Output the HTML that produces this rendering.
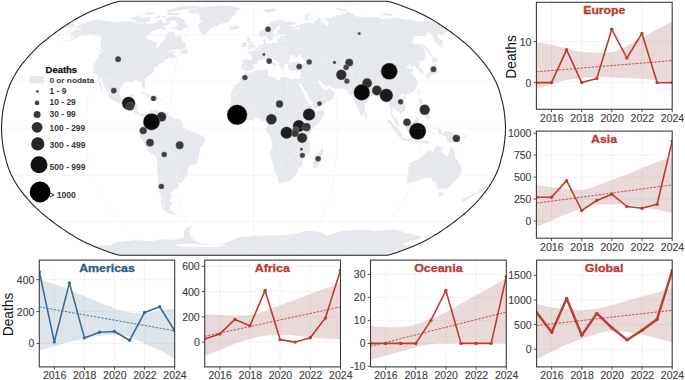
<!DOCTYPE html>
<html><head><meta charset="utf-8"><style>
html,body{margin:0;padding:0;background:#fff;}
svg{display:block;font-family:"Liberation Sans",sans-serif;}
.grid{stroke:#e9e9e9;stroke-width:0.8;stroke-dasharray:1.9,1.0;}
.spine{stroke:#3c3c3c;stroke-width:1.1;}
.tick{stroke:#3c3c3c;stroke-width:0.9;}
.tl{font-size:10px;fill:#404040;stroke:#404040;stroke-width:0.12;}
</style></head><body>
<svg width="685" height="380" viewBox="0 0 685 380">
<defs><clipPath id="mapclip"><path d="M387.6,1.2 L389.4,1.7 L391.3,2.2 L393.3,2.8 L395.5,3.5 L397.7,4.2 L400.0,5.1 L402.4,5.9 L404.9,6.9 L407.5,7.9 L410.1,8.9 L412.7,10.0 L415.4,11.1 L418.0,12.3 L420.6,13.5 L423.1,14.7 L425.6,16.0 L427.9,17.2 L430.2,18.5 L432.4,19.8 L434.6,21.1 L436.7,22.4 L438.8,23.7 L440.9,25.1 L442.9,26.5 L444.9,27.8 L446.9,29.2 L448.9,30.6 L450.9,32.0 L452.8,33.5 L454.7,34.9 L456.6,36.4 L458.5,37.8 L460.3,39.3 L462.1,40.8 L463.9,42.2 L465.7,43.7 L467.4,45.2 L469.0,46.7 L470.6,48.2 L472.2,49.8 L473.7,51.3 L475.2,52.8 L476.6,54.4 L478.0,55.9 L479.3,57.4 L480.7,59.0 L482.0,60.6 L483.3,62.1 L484.5,63.7 L485.7,65.2 L486.9,66.8 L488.0,68.4 L489.1,69.9 L490.1,71.5 L491.1,73.1 L492.0,74.7 L492.9,76.2 L493.8,77.8 L494.6,79.4 L495.4,81.0 L496.2,82.5 L496.9,84.1 L497.5,85.7 L498.1,87.3 L498.7,88.8 L499.2,90.4 L499.7,92.0 L500.2,93.6 L500.6,95.1 L501.0,96.7 L501.4,98.3 L501.8,99.9 L502.2,101.4 L502.6,103.0 L503.0,104.6 L503.3,106.2 L503.6,107.7 L503.9,109.3 L504.1,110.9 L504.3,112.5 L504.5,114.0 L504.7,115.6 L504.9,117.2 L505.0,118.8 L505.1,120.3 L505.3,121.9 L505.3,123.5 L505.4,125.1 L505.5,126.6 L505.5,128.2 L505.5,129.8 L505.4,131.3 L505.3,132.9 L505.3,134.5 L505.1,136.1 L505.0,137.6 L504.9,139.2 L504.7,140.8 L504.5,142.4 L504.3,143.9 L504.1,145.5 L503.9,147.1 L503.6,148.7 L503.3,150.2 L503.0,151.8 L502.6,153.4 L502.2,155.0 L501.8,156.5 L501.4,158.1 L501.0,159.7 L500.6,161.3 L500.2,162.8 L499.7,164.4 L499.2,166.0 L498.7,167.6 L498.1,169.1 L497.5,170.7 L496.9,172.3 L496.2,173.9 L495.4,175.4 L494.6,177.0 L493.8,178.6 L492.9,180.2 L492.0,181.7 L491.1,183.3 L490.1,184.9 L489.1,186.5 L488.0,188.0 L486.9,189.6 L485.7,191.2 L484.5,192.7 L483.3,194.3 L482.0,195.8 L480.7,197.4 L479.3,199.0 L478.0,200.5 L476.6,202.0 L475.2,203.6 L473.7,205.1 L472.2,206.6 L470.6,208.2 L469.0,209.7 L467.4,211.2 L465.7,212.7 L463.9,214.2 L462.1,215.6 L460.3,217.1 L458.5,218.6 L456.6,220.0 L454.7,221.5 L452.8,222.9 L450.9,224.4 L448.9,225.8 L446.9,227.2 L444.9,228.6 L442.9,229.9 L440.9,231.3 L438.8,232.7 L436.7,234.0 L434.6,235.3 L432.4,236.6 L430.2,237.9 L427.9,239.2 L425.6,240.4 L423.1,241.7 L420.6,242.9 L418.0,244.1 L415.4,245.3 L412.7,246.4 L410.1,247.5 L407.5,248.5 L404.9,249.5 L402.4,250.5 L400.0,251.3 L397.7,252.2 L395.5,252.9 L393.3,253.6 L391.3,254.2 L389.4,254.7 L387.6,255.2 L119.4,255.2 L117.6,254.7 L115.7,254.2 L113.7,253.6 L111.5,252.9 L109.3,252.2 L107.0,251.3 L104.6,250.5 L102.1,249.5 L99.5,248.5 L96.9,247.5 L94.3,246.4 L91.6,245.3 L89.0,244.1 L86.4,242.9 L83.9,241.7 L81.4,240.4 L79.1,239.2 L76.8,237.9 L74.6,236.6 L72.4,235.3 L70.3,234.0 L68.2,232.7 L66.1,231.3 L64.1,229.9 L62.1,228.6 L60.1,227.2 L58.1,225.8 L56.1,224.4 L54.2,222.9 L52.3,221.5 L50.4,220.0 L48.5,218.6 L46.7,217.1 L44.9,215.6 L43.1,214.2 L41.3,212.7 L39.6,211.2 L38.0,209.7 L36.4,208.2 L34.8,206.6 L33.3,205.1 L31.8,203.6 L30.4,202.0 L29.0,200.5 L27.7,199.0 L26.3,197.4 L25.0,195.8 L23.7,194.3 L22.5,192.7 L21.3,191.2 L20.1,189.6 L19.0,188.0 L17.9,186.5 L16.9,184.9 L15.9,183.3 L15.0,181.7 L14.1,180.2 L13.2,178.6 L12.4,177.0 L11.6,175.4 L10.8,173.9 L10.1,172.3 L9.5,170.7 L8.9,169.1 L8.3,167.6 L7.8,166.0 L7.3,164.4 L6.8,162.8 L6.4,161.3 L6.0,159.7 L5.6,158.1 L5.2,156.5 L4.8,155.0 L4.4,153.4 L4.0,151.8 L3.7,150.2 L3.4,148.7 L3.1,147.1 L2.9,145.5 L2.7,143.9 L2.5,142.4 L2.3,140.8 L2.1,139.2 L2.0,137.6 L1.9,136.1 L1.7,134.5 L1.7,132.9 L1.6,131.3 L1.5,129.8 L1.5,128.2 L1.5,126.6 L1.6,125.1 L1.7,123.5 L1.7,121.9 L1.9,120.3 L2.0,118.8 L2.1,117.2 L2.3,115.6 L2.5,114.0 L2.7,112.5 L2.9,110.9 L3.1,109.3 L3.4,107.7 L3.7,106.2 L4.0,104.6 L4.4,103.0 L4.8,101.4 L5.2,99.9 L5.6,98.3 L6.0,96.7 L6.4,95.1 L6.8,93.6 L7.3,92.0 L7.8,90.4 L8.3,88.8 L8.9,87.3 L9.5,85.7 L10.1,84.1 L10.8,82.5 L11.6,81.0 L12.4,79.4 L13.2,77.8 L14.1,76.2 L15.0,74.7 L15.9,73.1 L16.9,71.5 L17.9,69.9 L19.0,68.4 L20.1,66.8 L21.3,65.2 L22.5,63.7 L23.7,62.1 L25.0,60.6 L26.3,59.0 L27.7,57.4 L29.0,55.9 L30.4,54.4 L31.8,52.8 L33.3,51.3 L34.8,49.8 L36.4,48.2 L38.0,46.7 L39.6,45.2 L41.3,43.7 L43.1,42.2 L44.9,40.8 L46.7,39.3 L48.5,37.8 L50.4,36.4 L52.3,34.9 L54.2,33.5 L56.1,32.0 L58.1,30.6 L60.1,29.2 L62.1,27.8 L64.1,26.5 L66.1,25.1 L68.2,23.7 L70.3,22.4 L72.4,21.1 L74.6,19.8 L76.8,18.5 L79.1,17.2 L81.4,16.0 L83.9,14.7 L86.4,13.5 L89.0,12.3 L91.6,11.1 L94.3,10.0 L96.9,8.9 L99.5,7.9 L102.1,6.9 L104.6,5.9 L107.0,5.1 L109.3,4.2 L111.5,3.5 L113.7,2.8 L115.7,2.2 L117.6,1.7 L119.4,1.2Z"/></clipPath><clipPath id="clipEurope"><rect x="536.4" y="2.3" width="135.8" height="107.0"/></clipPath><clipPath id="clipAsia"><rect x="536.4" y="131.1" width="135.8" height="107.1"/></clipPath><clipPath id="clipAmericas"><rect x="39.3" y="260.1" width="135.4" height="106.8"/></clipPath><clipPath id="clipAfrica"><rect x="204.7" y="260.1" width="135.8" height="106.8"/></clipPath><clipPath id="clipOceania"><rect x="370.5" y="260.1" width="135.8" height="106.8"/></clipPath><clipPath id="clipGlobal"><rect x="536.6" y="260.1" width="135.6" height="106.8"/></clipPath></defs>
<rect width="685" height="380" fill="#fff"/>
<g clip-path="url(#mapclip)">
<path d="M52.3,221.5 L454.7,221.5 M11.6,175.4 L495.4,175.4 M1.5,128.2 L505.5,128.2 M11.6,81.0 L495.4,81.0 M52.3,34.9 L454.7,34.9 M164.1,255.2 L161.6,254.2 L158.9,252.9 L155.8,251.3 L152.6,249.5 L149.1,247.5 L145.6,245.3 L142.1,242.9 L138.8,240.4 L135.7,237.9 L132.8,235.3 L130.0,232.7 L127.2,229.9 L124.5,227.2 L121.9,224.4 L119.3,221.5 L116.8,218.6 L114.4,215.6 L112.1,212.7 L109.8,209.7 L107.7,206.6 L105.7,203.6 L103.8,200.5 L102.0,197.4 L100.3,194.3 L98.7,191.2 L97.2,188.0 L95.8,184.9 L94.5,181.7 L93.3,178.6 L92.2,175.4 L91.3,172.3 L90.4,169.1 L89.7,166.0 L89.1,162.8 L88.5,159.7 L87.9,156.5 L87.4,153.4 L87.0,150.2 L86.6,147.1 L86.3,143.9 L86.0,140.8 L85.8,137.6 L85.7,134.5 L85.6,131.3 L85.5,128.2 L85.6,125.1 L85.7,121.9 L85.8,118.8 L86.0,115.6 L86.3,112.5 L86.6,109.3 L87.0,106.2 L87.4,103.0 L87.9,99.9 L88.5,96.7 L89.1,93.6 L89.7,90.4 L90.4,87.3 L91.3,84.1 L92.2,81.0 L93.3,77.8 L94.5,74.7 L95.8,71.5 L97.2,68.4 L98.7,65.2 L100.3,62.1 L102.0,59.0 L103.8,55.9 L105.7,52.8 L107.7,49.8 L109.8,46.7 L112.1,43.7 L114.4,40.8 L116.8,37.8 L119.3,34.9 L121.9,32.0 L124.5,29.2 L127.2,26.5 L130.0,23.7 L132.8,21.1 L135.7,18.5 L138.8,16.0 L142.1,13.5 L145.6,11.1 L149.1,8.9 L152.6,6.9 L155.8,5.1 L158.9,3.5 L161.6,2.2 L164.1,1.2 M208.8,255.2 L207.6,254.2 L206.2,252.9 L204.7,251.3 L203.0,249.5 L201.3,247.5 L199.5,245.3 L197.8,242.9 L196.1,240.4 L194.6,237.9 L193.1,235.3 L191.7,232.7 L190.4,229.9 L189.0,227.2 L187.7,224.4 L186.4,221.5 L185.2,218.6 L184.0,215.6 L182.8,212.7 L181.7,209.7 L180.6,206.6 L179.6,203.6 L178.7,200.5 L177.8,197.4 L176.9,194.3 L176.1,191.2 L175.3,188.0 L174.6,184.9 L174.0,181.7 L173.4,178.6 L172.9,175.4 L172.4,172.3 L172.0,169.1 L171.6,166.0 L171.3,162.8 L171.0,159.7 L170.7,156.5 L170.5,153.4 L170.2,150.2 L170.0,147.1 L169.9,143.9 L169.8,140.8 L169.7,137.6 L169.6,134.5 L169.5,131.3 L169.5,128.2 L169.5,125.1 L169.6,121.9 L169.7,118.8 L169.8,115.6 L169.9,112.5 L170.0,109.3 L170.2,106.2 L170.5,103.0 L170.7,99.9 L171.0,96.7 L171.3,93.6 L171.6,90.4 L172.0,87.3 L172.4,84.1 L172.9,81.0 L173.4,77.8 L174.0,74.7 L174.6,71.5 L175.3,68.4 L176.1,65.2 L176.9,62.1 L177.8,59.0 L178.7,55.9 L179.6,52.8 L180.6,49.8 L181.7,46.7 L182.8,43.7 L184.0,40.8 L185.2,37.8 L186.4,34.9 L187.7,32.0 L189.0,29.2 L190.4,26.5 L191.7,23.7 L193.1,21.1 L194.6,18.5 L196.1,16.0 L197.8,13.5 L199.5,11.1 L201.3,8.9 L203.0,6.9 L204.7,5.1 L206.2,3.5 L207.6,2.2 L208.8,1.2 M253.5,255.2 L253.5,254.2 L253.5,252.9 L253.5,251.3 L253.5,249.5 L253.5,247.5 L253.5,245.3 L253.5,242.9 L253.5,240.4 L253.5,237.9 L253.5,235.3 L253.5,232.7 L253.5,229.9 L253.5,227.2 L253.5,224.4 L253.5,221.5 L253.5,218.6 L253.5,215.6 L253.5,212.7 L253.5,209.7 L253.5,206.6 L253.5,203.6 L253.5,200.5 L253.5,197.4 L253.5,194.3 L253.5,191.2 L253.5,188.0 L253.5,184.9 L253.5,181.7 L253.5,178.6 L253.5,175.4 L253.5,172.3 L253.5,169.1 L253.5,166.0 L253.5,162.8 L253.5,159.7 L253.5,156.5 L253.5,153.4 L253.5,150.2 L253.5,147.1 L253.5,143.9 L253.5,140.8 L253.5,137.6 L253.5,134.5 L253.5,131.3 L253.5,128.2 L253.5,125.1 L253.5,121.9 L253.5,118.8 L253.5,115.6 L253.5,112.5 L253.5,109.3 L253.5,106.2 L253.5,103.0 L253.5,99.9 L253.5,96.7 L253.5,93.6 L253.5,90.4 L253.5,87.3 L253.5,84.1 L253.5,81.0 L253.5,77.8 L253.5,74.7 L253.5,71.5 L253.5,68.4 L253.5,65.2 L253.5,62.1 L253.5,59.0 L253.5,55.9 L253.5,52.8 L253.5,49.8 L253.5,46.7 L253.5,43.7 L253.5,40.8 L253.5,37.8 L253.5,34.9 L253.5,32.0 L253.5,29.2 L253.5,26.5 L253.5,23.7 L253.5,21.1 L253.5,18.5 L253.5,16.0 L253.5,13.5 L253.5,11.1 L253.5,8.9 L253.5,6.9 L253.5,5.1 L253.5,3.5 L253.5,2.2 L253.5,1.2 M298.2,255.2 L299.4,254.2 L300.8,252.9 L302.3,251.3 L304.0,249.5 L305.7,247.5 L307.5,245.3 L309.2,242.9 L310.9,240.4 L312.4,237.9 L313.9,235.3 L315.3,232.7 L316.6,229.9 L318.0,227.2 L319.3,224.4 L320.6,221.5 L321.8,218.6 L323.0,215.6 L324.2,212.7 L325.3,209.7 L326.4,206.6 L327.4,203.6 L328.3,200.5 L329.2,197.4 L330.1,194.3 L330.9,191.2 L331.7,188.0 L332.4,184.9 L333.0,181.7 L333.6,178.6 L334.1,175.4 L334.6,172.3 L335.0,169.1 L335.4,166.0 L335.7,162.8 L336.0,159.7 L336.3,156.5 L336.5,153.4 L336.8,150.2 L337.0,147.1 L337.1,143.9 L337.2,140.8 L337.3,137.6 L337.4,134.5 L337.5,131.3 L337.5,128.2 L337.5,125.1 L337.4,121.9 L337.3,118.8 L337.2,115.6 L337.1,112.5 L337.0,109.3 L336.8,106.2 L336.5,103.0 L336.3,99.9 L336.0,96.7 L335.7,93.6 L335.4,90.4 L335.0,87.3 L334.6,84.1 L334.1,81.0 L333.6,77.8 L333.0,74.7 L332.4,71.5 L331.7,68.4 L330.9,65.2 L330.1,62.1 L329.2,59.0 L328.3,55.9 L327.4,52.8 L326.4,49.8 L325.3,46.7 L324.2,43.7 L323.0,40.8 L321.8,37.8 L320.6,34.9 L319.3,32.0 L318.0,29.2 L316.6,26.5 L315.3,23.7 L313.9,21.1 L312.4,18.5 L310.9,16.0 L309.2,13.5 L307.5,11.1 L305.7,8.9 L304.0,6.9 L302.3,5.1 L300.8,3.5 L299.4,2.2 L298.2,1.2 M342.9,255.2 L345.4,254.2 L348.1,252.9 L351.2,251.3 L354.4,249.5 L357.9,247.5 L361.4,245.3 L364.9,242.9 L368.2,240.4 L371.3,237.9 L374.2,235.3 L377.0,232.7 L379.8,229.9 L382.5,227.2 L385.1,224.4 L387.7,221.5 L390.2,218.6 L392.6,215.6 L394.9,212.7 L397.2,209.7 L399.3,206.6 L401.3,203.6 L403.2,200.5 L405.0,197.4 L406.7,194.3 L408.3,191.2 L409.8,188.0 L411.2,184.9 L412.5,181.7 L413.7,178.6 L414.8,175.4 L415.7,172.3 L416.6,169.1 L417.3,166.0 L417.9,162.8 L418.5,159.7 L419.1,156.5 L419.6,153.4 L420.0,150.2 L420.4,147.1 L420.7,143.9 L421.0,140.8 L421.2,137.6 L421.3,134.5 L421.4,131.3 L421.5,128.2 L421.4,125.1 L421.3,121.9 L421.2,118.8 L421.0,115.6 L420.7,112.5 L420.4,109.3 L420.0,106.2 L419.6,103.0 L419.1,99.9 L418.5,96.7 L417.9,93.6 L417.3,90.4 L416.6,87.3 L415.7,84.1 L414.8,81.0 L413.7,77.8 L412.5,74.7 L411.2,71.5 L409.8,68.4 L408.3,65.2 L406.7,62.1 L405.0,59.0 L403.2,55.9 L401.3,52.8 L399.3,49.8 L397.2,46.7 L394.9,43.7 L392.6,40.8 L390.2,37.8 L387.7,34.9 L385.1,32.0 L382.5,29.2 L379.8,26.5 L377.0,23.7 L374.2,21.1 L371.3,18.5 L368.2,16.0 L364.9,13.5 L361.4,11.1 L357.9,8.9 L354.4,6.9 L351.2,5.1 L348.1,3.5 L345.4,2.2 L342.9,1.2" fill="none" stroke="#ececec" stroke-width="0.5"/>
<path d="M75.9,27.0 L78.4,25.8 L80.8,24.5 L83.2,23.3 L85.0,22.8 L86.8,22.3 L88.5,21.7 L90.5,21.1 L92.5,20.4 L93.7,20.2 L94.9,20.0 L96.1,19.8 L97.3,19.6 L98.5,19.4 L99.2,19.5 L99.9,19.6 L100.6,19.8 L101.3,19.9 L102.0,20.0 L102.8,20.2 L103.6,20.4 L104.4,20.5 L105.1,20.7 L106.0,20.8 L106.8,20.9 L107.7,21.0 L108.6,21.1 L109.4,21.2 L110.3,21.4 L111.1,21.5 L111.9,21.7 L112.7,21.8 L113.5,22.0 L114.3,22.2 L115.1,22.4 L116.4,22.2 L117.6,22.0 L118.9,21.7 L120.2,21.5 L121.4,21.3 L122.7,21.1 L123.5,21.3 L124.3,21.5 L125.1,21.7 L125.8,21.9 L126.9,21.8 L128.0,21.8 L129.1,21.7 L130.1,21.7 L131.2,21.6 L132.0,21.8 L132.8,22.0 L133.6,22.2 L134.4,22.4 L135.2,22.6 L136.0,22.8 L136.9,23.0 L137.7,23.2 L138.6,23.4 L139.4,23.5 L140.3,23.7 L141.4,23.6 L142.6,23.4 L143.8,23.2 L145.0,23.1 L145.8,23.3 L146.7,23.4 L147.6,23.6 L148.4,23.8 L149.3,24.0 L150.4,23.9 L151.6,23.7 L152.7,23.6 L153.9,23.5 L155.0,23.1 L156.2,22.8 L157.3,22.4 L158.5,21.2 L159.7,19.9 L161.0,18.7 L161.3,19.5 L161.7,20.2 L162.1,20.9 L162.5,21.7 L162.9,22.4 L163.4,22.8 L163.9,23.3 L164.4,23.7 L166.0,22.7 L167.6,21.6 L168.7,21.5 L169.7,21.4 L170.8,21.3 L170.5,22.3 L170.3,23.2 L168.9,24.3 L167.4,25.4 L166.2,25.6 L165.0,25.9 L163.7,26.2 L162.4,27.3 L161.0,28.5 L159.8,28.8 L158.6,29.0 L157.3,29.2 L155.7,29.9 L154.2,30.6 L152.6,31.3 L151.0,32.5 L149.4,33.7 L147.8,34.9 L147.2,35.8 L146.5,36.6 L146.8,37.5 L147.0,38.4 L147.2,39.3 L148.2,39.5 L149.3,39.6 L150.3,39.8 L151.4,40.0 L152.1,40.5 L152.9,40.9 L153.6,41.3 L154.4,41.8 L155.4,41.9 L156.3,42.1 L157.3,42.2 L156.7,43.3 L156.1,44.4 L155.6,45.5 L156.1,46.6 L156.7,47.6 L157.6,47.6 L158.5,47.5 L159.4,46.0 L160.2,44.5 L161.1,43.0 L162.9,41.5 L164.6,40.0 L165.0,38.7 L165.5,37.4 L165.8,36.3 L166.1,35.2 L166.4,34.2 L167.5,32.9 L168.7,31.6 L169.7,31.5 L170.7,31.5 L171.7,31.4 L172.8,31.3 L173.5,31.9 L174.3,32.6 L175.0,33.2 L175.0,34.2 L175.0,35.3 L175.1,36.4 L175.9,36.9 L176.8,37.4 L178.2,36.5 L179.5,35.7 L180.8,34.9 L180.6,36.0 L180.4,37.1 L181.0,37.8 L181.6,38.5 L182.3,39.3 L182.4,40.4 L182.5,41.5 L183.5,41.9 L184.5,42.2 L185.1,43.4 L185.7,44.5 L186.3,45.4 L186.8,46.3 L185.6,47.0 L184.3,47.6 L183.1,48.2 L181.9,48.9 L180.7,49.5 L179.5,49.4 L178.3,49.4 L177.1,49.3 L176.0,49.4 L174.9,49.5 L173.8,49.5 L172.8,49.6 L171.3,50.4 L169.8,51.1 L168.3,52.3 L166.8,53.5 L165.4,54.7 L167.1,53.4 L168.6,52.7 L170.0,52.0 L171.5,51.3 L172.5,51.3 L173.6,51.3 L174.6,51.3 L173.4,52.8 L173.2,54.4 L173.8,54.9 L174.5,55.4 L175.4,55.8 L176.3,56.2 L177.2,56.5 L177.1,57.1 L175.9,57.5 L174.7,57.9 L173.5,58.2 L172.4,58.7 L171.4,59.2 L170.4,59.6 L170.1,58.1 L171.4,57.5 L172.7,57.0 L171.6,57.1 L170.6,57.2 L169.5,57.3 L168.5,57.9 L167.6,58.5 L166.3,58.9 L165.0,59.3 L164.3,60.2 L163.6,61.0 L164.0,62.4 L163.0,62.8 L161.9,63.2 L160.7,63.6 L159.5,63.9 L158.3,64.3 L157.7,65.9 L156.7,66.5 L155.8,67.1 L154.2,68.4 L153.6,69.9 L154.0,71.5 L152.5,73.1 L151.5,73.9 L150.4,74.7 L149.3,75.3 L148.2,75.9 L146.8,76.9 L145.4,77.8 L144.8,79.0 L144.3,80.2 L144.4,81.3 L144.6,82.5 L144.8,83.6 L144.8,85.1 L144.9,86.5 L144.5,87.4 L144.1,88.4 L142.9,88.5 L142.7,87.6 L142.4,86.8 L141.9,85.6 L141.5,84.4 L141.7,83.5 L142.0,82.5 L141.3,81.7 L140.6,81.0 L139.6,81.1 L138.5,81.3 L137.4,80.3 L136.1,80.3 L134.7,80.3 L133.9,80.6 L133.1,80.8 L133.3,82.4 L132.4,82.4 L131.5,82.4 L130.6,82.0 L129.7,81.6 L128.4,81.5 L127.0,81.4 L125.8,82.2 L124.6,83.0 L123.3,83.9 L121.9,84.7 L121.5,86.0 L121.1,87.3 L120.6,88.7 L120.2,90.1 L119.9,91.6 L119.6,93.1 L119.8,94.3 L120.0,95.6 L120.5,96.7 L120.9,97.8 L121.7,98.4 L122.5,99.1 L123.6,99.5 L124.8,99.2 L126.0,98.9 L126.9,98.8 L127.8,98.8 L128.4,97.9 L129.0,97.0 L129.3,96.1 L129.5,95.1 L131.0,94.7 L132.4,94.3 L133.4,94.5 L134.4,94.7 L133.7,96.1 L133.1,97.5 L132.4,98.7 L131.8,99.9 L131.6,101.3 L131.3,102.7 L132.4,103.3 L133.8,103.2 L135.1,103.2 L136.5,103.7 L137.8,104.3 L137.8,105.4 L137.7,106.5 L137.5,107.7 L137.3,108.9 L137.2,110.1 L137.4,111.0 L137.6,112.0 L138.7,113.1 L139.8,114.2 L141.3,113.6 L142.7,113.1 L143.7,113.4 L144.7,113.7 L145.5,114.7 L145.7,115.8 L145.0,115.5 L144.2,115.3 L144.0,116.2 L142.9,116.5 L141.8,116.7 L141.2,115.4 L140.1,115.4 L139.1,115.3 L138.0,115.1 L137.0,114.8 L136.0,114.1 L135.0,113.3 L134.1,112.6 L134.0,111.7 L134.0,110.9 L133.0,109.4 L132.0,107.9 L130.8,107.5 L129.5,107.1 L128.1,106.7 L126.8,106.3 L125.7,105.4 L124.6,104.4 L123.7,103.6 L122.7,102.8 L121.3,103.2 L119.9,103.6 L118.9,103.2 L117.9,102.7 L116.9,102.2 L115.7,101.7 L114.5,101.2 L113.3,100.6 L112.1,100.0 L110.8,99.4 L109.7,98.2 L108.7,97.0 L108.7,95.7 L108.8,94.3 L108.7,92.8 L107.7,91.3 L106.7,89.8 L105.8,88.8 L104.8,87.9 L104.5,86.5 L104.3,85.1 L103.2,83.8 L102.2,82.5 L102.2,81.4 L102.2,80.2 L102.2,79.1 L101.1,78.8 L100.0,78.4 L99.9,79.7 L99.7,81.0 L100.4,82.4 L101.1,83.8 L101.4,85.0 L101.8,86.2 L102.2,87.4 L102.4,88.8 L102.6,90.1 L103.2,90.9 L103.8,91.7 L102.8,91.2 L101.7,90.2 L100.6,89.1 L100.8,88.0 L101.0,86.8 L99.9,85.8 L98.9,84.7 L99.1,83.8 L99.3,82.8 L98.5,81.7 L97.7,80.5 L97.6,79.4 L97.5,78.3 L97.6,77.1 L97.6,75.9 L97.0,75.3 L96.5,74.7 L95.7,74.3 L94.9,74.0 L94.1,73.7 L93.8,72.3 L93.6,70.9 L93.6,69.9 L93.6,69.0 L93.5,67.4 L93.4,65.9 L93.5,64.5 L94.4,62.9 L95.4,61.3 L96.1,60.2 L96.8,59.2 L97.5,58.1 L98.3,56.8 L99.1,55.4 L99.7,53.9 L100.2,52.4 L101.2,52.4 L102.1,52.5 L103.3,51.3 L102.7,50.5 L102.2,49.8 L101.6,49.0 L100.9,48.2 L100.3,47.5 L100.5,46.4 L100.8,45.2 L100.7,44.0 L100.6,42.8 L100.8,41.8 L101.1,40.8 L101.0,39.7 L100.9,38.7 L100.7,38.0 L100.6,37.2 L100.4,36.5 L99.5,36.4 L98.7,36.4 L97.8,36.4 L97.2,36.0 L96.7,35.7 L96.2,35.3 L95.4,35.2 L94.6,35.1 L93.8,35.0 L93.1,34.9 L92.4,34.5 L91.6,34.1 L91.0,33.8 L89.6,34.1 L88.3,34.5 L86.9,34.9 L85.4,35.3 L84.0,35.7 L82.5,36.1 L84.0,35.0 L85.5,33.9 L84.0,34.5 L82.4,35.1 L80.9,35.8 L79.2,36.8 L77.5,37.8 L75.6,38.5 L73.7,39.3 L72.2,39.8 L70.8,40.4 L69.4,40.9 L68.1,41.2 L66.9,41.6 L65.6,41.9 L64.4,42.2 L62.9,42.5 L61.4,42.8 L59.9,43.1 L61.7,42.4 L63.6,41.7 L65.4,41.0 L66.9,40.6 L68.4,40.2 L69.9,39.7 L71.4,39.3 L73.5,38.1 L75.7,36.9 L74.9,36.8 L74.2,36.6 L73.2,36.7 L72.2,36.8 L71.2,36.9 L70.2,36.9 L71.1,35.9 L72.0,34.9 L71.2,34.7 L70.4,34.4 L69.6,34.2 L70.8,33.1 L72.1,32.0 L73.7,31.2 L75.3,30.3 L76.3,30.2 L77.4,30.1 L78.5,30.0 L79.6,29.9 L80.7,29.2 L81.8,28.4 L80.8,28.4 L79.8,28.4 L78.9,28.4 L77.9,28.3 L76.9,28.3 L76.0,28.2 L75.9,27.6 L75.9,27.0Z M145.7,115.8 L146.4,114.7 L147.2,114.0 L148.0,113.4 L148.3,112.3 L148.6,111.2 L150.1,110.7 L151.5,110.1 L152.9,109.5 L154.1,110.6 L153.6,112.1 L154.5,112.6 L154.0,111.3 L153.4,110.1 L154.6,110.0 L155.8,109.9 L156.5,110.1 L157.5,110.8 L158.5,111.5 L159.9,111.5 L161.3,111.5 L162.6,111.7 L163.9,111.8 L165.0,111.7 L166.2,111.5 L167.3,111.3 L166.1,112.3 L167.3,113.5 L168.4,114.7 L169.2,114.9 L170.1,115.1 L170.9,116.0 L171.8,116.9 L172.5,117.7 L173.2,118.6 L174.3,118.8 L175.4,119.1 L176.7,119.1 L178.0,119.1 L178.9,119.4 L179.7,119.7 L180.5,120.6 L181.3,121.6 L182.2,122.4 L182.8,123.9 L183.5,125.4 L183.1,126.6 L182.7,127.9 L184.1,128.2 L185.5,128.5 L185.6,129.5 L185.8,130.6 L186.7,130.0 L187.7,129.5 L188.7,129.9 L189.8,130.3 L190.8,130.7 L191.9,132.1 L193.1,132.3 L194.3,132.6 L195.4,132.8 L196.5,133.0 L197.6,133.3 L198.7,133.6 L199.9,134.7 L201.2,135.8 L202.5,136.1 L203.7,136.4 L204.1,137.6 L204.4,138.8 L204.8,140.0 L204.6,141.2 L204.4,142.4 L203.2,143.9 L202.0,145.5 L200.9,147.1 L199.9,148.7 L199.7,150.0 L199.5,151.3 L199.3,152.6 L199.3,153.8 L199.2,155.0 L199.1,156.2 L198.8,157.5 L198.4,158.8 L198.1,160.1 L197.8,161.4 L197.4,162.7 L196.2,164.3 L195.0,164.5 L193.7,164.7 L192.5,164.9 L191.6,165.4 L190.6,165.8 L189.6,166.3 L188.6,167.6 L187.6,169.0 L187.6,170.3 L187.7,171.6 L187.7,172.9 L187.0,174.3 L186.3,175.7 L185.6,177.0 L184.8,178.3 L184.0,179.5 L183.1,181.0 L182.3,182.4 L181.7,182.8 L181.0,183.2 L180.2,183.2 L179.3,183.2 L178.2,182.8 L177.0,182.4 L177.7,183.5 L178.4,184.6 L179.1,185.5 L178.8,186.9 L178.5,188.3 L177.6,188.7 L176.6,189.1 L175.6,189.2 L174.6,189.2 L173.6,189.2 L172.6,189.3 L173.1,190.7 L173.6,192.1 L172.5,192.2 L171.5,192.3 L170.4,192.4 L170.4,193.4 L170.4,194.3 L171.6,194.8 L172.7,195.2 L171.9,195.7 L171.1,196.2 L171.2,197.2 L171.3,198.2 L170.7,198.6 L170.1,199.0 L169.7,200.0 L169.3,201.0 L170.8,201.7 L172.3,202.3 L171.9,203.5 L171.6,204.6 L170.9,205.8 L170.3,206.9 L170.3,207.9 L170.4,208.8 L171.9,210.1 L171.0,210.4 L170.1,210.7 L169.9,211.6 L169.6,212.5 L168.6,212.2 L167.7,211.8 L166.7,211.5 L165.5,210.8 L164.3,210.1 L163.1,208.7 L162.0,207.2 L161.4,205.9 L160.9,204.5 L161.0,203.1 L161.0,201.7 L161.0,200.5 L161.0,199.4 L161.0,198.2 L160.9,197.0 L160.8,195.9 L160.7,194.8 L159.9,193.6 L159.2,192.4 L158.4,191.2 L158.1,189.9 L157.8,188.6 L157.5,187.2 L157.8,185.7 L158.0,184.1 L158.1,182.5 L158.1,181.0 L158.2,179.4 L158.0,178.0 L157.7,176.5 L157.5,175.1 L157.4,173.9 L157.4,172.7 L157.4,171.5 L157.4,169.9 L157.4,168.4 L157.5,166.8 L157.4,165.6 L157.4,164.3 L157.4,163.1 L157.3,161.9 L157.1,160.7 L156.9,159.5 L156.7,158.2 L156.6,157.0 L155.7,156.3 L154.9,155.6 L153.6,154.8 L152.3,154.0 L151.1,153.2 L149.6,152.1 L148.1,151.0 L147.4,149.8 L146.8,148.5 L146.1,147.3 L145.4,146.0 L144.8,144.8 L144.1,143.6 L143.5,142.3 L142.9,140.9 L142.3,139.5 L141.3,138.7 L140.2,137.8 L140.0,136.5 L139.8,135.1 L140.5,134.3 L141.2,133.6 L141.4,132.6 L141.5,131.7 L140.9,130.8 L140.3,129.9 L140.5,128.5 L140.8,127.1 L141.9,126.3 L143.2,125.2 L143.8,123.9 L144.7,122.9 L145.7,121.9 L145.5,120.5 L145.4,119.2 L145.2,117.8 L144.7,116.9 L145.7,115.8Z M171.7,210.6 L172.7,211.6 L173.8,212.5 L174.8,213.3 L175.9,214.2 L175.1,214.3 L174.4,214.5 L173.6,214.6 L172.6,214.5 L171.5,214.3 L170.5,214.2 L168.9,213.2 L167.2,212.2 L165.6,211.2 L166.7,211.4 L167.8,211.7 L168.9,211.9 L169.4,211.6 L170.0,211.2 L170.9,210.9 L171.7,210.6Z M245.7,71.8 L247.0,72.1 L248.2,72.4 L249.4,72.6 L250.6,72.9 L251.6,72.5 L252.5,72.1 L253.5,71.7 L254.6,71.3 L255.6,71.0 L256.6,70.6 L257.7,70.3 L258.7,70.1 L259.7,70.0 L260.7,69.9 L261.7,69.8 L262.9,69.7 L264.0,69.6 L265.2,69.5 L266.3,69.5 L267.2,69.7 L268.0,69.9 L267.5,70.9 L266.9,71.8 L268.0,72.8 L267.5,73.6 L267.0,74.5 L267.8,75.3 L268.5,76.1 L269.7,76.2 L270.9,76.4 L271.9,76.7 L272.8,77.0 L273.8,77.3 L274.8,78.0 L275.9,78.7 L276.9,79.4 L278.0,79.9 L279.1,80.5 L280.4,79.1 L280.3,78.3 L280.2,77.5 L281.2,77.0 L282.1,76.5 L283.2,76.7 L284.3,76.9 L285.6,77.3 L286.9,77.8 L288.2,78.3 L289.6,78.8 L291.0,79.1 L292.4,79.5 L293.7,79.1 L295.0,78.6 L295.8,78.8 L296.7,78.9 L298.0,79.0 L299.3,79.1 L299.9,80.4 L300.5,81.7 L299.9,83.2 L299.4,84.7 L298.7,83.5 L298.0,82.3 L297.3,81.1 L297.0,81.6 L297.8,83.2 L298.7,84.7 L299.6,86.1 L300.4,87.4 L301.3,89.0 L302.2,90.6 L303.0,91.9 L303.8,93.2 L304.2,94.2 L304.7,95.1 L304.9,96.4 L305.0,97.6 L305.2,98.9 L306.0,99.5 L306.8,100.0 L307.2,101.3 L307.7,102.5 L308.2,103.8 L309.4,104.6 L310.6,105.4 L311.7,106.6 L312.7,107.9 L313.7,108.7 L313.5,110.1 L314.5,111.0 L315.5,111.8 L316.5,111.6 L317.4,111.4 L318.4,111.2 L319.4,110.9 L320.5,110.6 L321.6,110.2 L322.6,110.0 L323.6,109.7 L324.6,109.5 L324.6,110.5 L324.5,111.5 L324.4,112.4 L324.3,113.2 L323.8,114.7 L323.2,116.1 L322.6,117.5 L322.0,118.7 L321.3,119.9 L320.6,121.1 L319.7,122.4 L318.7,123.6 L317.3,124.9 L316.2,125.8 L315.1,126.6 L313.8,128.1 L312.4,129.6 L311.6,130.6 L310.7,131.5 L310.0,132.8 L309.3,134.0 L308.3,135.6 L308.0,137.0 L307.7,138.4 L308.1,139.6 L308.5,140.8 L308.5,141.7 L308.6,142.5 L309.1,143.5 L309.6,144.4 L309.7,145.6 L309.8,146.7 L309.8,147.9 L309.8,149.2 L309.8,150.6 L309.5,151.6 L309.2,152.6 L308.4,153.5 L307.6,154.3 L306.4,155.1 L305.1,155.9 L304.3,156.8 L303.5,157.6 L302.7,159.2 L301.8,160.8 L302.1,161.9 L302.3,163.0 L302.1,164.5 L302.0,166.0 L300.8,166.7 L299.6,167.5 L298.4,168.2 L297.8,169.3 L298.1,170.6 L297.8,171.7 L297.4,172.8 L296.5,173.6 L295.6,174.5 L294.6,176.0 L293.6,177.5 L292.3,178.7 L291.0,179.9 L289.8,180.5 L288.5,181.1 L287.6,181.3 L286.7,181.4 L285.6,181.5 L284.5,181.6 L283.4,181.7 L282.2,182.1 L280.9,182.4 L280.1,182.7 L279.4,183.0 L278.6,182.4 L277.9,181.7 L277.9,180.6 L277.9,179.5 L277.7,178.5 L277.5,177.5 L276.8,176.1 L276.2,174.7 L275.5,173.2 L274.8,172.1 L274.1,170.9 L273.8,169.5 L273.5,168.2 L273.4,166.8 L273.3,165.4 L273.2,163.9 L272.6,162.5 L271.9,161.1 L271.4,159.7 L270.9,158.3 L270.3,156.9 L269.8,155.4 L269.7,154.3 L269.7,153.1 L270.1,152.0 L270.4,150.9 L271.1,149.6 L271.8,148.4 L272.4,147.1 L272.5,146.1 L272.6,145.1 L272.3,143.9 L272.0,142.8 L271.6,141.7 L271.3,140.4 L271.0,139.1 L270.7,137.8 L270.5,137.3 L270.1,136.1 L269.6,135.2 L269.0,134.3 L267.8,132.9 L266.7,131.5 L265.8,129.9 L266.1,128.8 L266.5,127.7 L266.8,126.6 L266.9,125.5 L267.1,124.4 L267.2,123.3 L266.6,122.4 L265.4,121.1 L264.4,121.1 L263.4,121.1 L262.6,121.3 L261.8,121.4 L260.6,119.9 L259.5,118.3 L258.4,118.3 L257.3,118.3 L256.1,118.6 L254.9,118.9 L253.9,119.4 L252.9,119.9 L252.0,120.3 L250.6,120.3 L249.3,120.3 L248.2,120.2 L247.1,120.0 L245.7,120.5 L244.4,121.0 L243.0,121.4 L242.0,121.0 L240.9,120.6 L239.8,119.6 L238.7,118.5 L237.6,117.5 L236.5,116.7 L235.5,115.9 L235.3,115.1 L235.1,114.2 L234.1,113.2 L233.2,112.1 L232.5,111.1 L231.8,110.1 L231.0,109.4 L230.1,108.7 L230.0,107.1 L229.8,105.5 L229.1,105.1 L229.9,103.8 L230.7,102.5 L231.0,101.1 L231.2,100.0 L231.4,98.9 L231.1,97.3 L230.8,95.8 L230.2,94.5 L230.7,93.5 L231.2,92.5 L231.8,91.1 L232.5,89.8 L233.2,88.3 L233.9,86.8 L234.9,85.8 L235.8,84.7 L236.6,84.1 L237.6,83.6 L238.7,83.0 L239.6,82.1 L240.6,81.1 L240.5,80.1 L240.4,79.1 L241.1,77.9 L241.9,76.7 L243.1,75.6 L244.4,74.5 L245.3,72.9 L245.7,71.8Z M322.1,147.1 L322.6,148.4 L323.1,149.6 L323.3,150.9 L323.5,152.1 L323.0,153.4 L322.4,154.3 L321.9,155.1 L321.5,156.5 L321.0,157.8 L320.6,159.1 L320.1,160.5 L319.7,161.8 L319.3,163.1 L318.8,164.4 L318.4,165.7 L318.0,166.6 L317.7,167.6 L316.5,168.0 L315.3,168.5 L314.4,168.0 L313.4,167.4 L313.2,165.9 L313.0,164.5 L312.8,163.0 L313.2,162.0 L313.6,161.0 L314.1,159.9 L314.6,158.8 L314.4,157.2 L314.3,155.6 L314.6,154.7 L314.9,153.7 L316.3,153.4 L317.6,153.1 L318.6,152.1 L319.6,151.2 L320.5,150.0 L321.3,148.8 L321.7,148.0 L322.1,147.1Z M241.6,60.6 L242.1,62.1 L242.2,63.0 L242.2,64.0 L241.7,65.5 L241.2,67.1 L242.1,67.9 L241.9,69.0 L241.8,70.1 L242.8,69.9 L243.7,69.8 L244.4,70.0 L245.1,70.3 L246.4,71.4 L247.7,70.4 L248.7,70.4 L249.7,70.4 L250.7,70.4 L251.8,69.7 L252.8,69.0 L253.2,68.1 L253.6,67.3 L253.1,66.3 L253.8,65.3 L254.4,64.3 L255.0,63.5 L256.3,62.9 L257.6,62.3 L257.5,61.3 L257.4,60.4 L258.4,60.2 L259.3,59.9 L260.5,60.2 L261.7,60.4 L262.9,59.5 L263.8,58.9 L264.7,58.4 L265.5,58.8 L266.4,59.2 L266.8,60.7 L267.8,61.6 L269.0,62.6 L270.3,63.4 L271.6,64.0 L272.5,64.6 L273.4,65.2 L273.8,66.2 L274.1,67.1 L274.0,68.5 L274.5,68.4 L275.0,67.1 L275.8,66.2 L275.6,65.3 L275.4,64.5 L276.4,64.7 L277.3,64.9 L277.0,63.8 L276.0,63.3 L275.0,62.8 L273.9,62.3 L272.8,62.3 L272.0,61.6 L271.3,60.9 L270.6,59.6 L269.8,58.8 L269.0,58.1 L269.3,56.8 L269.9,56.7 L270.6,56.5 L270.7,57.3 L271.4,57.5 L272.2,57.8 L272.9,59.2 L274.0,59.7 L275.1,60.2 L276.2,60.8 L277.3,61.3 L278.3,62.3 L278.5,63.8 L278.4,64.8 L279.6,65.9 L280.8,67.3 L281.4,68.5 L281.6,69.4 L281.8,70.3 L283.0,70.9 L283.9,70.9 L283.3,69.5 L283.7,68.4 L284.8,68.8 L283.9,67.9 L283.1,67.0 L283.8,66.5 L283.2,65.6 L282.6,64.8 L283.7,65.4 L284.5,65.2 L284.0,64.1 L284.8,63.8 L285.9,63.9 L286.9,64.0 L287.4,63.5 L288.4,63.5 L289.4,63.5 L290.7,63.2 L289.7,62.6 L289.1,61.0 L288.6,61.2 L288.8,59.6 L289.7,59.5 L289.7,58.5 L289.7,57.6 L290.5,56.8 L291.1,55.9 L291.6,55.0 L292.9,54.8 L293.9,55.3 L295.0,55.7 L294.3,56.7 L295.8,58.1 L296.7,57.8 L297.7,57.6 L298.5,57.4 L299.2,57.1 L298.2,56.7 L297.2,56.2 L298.2,55.8 L299.1,55.4 L300.1,55.0 L301.0,54.6 L301.9,54.2 L301.1,55.6 L300.5,56.4 L301.5,57.3 L302.6,58.2 L303.7,59.4 L304.9,60.6 L305.8,61.6 L306.7,62.7 L305.9,63.0 L305.0,63.3 L304.2,63.5 L303.4,63.7 L302.7,63.8 L301.5,63.5 L300.3,63.2 L299.2,62.7 L298.2,62.1 L297.2,62.1 L296.3,62.1 L295.3,62.2 L294.4,62.3 L293.2,62.6 L292.1,63.0 L290.9,63.4 L290.6,64.5 L289.6,64.5 L288.7,64.6 L287.5,64.9 L287.3,66.0 L288.4,66.8 L287.8,67.9 L288.5,68.8 L289.2,69.6 L290.5,70.4 L291.5,70.9 L292.5,71.4 L293.6,70.4 L294.3,70.5 L295.1,70.6 L296.3,70.9 L297.5,71.2 L298.2,70.7 L299.0,70.3 L299.9,70.3 L300.9,70.4 L300.6,71.8 L300.8,72.5 L301.1,73.7 L300.6,74.8 L300.2,76.4 L300.0,77.4 L299.8,78.4 L299.4,79.1 L300.0,80.4 L300.5,81.7 L300.4,82.9 L300.3,84.1 L301.6,84.9 L302.4,86.2 L303.3,87.6 L304.0,88.8 L304.7,89.9 L306.1,90.9 L306.6,91.7 L307.0,92.6 L307.1,93.5 L307.3,94.3 L308.0,95.4 L308.8,96.5 L309.5,97.7 L310.3,98.9 L311.1,100.2 L312.0,101.4 L312.4,102.3 L312.7,103.2 L312.8,104.0 L312.8,104.9 L313.2,105.8 L313.6,106.6 L313.7,108.2 L314.5,108.2 L315.4,108.2 L316.1,107.7 L316.8,107.3 L318.1,107.0 L319.3,106.8 L320.4,106.4 L321.5,106.0 L322.2,105.4 L322.9,104.7 L323.9,104.2 L324.8,103.7 L325.8,103.2 L326.0,102.4 L327.3,101.7 L328.6,101.1 L329.8,100.5 L330.6,100.2 L331.3,100.0 L332.2,99.1 L333.1,98.1 L333.0,97.3 L333.0,96.4 L333.9,96.1 L334.6,94.6 L335.4,93.1 L334.0,91.5 L332.9,91.0 L331.9,90.6 L330.3,89.0 L330.1,87.8 L329.9,86.6 L329.2,88.0 L328.0,89.1 L327.2,89.6 L326.4,90.1 L325.1,90.1 L323.9,90.1 L323.8,88.5 L323.2,87.1 L322.9,88.0 L322.6,89.0 L321.6,87.4 L321.1,86.5 L320.6,85.5 L319.2,84.1 L318.6,82.6 L318.0,81.1 L319.2,80.5 L320.2,81.0 L321.2,81.9 L322.2,82.8 L323.1,84.3 L324.6,85.1 L326.1,86.0 L326.9,86.2 L327.7,86.5 L329.0,85.8 L329.8,85.7 L330.6,85.5 L331.1,86.6 L331.6,87.7 L332.6,87.9 L333.6,88.0 L334.6,88.2 L335.9,88.4 L337.3,88.7 L338.6,88.6 L340.0,88.6 L341.3,88.5 L342.6,88.4 L343.9,88.2 L345.0,89.3 L345.7,90.6 L346.5,90.6 L347.4,90.6 L346.7,90.9 L347.5,91.6 L348.3,92.3 L349.1,92.1 L349.9,91.8 L349.1,92.6 L348.3,93.4 L349.3,94.3 L350.3,95.3 L351.2,95.0 L352.2,94.8 L353.1,94.5 L353.5,96.1 L353.8,97.4 L354.0,98.8 L354.3,100.2 L354.7,101.6 L355.1,103.0 L355.9,104.1 L356.7,105.2 L356.9,106.5 L357.2,107.7 L357.8,108.7 L358.4,109.6 L359.0,111.0 L359.7,112.3 L360.0,113.2 L360.3,114.2 L361.7,115.6 L362.7,114.2 L363.9,113.7 L364.4,112.8 L364.8,112.0 L364.7,110.6 L364.6,109.1 L365.1,107.7 L364.9,106.6 L364.7,105.5 L364.5,104.4 L365.3,103.2 L366.3,102.6 L367.2,102.1 L367.1,101.4 L368.1,100.4 L369.2,99.4 L369.8,98.4 L370.5,97.5 L371.4,96.9 L372.4,96.4 L372.6,95.4 L372.8,94.3 L373.6,94.2 L374.4,94.0 L375.4,94.0 L376.4,93.6 L377.7,93.2 L378.5,93.2 L379.2,93.2 L379.8,94.4 L380.3,95.6 L381.2,96.5 L382.4,97.2 L383.0,98.4 L383.6,99.5 L383.9,100.7 L384.3,101.9 L385.6,103.5 L386.7,102.5 L387.8,101.6 L388.6,102.8 L388.8,103.9 L389.1,104.9 L389.4,105.8 L389.7,106.8 L390.0,108.0 L390.4,109.3 L390.7,110.3 L391.1,111.3 L390.8,112.6 L390.7,114.1 L390.7,115.6 L391.1,115.9 L392.5,117.5 L393.3,118.0 L393.5,118.9 L393.7,119.9 L394.0,121.0 L394.3,122.1 L395.2,123.6 L396.2,124.3 L397.1,125.1 L398.4,126.3 L399.3,126.0 L399.0,125.1 L398.7,124.1 L398.5,122.9 L398.3,121.7 L398.1,120.5 L397.1,119.5 L396.2,118.4 L394.8,117.3 L393.5,116.4 L393.0,115.1 L391.8,113.7 L391.8,112.8 L391.7,111.8 L392.0,110.9 L392.3,109.9 L392.6,108.8 L392.5,108.0 L392.5,107.1 L393.7,107.1 L393.8,108.4 L394.9,108.4 L396.2,109.0 L396.9,110.6 L397.8,111.1 L398.8,111.7 L399.2,112.7 L399.6,113.7 L400.0,114.7 L400.9,113.9 L401.8,113.2 L402.8,111.8 L403.6,111.3 L404.4,110.9 L405.6,109.8 L405.4,108.4 L405.2,107.1 L404.8,105.6 L404.4,104.1 L403.4,102.8 L402.0,101.9 L401.1,100.9 L400.3,99.9 L399.1,98.3 L399.2,97.0 L400.0,95.6 L400.8,94.9 L401.6,94.2 L402.3,94.0 L403.3,94.3 L404.3,94.5 L404.2,95.4 L404.1,96.2 L405.2,96.2 L405.6,95.3 L405.9,94.3 L407.1,94.0 L408.2,93.7 L409.3,92.8 L409.9,93.2 L411.0,92.8 L412.1,92.3 L412.9,91.7 L413.8,91.0 L414.6,90.3 L415.4,89.6 L415.8,88.7 L416.2,87.7 L415.8,86.3 L416.7,85.5 L417.2,83.9 L417.6,82.5 L417.7,81.3 L416.0,79.9 L416.4,78.3 L415.4,77.6 L414.4,76.9 L413.6,75.8 L412.8,74.7 L410.9,73.2 L411.1,72.1 L411.9,71.4 L412.7,70.7 L413.4,70.1 L413.5,69.3 L412.5,69.2 L411.6,69.0 L410.9,69.3 L409.9,69.3 L408.8,69.3 L408.5,68.5 L407.3,67.9 L406.1,67.3 L406.2,66.5 L407.0,66.4 L407.7,66.3 L407.9,65.4 L408.3,64.8 L408.8,64.3 L409.8,63.8 L410.8,64.6 L410.7,65.8 L410.6,67.0 L411.6,66.8 L412.0,66.3 L412.5,65.9 L413.2,65.6 L414.0,65.4 L415.2,65.9 L415.6,67.0 L415.9,68.2 L417.1,68.8 L418.1,68.8 L419.1,69.8 L418.7,70.4 L419.5,71.6 L420.3,72.8 L421.1,74.0 L422.0,73.9 L422.9,73.2 L423.8,72.9 L423.5,71.6 L423.1,70.3 L422.3,69.3 L421.2,68.4 L420.2,67.4 L418.6,66.3 L418.2,65.5 L418.7,65.2 L419.3,64.9 L419.7,64.4 L420.1,63.8 L419.4,62.7 L419.9,61.5 L420.2,60.6 L420.9,60.6 L421.7,60.7 L422.4,60.8 L423.2,60.9 L423.9,60.0 L424.6,59.2 L425.0,58.1 L425.4,57.1 L425.5,56.3 L425.5,55.4 L425.2,54.2 L425.6,53.3 L425.9,52.4 L425.4,51.4 L424.8,50.5 L423.9,49.2 L422.9,47.9 L422.6,46.4 L421.3,45.1 L419.7,44.2 L418.1,43.4 L417.4,43.7 L416.7,44.0 L415.0,43.4 L413.9,43.2 L412.9,42.9 L411.8,42.7 L412.2,42.0 L412.5,41.3 L412.6,40.7 L412.7,40.0 L412.9,39.2 L413.2,38.4 L413.4,37.6 L413.6,36.8 L414.3,36.4 L414.9,35.9 L415.8,35.9 L416.7,35.9 L417.6,35.9 L418.5,35.9 L419.4,35.8 L420.4,35.8 L421.1,35.7 L421.9,35.7 L422.7,35.6 L424.0,36.0 L425.4,36.4 L425.8,35.8 L426.2,35.2 L426.3,34.4 L426.4,33.7 L426.5,32.9 L427.2,32.7 L428.0,32.5 L428.8,32.3 L430.7,33.2 L431.5,34.6 L432.3,36.1 L433.1,37.5 L432.9,38.0 L432.8,38.5 L433.9,40.0 L435.0,41.5 L436.7,43.0 L438.4,44.5 L440.1,46.0 L441.3,47.1 L442.5,48.2 L442.3,46.8 L442.0,45.4 L441.9,44.4 L441.9,43.4 L442.4,42.8 L442.9,42.2 L442.7,41.3 L442.5,40.5 L440.5,39.3 L438.4,38.1 L438.0,36.8 L438.0,35.8 L438.0,34.9 L438.8,34.7 L439.7,34.5 L441.0,34.6 L442.3,34.8 L443.6,34.9 L443.9,34.4 L444.2,33.9 L444.5,33.5 L444.8,33.1 L445.1,32.7 L445.3,32.3 L445.9,32.0 L446.5,31.7 L447.1,31.3 L448.3,31.5 L449.4,31.6 L448.0,30.3 L446.5,29.1 L444.9,27.8 L443.0,26.5 L441.0,25.2 L439.0,23.8 L436.9,22.5 L435.6,22.3 L434.3,22.0 L433.0,21.7 L431.7,21.5 L430.5,21.2 L429.5,21.2 L428.6,21.1 L427.6,21.1 L426.7,21.0 L425.8,21.0 L424.8,20.9 L424.2,21.1 L423.6,21.2 L422.9,21.3 L422.0,21.4 L421.1,21.5 L420.1,21.5 L419.2,21.6 L418.3,21.6 L417.4,21.7 L416.4,21.7 L414.5,20.9 L412.6,20.0 L411.4,19.9 L410.3,19.8 L409.1,19.6 L408.3,19.7 L407.5,19.8 L406.7,19.9 L405.9,20.0 L404.4,19.6 L402.9,19.1 L401.4,18.7 L399.9,18.2 L399.0,18.2 L398.1,18.2 L397.2,18.1 L396.3,18.1 L395.1,18.0 L394.0,17.8 L392.8,17.7 L391.7,17.6 L391.7,18.1 L391.7,18.6 L391.7,19.1 L389.3,18.0 L388.5,18.1 L387.7,18.2 L386.9,18.3 L386.1,18.4 L385.3,18.5 L384.5,18.6 L383.7,18.7 L383.2,19.0 L382.6,19.3 L382.1,19.5 L380.2,18.4 L378.2,17.3 L376.8,16.9 L375.5,16.5 L374.8,16.6 L374.2,16.8 L373.5,17.0 L372.9,17.2 L372.0,17.2 L371.0,17.1 L370.1,17.1 L369.2,17.1 L368.1,17.0 L367.0,16.9 L365.9,16.8 L364.9,16.7 L363.8,16.7 L362.8,16.6 L363.5,17.3 L364.3,18.0 L363.0,17.6 L361.8,17.1 L360.6,16.7 L359.4,16.3 L358.8,16.5 L358.3,16.6 L357.7,16.8 L357.1,17.0 L355.3,15.8 L353.5,14.7 L351.7,13.6 L349.8,12.5 L347.9,11.5 L347.4,11.8 L346.9,12.1 L346.4,12.4 L346.1,12.8 L345.8,13.1 L345.4,13.5 L344.6,13.5 L343.8,13.4 L342.9,13.4 L342.1,13.4 L341.8,13.7 L341.4,14.0 L341.1,14.4 L340.7,14.7 L339.9,14.7 L339.0,14.7 L338.2,14.6 L337.4,14.6 L336.6,14.6 L336.6,15.3 L336.5,16.0 L337.9,17.1 L337.1,16.9 L336.3,16.7 L335.3,16.7 L334.4,16.6 L333.4,16.6 L332.4,16.5 L331.5,16.5 L331.9,17.7 L332.8,18.5 L331.9,18.4 L331.0,18.2 L330.1,18.1 L329.0,17.9 L327.9,17.7 L326.8,17.5 L327.3,18.4 L327.9,19.3 L327.2,19.2 L326.4,19.2 L325.7,19.1 L326.3,18.7 L326.9,18.4 L326.0,18.1 L325.0,17.8 L324.0,17.5 L324.3,18.4 L324.5,19.3 L326.4,20.6 L326.8,21.5 L327.3,22.4 L328.2,22.8 L329.0,23.2 L328.8,24.1 L328.6,25.1 L328.3,26.0 L327.6,25.8 L326.8,25.5 L325.7,25.4 L324.7,24.2 L323.7,23.1 L322.9,22.8 L322.1,22.5 L320.9,21.6 L320.7,20.7 L320.4,19.9 L320.6,19.3 L320.8,18.6 L320.7,17.5 L320.1,17.7 L319.5,17.9 L318.9,18.1 L318.3,18.4 L317.9,19.1 L317.5,19.8 L316.9,20.1 L316.2,20.5 L315.5,20.8 L314.8,21.2 L314.9,22.2 L315.0,23.2 L314.0,23.2 L313.1,23.2 L312.2,23.2 L311.2,23.2 L310.3,23.2 L309.3,22.9 L308.3,22.5 L307.4,22.8 L306.5,23.1 L305.6,23.3 L304.7,23.5 L303.7,23.7 L302.8,23.9 L301.8,24.1 L300.8,23.8 L299.8,23.4 L298.7,23.1 L299.2,24.3 L299.6,25.6 L298.7,25.8 L297.8,26.0 L296.9,26.1 L296.0,26.3 L295.0,26.3 L294.1,26.3 L293.1,26.2 L292.1,26.1 L291.1,26.0 L290.2,25.9 L289.2,25.7 L288.2,25.6 L289.2,26.1 L290.2,26.6 L290.5,27.6 L290.9,28.7 L291.6,28.4 L292.4,28.1 L293.3,28.2 L294.1,28.3 L295.0,28.4 L295.8,28.5 L296.6,28.1 L297.4,27.6 L298.3,27.1 L299.1,26.7 L299.9,26.2 L299.8,27.3 L299.3,28.0 L298.9,28.7 L297.9,28.9 L297.0,29.1 L296.0,29.2 L295.0,29.3 L294.1,29.4 L293.1,28.6 L292.1,27.9 L291.1,27.1 L290.1,26.6 L289.1,26.1 L288.1,25.6 L289.0,25.4 L289.9,25.2 L290.8,25.1 L291.6,25.0 L292.5,24.9 L293.4,24.8 L294.3,24.6 L295.2,24.5 L296.0,24.4 L295.7,23.6 L295.4,22.8 L294.2,22.5 L293.1,22.2 L292.0,21.9 L291.2,21.9 L290.3,21.9 L289.5,21.9 L288.6,22.0 L287.8,22.0 L286.8,21.8 L285.8,21.6 L284.8,21.3 L283.9,21.0 L283.1,20.6 L282.3,20.3 L281.3,20.1 L280.3,19.9 L279.3,19.8 L278.5,19.9 L277.6,19.9 L276.7,20.0 L275.8,20.4 L275.0,20.7 L274.2,20.9 L273.4,21.1 L272.7,21.3 L271.9,21.8 L271.2,22.2 L270.4,22.7 L269.6,23.3 L268.8,24.0 L268.0,25.0 L267.1,25.9 L266.8,26.7 L266.4,27.6 L265.7,28.1 L264.8,28.7 L263.8,29.4 L262.8,30.1 L261.8,30.4 L260.9,30.8 L259.9,31.2 L259.5,32.0 L259.0,32.8 L259.2,33.8 L259.3,34.9 L259.8,36.4 L260.5,37.2 L261.4,37.4 L262.3,37.7 L263.2,37.1 L264.1,36.5 L265.2,35.6 L265.8,36.5 L267.1,37.8 L267.6,38.8 L268.1,39.9 L268.3,40.7 L268.5,41.5 L269.3,41.6 L270.0,41.6 L270.5,40.5 L271.5,40.2 L272.4,39.9 L272.5,38.4 L272.5,37.6 L272.5,36.8 L273.1,36.6 L273.7,36.4 L274.5,35.3 L273.4,34.0 L272.6,32.9 L272.7,32.0 L272.9,31.1 L273.9,30.4 L274.9,29.8 L275.6,29.2 L276.4,28.7 L276.5,27.4 L277.0,27.0 L277.5,26.6 L278.5,26.6 L279.4,26.6 L280.5,27.7 L280.4,28.0 L279.9,28.9 L279.2,29.3 L278.5,29.6 L277.8,29.9 L276.9,31.2 L277.0,32.2 L277.0,33.2 L278.3,34.3 L279.3,34.5 L280.3,34.8 L281.1,34.6 L281.9,34.5 L282.7,34.3 L283.5,34.2 L284.4,34.1 L285.2,34.0 L286.2,34.5 L287.3,34.9 L286.5,35.1 L285.7,35.4 L285.0,35.6 L283.8,35.6 L282.7,35.5 L281.8,35.7 L280.9,35.9 L280.0,36.1 L280.0,36.9 L281.2,37.4 L280.2,38.0 L279.2,38.3 L278.2,38.7 L277.9,39.6 L277.8,40.6 L278.2,41.9 L277.6,42.2 L276.9,42.4 L276.5,43.3 L275.4,43.1 L274.1,42.5 L273.4,42.8 L272.8,43.0 L271.7,43.4 L270.6,43.9 L269.8,43.6 L269.0,43.3 L268.0,43.5 L267.1,43.7 L266.3,43.1 L266.2,42.1 L266.2,41.0 L265.9,39.8 L265.6,38.5 L264.6,38.7 L263.9,38.9 L263.3,39.1 L263.0,40.5 L262.9,41.3 L263.6,42.4 L264.0,43.7 L263.0,44.3 L261.8,44.6 L261.1,44.6 L260.4,44.6 L259.2,45.4 L258.6,46.4 L257.7,47.6 L256.5,48.1 L255.4,48.4 L255.4,49.5 L254.6,49.9 L253.7,50.4 L252.9,50.6 L252.0,50.8 L251.8,51.8 L250.8,51.7 L249.8,51.6 L248.8,51.9 L247.7,52.2 L248.0,53.1 L248.9,53.5 L249.9,53.9 L250.9,54.4 L252.0,55.9 L251.9,57.0 L251.7,58.1 L251.5,59.0 L251.2,59.9 L250.1,59.9 L248.9,59.9 L247.7,59.8 L246.4,59.6 L245.4,59.5 L244.5,59.4 L243.5,59.3 L242.5,59.9 L241.6,60.6Z M246.6,49.8 L247.5,49.5 L248.5,49.2 L249.4,48.9 L250.4,48.8 L251.3,48.6 L252.3,48.5 L253.3,48.3 L254.2,48.0 L255.2,47.8 L255.3,46.9 L255.4,46.0 L254.6,45.6 L253.7,45.2 L253.6,44.3 L252.9,43.6 L252.1,42.8 L251.6,41.5 L250.9,41.1 L250.1,40.8 L251.1,39.6 L251.4,38.4 L250.5,38.3 L249.5,38.2 L250.0,36.9 L248.9,36.9 L247.8,36.9 L246.9,38.1 L247.0,39.2 L247.0,40.3 L246.4,40.9 L247.2,41.4 L248.0,41.9 L247.6,42.8 L248.6,42.9 L249.6,43.0 L249.9,44.5 L249.0,44.7 L248.0,44.9 L248.5,46.0 L247.4,47.0 L248.4,47.3 L249.4,47.6 L248.5,48.3 L247.5,49.1 L246.6,49.8Z M246.3,46.6 L246.3,45.2 L246.2,43.9 L246.9,42.8 L246.0,42.3 L245.0,41.8 L244.3,42.4 L243.5,43.0 L242.6,43.3 L241.7,43.6 L241.9,45.1 L241.5,46.0 L241.0,46.9 L242.2,47.5 L243.1,47.3 L243.9,47.0 L245.1,46.8 L246.3,46.6Z M229.3,29.5 L230.1,29.4 L230.9,29.4 L231.7,29.6 L232.5,29.8 L233.3,30.1 L234.3,29.7 L235.3,29.4 L236.3,29.1 L237.2,28.7 L238.0,28.4 L239.1,27.7 L238.2,26.3 L237.3,26.0 L236.5,25.8 L235.7,26.0 L234.8,26.1 L233.9,26.3 L233.0,26.5 L232.0,26.7 L231.2,26.3 L230.4,25.9 L229.6,26.0 L228.7,26.0 L229.3,26.7 L229.9,27.3 L228.8,27.4 L227.7,27.6 L228.5,27.7 L229.3,27.8 L230.1,28.0 L229.7,28.7 L229.3,29.5Z M188.2,10.8 L189.6,10.2 L191.0,9.7 L192.4,9.1 L193.5,8.9 L194.6,8.6 L195.7,8.4 L196.8,8.1 L197.9,7.9 L198.9,7.7 L199.9,7.5 L200.9,7.4 L201.8,7.3 L202.8,7.1 L203.8,7.0 L204.7,6.9 L205.6,6.8 L206.4,6.8 L207.3,6.8 L208.2,6.7 L209.0,6.7 L209.9,6.7 L210.8,6.6 L211.7,6.5 L212.6,6.5 L213.4,6.4 L214.3,6.3 L215.2,6.3 L216.1,6.2 L217.0,6.1 L217.8,6.1 L218.7,6.0 L219.6,5.9 L220.4,5.9 L221.3,5.8 L222.2,5.8 L223.0,5.7 L223.9,5.6 L224.7,5.6 L225.5,5.6 L226.4,5.6 L227.2,5.6 L228.0,5.6 L228.8,5.6 L229.6,5.6 L230.5,5.6 L231.3,5.7 L232.1,5.8 L232.8,5.9 L233.6,6.0 L234.4,6.1 L235.2,6.2 L236.0,6.3 L235.1,6.4 L234.2,6.6 L233.4,6.7 L232.5,6.9 L233.3,7.0 L234.1,7.1 L234.9,7.2 L235.7,7.3 L236.5,7.4 L237.3,7.5 L238.2,7.6 L239.0,7.7 L239.8,7.9 L240.6,7.7 L241.4,7.6 L242.1,7.4 L242.9,7.3 L241.9,7.9 L241.0,8.6 L240.0,8.9 L239.1,9.1 L238.2,9.4 L237.1,10.0 L236.1,10.5 L236.3,11.4 L236.6,12.3 L235.7,12.7 L234.9,13.1 L234.0,13.5 L234.8,14.1 L235.6,14.7 L234.7,15.1 L233.9,15.5 L233.0,15.8 L231.8,16.9 L230.5,18.0 L231.2,18.5 L231.8,19.1 L230.8,19.5 L229.8,19.8 L228.9,20.2 L229.5,20.4 L230.2,20.6 L230.9,20.8 L229.8,21.3 L228.7,21.9 L227.5,22.4 L226.4,22.9 L225.3,23.1 L224.3,23.2 L223.2,23.3 L222.2,23.5 L221.1,23.6 L220.0,24.3 L218.8,25.0 L217.7,25.8 L216.6,26.1 L215.6,26.4 L214.5,26.7 L213.5,27.1 L212.4,27.4 L211.4,27.8 L210.3,28.1 L209.8,29.0 L209.2,29.9 L208.2,31.1 L207.1,32.3 L206.1,33.5 L205.2,34.2 L204.3,34.9 L203.4,34.4 L202.4,33.9 L201.7,33.5 L201.1,33.0 L200.4,32.6 L199.8,31.6 L199.2,30.6 L199.2,29.6 L199.2,28.5 L198.7,27.6 L198.1,26.7 L198.0,25.9 L197.8,25.1 L198.5,24.2 L199.1,23.3 L200.5,22.5 L201.9,21.7 L201.5,20.9 L201.2,20.0 L200.2,20.0 L199.2,20.0 L199.4,19.1 L199.7,18.1 L199.6,17.2 L199.5,16.2 L199.4,15.3 L199.1,14.7 L198.9,14.0 L198.2,13.8 L197.5,13.6 L196.8,13.4 L196.1,13.2 L195.1,13.3 L194.2,13.4 L193.2,13.4 L192.2,13.5 L191.5,13.2 L190.8,13.0 L190.0,12.8 L189.3,12.5 L188.6,12.3 L188.4,11.5 L188.2,10.8Z M176.7,16.3 L177.3,16.6 L177.9,16.9 L178.5,17.2 L179.2,17.5 L179.9,17.8 L180.6,18.1 L181.2,18.5 L181.8,18.9 L182.3,19.3 L182.9,19.8 L183.6,20.0 L184.3,20.2 L185.0,20.4 L185.2,21.3 L185.5,22.1 L184.4,22.6 L183.4,23.1 L184.1,23.4 L184.8,23.7 L185.5,24.1 L186.2,24.4 L186.9,24.7 L187.6,25.0 L188.3,25.4 L188.8,26.3 L187.7,27.1 L186.5,27.8 L185.4,28.0 L184.2,28.1 L183.3,29.4 L182.4,30.6 L181.3,30.6 L180.2,30.6 L178.8,31.2 L178.0,30.8 L177.1,30.3 L176.7,29.6 L176.4,28.8 L175.7,28.6 L175.0,28.4 L174.2,28.5 L173.3,28.5 L172.4,28.4 L171.4,28.3 L170.5,28.2 L170.6,27.3 L171.5,27.3 L172.4,27.2 L173.4,27.2 L174.3,27.2 L175.2,27.1 L176.0,26.2 L176.8,25.4 L177.6,24.5 L178.4,23.6 L177.6,23.5 L176.7,23.4 L175.8,23.3 L175.9,22.3 L175.9,21.2 L175.0,21.1 L174.0,21.1 L173.0,21.1 L172.0,21.1 L171.1,21.0 L170.1,20.9 L169.1,20.9 L168.2,20.8 L167.4,20.7 L166.6,20.5 L165.9,20.3 L165.1,20.2 L164.3,20.0 L166.2,18.7 L168.0,17.5 L169.1,17.2 L170.1,16.9 L171.2,16.6 L172.1,16.5 L173.0,16.4 L174.0,16.3 L174.9,16.2 L175.8,16.3 L176.7,16.3Z M136.4,19.1 L138.9,17.8 L140.0,17.7 L141.1,17.7 L142.1,17.6 L143.2,17.5 L144.1,17.5 L144.9,17.5 L145.8,17.5 L146.6,17.6 L147.5,17.6 L148.4,17.4 L149.4,17.3 L150.4,17.1 L150.4,17.8 L150.4,18.5 L150.3,19.6 L150.3,20.6 L150.3,21.7 L149.1,21.9 L148.0,22.0 L146.9,22.1 L145.9,22.3 L144.8,22.4 L143.8,22.5 L142.8,22.7 L141.8,22.7 L140.9,22.8 L139.9,22.8 L138.9,22.9 L138.0,22.9 L137.2,22.6 L136.5,22.3 L135.8,22.0 L135.1,21.7 L135.1,21.0 L135.0,20.3 L136.4,19.1Z M130.6,18.6 L133.1,17.4 L135.6,16.2 L136.9,16.0 L138.1,15.7 L139.4,15.5 L140.0,15.7 L140.6,16.0 L141.2,16.3 L141.8,16.6 L140.2,17.1 L138.5,17.7 L136.8,18.4 L135.0,19.1 L133.8,19.3 L132.6,19.5 L131.4,19.6 L131.0,19.1 L130.6,18.6Z M168.7,12.9 L170.2,12.4 L171.7,11.9 L173.2,11.4 L174.3,11.2 L175.5,10.9 L176.6,10.7 L177.7,10.5 L178.8,10.4 L179.8,10.2 L180.9,10.1 L181.9,9.9 L183.0,9.7 L184.0,9.6 L185.1,9.4 L186.0,9.4 L187.0,9.3 L188.0,9.2 L188.9,9.1 L189.9,8.9 L191.0,8.8 L192.0,8.6 L193.0,8.5 L194.0,8.3 L195.0,8.2 L196.1,7.9 L197.2,7.7 L198.2,7.5 L199.3,7.3 L200.3,7.1 L201.3,6.9 L200.6,6.7 L199.9,6.6 L199.2,6.4 L198.5,6.3 L197.8,6.2 L197.1,6.0 L196.3,6.0 L195.5,6.0 L194.7,5.9 L193.9,5.9 L193.1,5.9 L192.3,5.9 L191.5,5.8 L190.7,5.9 L189.8,5.9 L188.9,6.0 L188.0,6.1 L187.1,6.1 L186.2,6.2 L185.3,6.2 L184.4,6.3 L183.5,6.3 L182.6,6.4 L181.5,6.6 L180.5,6.7 L179.4,6.9 L178.3,7.1 L177.2,7.3 L176.2,7.5 L175.1,7.7 L174.3,8.3 L173.5,8.9 L172.4,9.0 L171.4,9.2 L170.3,9.3 L169.3,9.4 L167.0,10.5 L167.5,10.7 L168.1,10.9 L168.6,11.2 L169.1,11.4 L167.9,11.7 L166.7,12.1 L165.5,12.5 L166.3,12.6 L167.1,12.7 L167.9,12.8 L168.7,12.9Z M177.6,15.3 L176.6,15.3 L175.7,15.3 L174.7,15.3 L173.8,15.3 L172.8,15.3 L171.9,15.3 L170.9,15.3 L170.0,15.3 L169.0,15.3 L168.1,15.3 L167.1,15.3 L166.2,15.3 L167.3,14.2 L168.5,13.1 L169.5,13.1 L170.5,13.0 L171.4,12.9 L172.4,12.9 L173.3,12.9 L174.2,12.9 L175.1,13.0 L176.0,13.0 L176.9,13.0 L177.8,13.1 L178.7,13.1 L179.6,13.1 L179.6,14.1 L177.6,15.3Z M156.3,18.5 L157.3,18.3 L158.4,18.1 L159.4,17.8 L160.3,16.9 L161.2,16.0 L160.2,16.0 L159.2,16.0 L158.2,16.1 L157.1,16.5 L155.9,16.8 L154.7,17.2 L155.2,17.6 L155.7,18.1 L156.3,18.5Z M161.8,17.8 L162.8,17.7 L163.8,17.5 L164.8,17.4 L165.8,17.2 L166.5,16.0 L165.5,16.0 L164.5,16.1 L163.4,16.1 L162.4,16.2 L162.1,17.0 L161.8,17.8Z M155.3,14.1 L154.2,14.2 L153.2,14.3 L152.1,14.4 L151.1,14.5 L150.1,14.5 L149.1,14.6 L148.1,14.6 L147.1,14.7 L146.1,14.7 L145.5,14.4 L145.0,14.1 L144.5,13.7 L145.9,13.4 L147.3,13.1 L148.6,12.8 L149.6,12.7 L150.6,12.7 L151.6,12.6 L152.6,12.6 L153.6,12.5 L154.0,12.9 L154.4,13.3 L154.8,13.7 L155.3,14.1Z M160.9,29.5 L161.9,29.6 L162.9,29.7 L163.9,29.8 L164.9,30.0 L165.9,30.1 L166.0,29.1 L166.1,28.1 L165.5,27.7 L164.9,27.3 L164.3,26.9 L163.0,27.4 L161.8,28.0 L160.5,28.5 L160.9,29.5Z M180.3,53.4 L181.3,53.4 L182.3,53.4 L183.3,53.4 L184.4,53.4 L185.2,53.9 L186.1,54.4 L186.9,54.8 L188.6,53.4 L187.7,52.5 L187.9,51.7 L188.1,50.8 L187.2,50.6 L186.4,50.3 L185.6,50.1 L186.2,48.7 L186.7,47.3 L185.5,48.0 L184.2,48.7 L183.1,49.9 L182.0,51.1 L181.1,52.3 L180.3,53.4Z M102.0,52.2 L101.3,51.9 L100.6,51.6 L99.8,51.3 L99.4,50.5 L99.0,49.7 L98.6,48.9 L99.8,48.9 L100.4,49.3 L101.0,49.8 L101.5,50.2 L101.8,51.2 L102.0,52.2Z M137.1,93.7 L138.4,93.7 L139.6,93.1 L140.9,92.5 L141.9,92.3 L143.0,92.1 L143.9,92.4 L144.8,92.7 L145.7,92.9 L146.7,93.9 L147.7,94.8 L148.7,95.2 L149.7,95.6 L150.6,95.9 L151.5,96.2 L150.5,96.7 L149.4,96.8 L148.3,96.8 L147.2,96.9 L146.8,95.6 L145.9,94.2 L144.6,94.0 L143.3,93.9 L142.3,93.6 L141.3,93.2 L140.2,93.2 L139.1,93.2 L138.1,93.5 L137.1,93.7Z M150.9,99.4 L152.1,98.1 L153.4,96.9 L154.1,96.9 L154.9,97.0 L156.0,97.2 L157.2,97.3 L158.2,98.1 L159.2,98.9 L158.7,99.5 L157.4,99.5 L156.0,99.5 L154.9,100.5 L153.8,99.5 L152.8,99.5 L151.9,99.4 L150.9,99.4Z M145.5,99.2 L146.9,99.5 L148.2,99.7 L147.4,100.0 L146.5,99.6 L145.5,99.2Z M160.9,99.1 L162.0,99.1 L163.1,99.2 L162.7,99.9 L161.7,99.9 L160.8,99.9Z M263.3,10.5 L264.3,11.0 L265.2,11.4 L266.2,11.9 L267.2,12.3 L268.2,12.8 L269.1,12.6 L270.0,12.3 L270.8,12.1 L271.7,11.9 L272.5,11.7 L273.3,11.3 L274.1,10.9 L274.9,10.5 L275.7,10.2 L276.4,9.8 L277.2,9.4 L276.2,9.2 L275.3,9.0 L274.3,8.8 L273.4,8.6 L272.5,8.4 L271.6,8.5 L270.8,8.6 L270.0,8.7 L269.1,8.8 L268.3,8.9 L267.4,9.0 L266.6,9.0 L265.7,9.1 L264.8,9.1 L264.0,9.2 L263.1,9.2 L263.2,9.9 L263.3,10.5Z M304.4,19.1 L305.3,19.6 L306.3,20.0 L307.3,20.1 L308.4,20.2 L309.4,20.2 L310.4,20.3 L308.8,19.0 L307.1,17.7 L307.6,17.1 L308.0,16.5 L308.5,16.0 L309.0,15.4 L309.4,14.8 L309.9,14.3 L310.3,13.7 L311.1,13.6 L311.9,13.4 L312.7,13.2 L313.5,13.1 L314.3,12.9 L315.1,12.7 L315.8,12.5 L316.6,12.3 L315.7,12.3 L314.8,12.4 L313.9,12.4 L313.1,12.6 L312.3,12.7 L311.5,12.9 L310.7,13.0 L309.9,13.2 L309.1,13.3 L308.3,13.5 L307.6,13.9 L306.9,14.2 L306.2,14.6 L305.5,15.0 L305.3,15.8 L305.0,16.6 L304.7,17.8 L304.4,19.1Z M337.2,9.8 L338.4,10.0 L339.5,10.2 L340.7,10.4 L341.8,10.6 L343.0,10.8 L344.0,10.8 L345.0,10.9 L345.9,11.0 L346.9,11.1 L347.9,11.1 L346.3,10.3 L344.7,9.4 L343.5,9.2 L342.2,8.9 L340.9,8.6 L339.7,8.3 L338.5,8.1 L337.7,8.1 L337.0,8.2 L336.2,8.3 L335.4,8.4 L336.3,9.1 L337.2,9.8Z M380.9,14.2 L382.5,14.6 L384.0,15.0 L385.5,15.4 L387.1,15.8 L388.6,16.2 L390.2,16.6 L390.8,16.3 L391.3,16.0 L391.8,15.8 L392.4,15.5 L392.9,15.2 L393.4,15.0 L393.9,14.7 L392.5,14.4 L391.0,14.1 L389.6,13.8 L388.1,13.5 L387.2,13.5 L386.3,13.5 L385.3,13.5 L384.4,13.5 L383.5,13.5 L382.8,13.7 L382.2,13.9 L381.6,14.0 L380.9,14.2Z M70.1,22.5 L71.4,22.4 L72.7,22.2 L74.0,22.0 L73.7,22.8 L73.5,23.6 L73.4,24.4 L73.7,24.9 L74.1,25.3 L74.5,25.8 L74.7,26.1 L74.9,26.5 L73.1,27.1 L71.4,27.8 L69.6,28.5 L69.0,28.2 L68.4,27.9 L67.8,27.6 L66.9,27.4 L66.0,27.3 L65.2,27.1 L63.6,27.5 L62.1,27.8 L64.0,26.5 L66.0,25.2 L68.0,23.8 L70.1,22.5Z M430.6,55.9 L431.3,55.5 L431.9,55.1 L430.8,53.8 L429.6,52.6 L428.5,51.3 L429.4,51.3 L430.3,51.3 L428.5,49.8 L426.8,48.2 L425.0,46.7 L423.7,45.2 L422.4,43.7 L421.2,43.3 L421.9,44.2 L422.6,45.2 L423.3,46.4 L423.9,47.5 L425.1,48.8 L426.2,50.0 L427.2,51.3 L428.4,52.8 L429.5,54.4 L430.6,55.9Z M432.7,62.9 L433.3,62.7 L434.0,62.4 L435.1,62.3 L436.3,62.1 L436.9,61.5 L437.4,60.9 L438.0,60.2 L436.3,58.7 L434.6,58.1 L432.9,57.4 L431.2,56.8 L431.6,58.2 L432.1,59.2 L432.7,60.1 L432.4,60.8 L432.1,61.5 L432.7,62.9Z M426.7,74.2 L427.4,73.3 L428.1,72.5 L429.1,72.3 L430.1,72.1 L431.2,72.0 L432.0,71.0 L432.8,70.6 L433.5,70.1 L434.1,69.2 L434.6,68.4 L434.4,66.8 L434.1,65.2 L433.6,64.3 L433.0,63.4 L433.9,63.3 L434.7,63.2 L436.0,64.8 L437.2,66.3 L437.1,67.2 L437.0,68.1 L437.5,69.0 L437.9,69.9 L438.4,71.5 L439.1,72.6 L438.1,73.1 L436.9,72.8 L436.8,73.6 L436.0,73.6 L435.3,73.7 L434.4,73.9 L434.1,74.7 L433.1,75.1 L432.3,73.9 L431.1,73.9 L429.9,74.0 L429.2,74.4 L428.5,74.8 L427.6,74.5 L426.7,74.2Z M425.6,75.8 L426.2,76.6 L426.9,77.5 L427.8,78.4 L428.6,79.4 L429.3,78.8 L429.2,77.6 L429.0,76.4 L427.1,74.8 L426.4,75.3 L425.6,75.8Z M429.7,76.2 L430.8,75.6 L431.5,75.3 L432.1,75.0 L431.7,74.3 L430.7,74.3 L429.8,74.2 L429.3,75.4 L429.7,76.2Z M417.8,92.0 L418.9,93.6 L419.2,92.4 L419.5,91.2 L419.6,90.0 L419.7,88.8 L418.3,88.7 L418.1,89.8 L418.0,90.9 L417.8,92.0Z M403.0,98.0 L403.6,96.5 L404.5,96.6 L405.4,96.7 L406.2,97.3 L405.9,98.2 L405.6,99.1 L404.3,99.5 L403.0,98.0Z M364.9,115.3 L364.9,114.0 L364.9,112.8 L366.2,113.6 L366.9,115.0 L367.7,116.4 L367.4,117.4 L367.1,118.4 L365.7,118.8 L365.4,117.6 L365.1,116.4 L364.9,115.3Z M386.7,119.4 L387.7,119.6 L388.8,119.8 L389.8,120.0 L391.1,121.6 L392.2,122.7 L393.2,123.9 L394.3,125.1 L395.7,125.2 L396.8,126.3 L397.8,127.4 L398.3,128.6 L398.8,129.8 L399.5,130.8 L400.3,131.8 L401.1,132.4 L401.8,132.9 L401.7,134.4 L401.5,135.9 L401.4,137.3 L400.6,137.4 L399.8,137.5 L398.9,136.6 L397.9,135.7 L397.0,134.8 L396.2,133.7 L395.4,132.6 L394.8,131.5 L394.2,130.3 L393.6,129.1 L392.5,127.9 L392.0,126.6 L391.5,125.4 L390.2,124.3 L389.3,123.2 L388.3,122.1 L387.5,120.7 L386.7,119.4Z M400.4,138.9 L401.6,137.5 L402.7,137.6 L403.8,137.8 L404.8,138.0 L405.8,138.3 L406.8,138.7 L407.8,139.1 L408.8,139.1 L409.8,139.1 L410.8,139.1 L412.0,139.8 L413.3,140.5 L413.1,141.9 L411.8,141.7 L410.6,141.4 L409.6,141.3 L408.7,141.1 L407.7,141.0 L406.7,140.8 L405.7,140.6 L404.7,140.5 L403.4,140.2 L402.2,139.9 L401.3,139.4 L400.4,138.9Z M413.9,141.6 L415.0,141.3 L416.1,141.1 L417.2,141.2 L418.4,141.2 L419.6,141.3 L421.0,141.2 L422.4,141.2 L423.7,141.1 L425.1,141.1 L426.5,141.0 L427.9,141.0 L429.3,141.1 L430.7,141.3 L429.2,142.2 L427.8,143.2 L426.7,143.8 L425.6,144.4 L424.6,143.4 L423.7,142.4 L422.3,142.4 L420.9,142.4 L419.5,142.4 L418.1,142.4 L416.7,142.4 L415.3,142.4 L413.9,141.6Z M406.1,125.8 L406.9,125.1 L407.9,125.1 L408.8,125.2 L410.2,124.3 L411.6,123.3 L412.7,122.2 L413.8,121.1 L414.7,120.0 L415.6,118.9 L416.3,118.1 L417.0,117.3 L418.1,118.1 L419.1,118.9 L420.1,119.7 L419.0,120.5 L419.4,121.4 L418.0,122.8 L418.3,123.7 L418.6,124.6 L419.3,125.5 L419.9,126.5 L419.2,126.7 L418.4,126.9 L418.2,128.2 L418.0,129.5 L417.3,130.7 L416.5,132.0 L416.3,133.2 L416.0,134.3 L415.1,134.5 L414.2,134.7 L413.4,134.1 L412.6,133.6 L411.2,133.2 L409.8,132.9 L408.8,132.9 L407.7,132.8 L407.6,131.7 L407.5,130.7 L406.8,129.9 L406.2,129.0 L406.2,127.4 L406.1,125.8Z M420.0,136.7 L420.9,136.8 L421.8,136.9 L421.8,135.3 L421.8,133.7 L423.0,132.3 L423.1,133.4 L423.2,134.5 L423.4,135.6 L424.1,136.3 L424.9,137.0 L424.7,135.9 L424.6,134.8 L424.4,133.7 L425.9,132.5 L424.9,131.8 L423.8,131.2 L423.0,130.2 L424.3,129.9 L425.7,129.6 L426.1,129.0 L424.9,128.2 L423.6,127.4 L422.6,127.5 L421.6,127.6 L422.2,126.2 L423.3,126.4 L424.4,126.6 L425.5,126.8 L426.6,126.3 L427.8,125.8 L428.7,126.0 L427.6,126.9 L426.5,127.9 L425.3,127.6 L423.9,128.0 L422.6,128.5 L421.2,128.0 L421.1,129.5 L421.0,130.9 L420.8,132.3 L420.7,133.7 L420.3,135.2 L420.0,136.7Z M431.9,125.4 L432.3,126.4 L432.7,127.4 L433.0,128.3 L433.4,129.1 L432.0,127.7 L432.0,126.5 L431.9,125.4Z M432.4,133.4 L433.8,133.4 L435.1,133.5 L436.5,133.6 L435.7,134.3 L434.7,134.2 L433.6,134.0 L432.5,133.9Z M436.9,130.2 L437.8,129.5 L438.7,128.8 L440.0,129.2 L441.2,129.6 L441.5,131.0 L441.7,132.3 L443.1,133.4 L444.5,132.0 L446.0,130.6 L447.0,131.0 L448.0,131.5 L449.4,131.9 L450.8,132.3 L452.0,132.8 L453.3,133.3 L454.5,133.8 L455.7,134.3 L456.5,135.1 L457.3,135.9 L458.5,136.9 L459.7,137.8 L459.4,138.8 L459.0,139.9 L459.7,140.8 L460.4,141.7 L461.3,142.5 L462.2,143.3 L462.9,143.9 L463.6,144.4 L462.4,144.4 L461.3,144.3 L460.1,144.3 L459.4,143.7 L458.6,143.2 L457.9,142.1 L457.3,141.0 L456.4,140.6 L455.5,140.2 L454.5,140.6 L453.5,141.1 L453.5,142.4 L452.3,142.8 L451.2,142.7 L450.1,142.5 L448.9,141.7 L447.6,141.0 L446.3,141.4 L445.5,141.4 L446.3,140.2 L446.8,139.3 L447.3,138.4 L446.8,137.6 L446.3,136.7 L445.0,136.2 L443.8,135.8 L442.6,135.3 L441.5,134.6 L440.5,133.9 L439.4,134.7 L438.8,133.6 L438.2,132.6 L439.4,132.1 L440.6,131.7 L439.6,131.7 L438.5,131.7 L437.7,131.0 L436.9,130.2Z M460.8,137.0 L462.0,136.9 L463.2,136.9 L464.3,135.8 L465.4,134.8 L466.5,135.0 L465.9,135.9 L465.3,136.9 L464.3,137.5 L463.3,138.1 L462.1,137.6 L460.8,137.0Z M419.5,102.2 L419.6,100.6 L419.8,99.1 L420.7,99.1 L421.5,99.1 L422.0,100.2 L422.5,101.4 L422.2,102.3 L421.8,103.2 L422.3,104.7 L422.8,106.2 L424.2,106.8 L425.6,107.4 L426.0,108.5 L425.2,108.1 L424.4,107.7 L423.3,107.2 L422.2,106.6 L420.9,105.7 L420.7,104.9 L420.1,103.6 L419.5,102.2Z M423.9,117.2 L425.0,116.5 L426.0,115.9 L427.0,115.3 L427.6,114.0 L428.3,112.8 L429.1,113.9 L429.9,115.0 L430.0,115.9 L430.1,116.9 L429.8,118.3 L428.8,119.4 L427.9,118.9 L427.0,118.4 L426.0,118.0 L424.9,117.6 L423.9,117.2Z M423.4,111.7 L424.5,111.4 L425.5,111.2 L426.5,110.6 L427.5,110.1 L428.0,111.3 L428.5,112.5 L427.4,112.8 L426.4,113.1 L425.3,113.2 L424.3,113.2 L423.4,111.7Z M417.0,115.0 L418.0,113.8 L419.0,112.7 L419.9,111.5 L420.0,110.4 L419.4,111.9 L418.7,113.4 L417.9,114.2 L417.0,115.0Z M408.9,162.8 L408.9,164.2 L408.9,165.5 L408.4,166.9 L407.9,168.4 L408.6,169.6 L408.5,170.9 L408.4,172.1 L408.3,173.4 L408.2,174.7 L407.9,175.8 L407.6,176.9 L407.2,178.0 L407.8,179.4 L407.1,181.0 L405.8,182.1 L406.6,182.7 L407.4,183.3 L408.3,183.4 L409.2,183.5 L410.8,182.5 L412.4,181.6 L413.4,181.5 L414.4,181.4 L415.4,181.5 L416.4,181.5 L417.5,181.6 L418.7,180.2 L420.1,179.7 L421.7,178.9 L423.1,178.6 L424.5,178.3 L426.0,178.0 L427.0,177.9 L428.0,177.9 L429.1,177.8 L429.8,178.2 L430.5,178.6 L431.5,179.1 L432.4,179.5 L432.4,181.0 L432.3,182.5 L432.9,183.2 L434.6,181.7 L436.3,180.3 L436.5,181.1 L435.9,182.3 L435.3,183.5 L435.9,183.9 L436.4,184.4 L436.9,185.0 L436.7,186.1 L436.4,187.1 L437.1,187.8 L437.7,188.5 L438.8,188.9 L439.9,189.3 L441.1,188.6 L442.4,187.9 L442.8,188.7 L443.2,189.6 L444.3,189.0 L445.4,188.3 L446.8,188.0 L448.3,187.7 L449.5,187.1 L450.4,185.5 L451.4,184.4 L452.4,183.3 L453.3,182.2 L454.3,181.2 L455.1,180.2 L456.5,179.1 L457.9,178.0 L458.8,176.5 L459.8,175.1 L460.6,173.7 L461.1,172.1 L461.4,170.6 L461.8,169.0 L461.5,168.0 L461.0,167.0 L460.4,166.0 L460.2,164.9 L459.9,163.8 L459.2,163.6 L458.5,163.3 L458.3,161.8 L458.0,160.3 L457.1,159.6 L456.2,158.9 L455.3,158.1 L455.3,157.0 L455.2,155.9 L455.2,154.8 L455.0,153.6 L454.8,152.5 L455.1,151.5 L454.1,150.6 L452.8,149.9 L452.9,148.4 L452.6,147.3 L452.3,146.2 L452.0,145.1 L451.3,146.0 L450.9,147.3 L450.4,148.5 L449.9,149.8 L449.5,151.2 L449.1,152.6 L448.7,154.0 L447.9,155.1 L447.0,156.1 L445.9,155.6 L444.8,154.7 L444.1,153.9 L443.3,153.2 L442.5,152.6 L441.7,152.0 L441.2,151.3 L441.8,150.2 L442.4,149.1 L442.9,148.1 L443.4,147.1 L442.1,147.1 L440.9,146.9 L439.7,146.5 L438.6,146.2 L437.8,146.3 L437.0,146.0 L435.7,147.2 L434.4,148.4 L434.0,149.5 L433.6,150.6 L433.2,151.7 L432.3,151.7 L431.5,151.7 L430.3,150.4 L429.4,150.6 L428.4,150.7 L427.7,150.9 L426.9,151.0 L426.3,151.9 L425.8,152.8 L424.9,154.1 L423.9,155.4 L423.2,155.4 L422.4,155.4 L421.8,156.5 L421.2,157.6 L419.8,158.5 L418.4,159.4 L417.5,159.8 L416.5,160.2 L415.6,160.5 L414.7,160.8 L413.8,160.8 L412.8,161.4 L411.9,162.1 L410.5,163.3 L409.7,163.1 L408.9,162.8Z M439.5,192.3 L440.4,192.7 L441.2,193.0 L442.6,192.8 L444.0,192.6 L443.3,193.5 L442.7,194.4 L441.6,195.4 L440.4,196.3 L439.3,196.5 L438.2,196.8 L438.4,195.8 L438.6,194.8 L439.1,193.5 L439.5,192.3Z M481.8,182.4 L482.6,183.1 L483.3,183.8 L483.2,184.8 L483.2,185.8 L483.2,187.4 L484.4,187.4 L485.7,187.4 L486.4,187.6 L485.2,188.7 L483.9,189.9 L482.0,191.0 L480.7,192.1 L479.3,193.2 L477.5,193.8 L477.2,193.2 L479.0,191.9 L478.9,191.0 L478.3,190.4 L480.1,189.3 L480.9,188.2 L481.7,187.1 L482.1,185.7 L481.9,184.7 L481.6,183.6 L481.8,182.4Z M475.9,191.9 L476.2,192.5 L476.6,193.0 L476.3,193.8 L474.9,194.8 L473.5,195.7 L472.2,196.5 L470.7,197.2 L469.1,198.0 L467.9,199.2 L466.6,200.3 L465.2,200.9 L463.9,201.4 L463.1,201.2 L462.4,201.0 L461.8,200.9 L461.1,200.8 L462.0,200.0 L462.8,199.1 L464.3,198.3 L465.8,197.6 L467.2,197.0 L468.6,196.4 L469.9,195.8 L471.3,194.9 L472.7,194.0 L474.5,192.6 L475.9,191.9Z M91.6,245.3 L92.6,245.3 L93.6,245.3 L94.6,245.4 L95.5,245.4 L96.5,245.5 L97.5,245.5 L98.5,245.5 L99.4,245.6 L100.4,245.6 L101.4,245.6 L102.3,245.6 L103.2,245.6 L104.1,245.6 L105.0,245.6 L105.9,245.6 L106.7,245.6 L107.6,245.6 L108.5,245.6 L109.4,245.6 L110.3,245.6 L110.7,245.4 L111.1,245.1 L111.5,244.9 L111.9,244.6 L112.3,244.3 L112.7,244.1 L113.2,243.9 L113.7,243.6 L114.2,243.4 L114.7,243.2 L115.3,243.0 L115.9,242.8 L116.6,242.6 L117.2,242.5 L117.9,242.3 L118.6,242.2 L119.3,242.1 L120.1,241.9 L120.8,241.8 L121.6,241.7 L122.3,241.6 L123.1,241.4 L123.8,241.3 L124.6,241.2 L125.3,241.1 L126.2,241.0 L127.1,241.0 L128.0,240.9 L128.9,240.9 L129.7,240.8 L130.5,240.7 L131.3,240.6 L132.1,240.4 L132.9,240.3 L133.7,240.2 L134.7,240.2 L135.7,240.3 L136.7,240.3 L137.8,240.4 L138.8,240.4 L139.8,240.5 L140.8,240.5 L141.8,240.6 L142.8,240.6 L143.9,240.7 L144.9,240.8 L146.0,240.9 L147.1,241.0 L148.2,241.1 L149.2,241.2 L150.1,241.1 L150.9,241.0 L151.8,241.0 L152.7,240.9 L153.5,240.8 L154.2,240.6 L154.9,240.4 L155.7,240.1 L156.4,239.9 L157.1,239.7 L158.0,239.7 L159.0,239.6 L159.9,239.6 L160.9,239.6 L161.8,239.6 L162.6,239.4 L163.5,239.3 L164.3,239.2 L165.2,239.1 L166.1,238.9 L167.1,239.1 L168.2,239.2 L169.3,239.3 L170.4,239.4 L171.5,239.6 L172.4,239.5 L173.3,239.4 L174.2,239.3 L175.1,239.3 L176.0,239.2 L176.8,239.1 L177.7,238.9 L178.6,238.8 L179.5,238.7 L180.3,238.5 L181.1,238.3 L182.0,238.1 L182.8,237.9 L183.4,237.3 L183.9,236.6 L184.0,235.7 L184.2,234.7 L184.0,233.5 L183.9,232.4 L184.1,231.4 L184.3,230.4 L184.8,229.7 L185.3,229.0 L185.8,228.3 L186.6,227.9 L187.3,227.6 L188.1,227.2 L188.9,226.9 L189.9,226.7 L190.8,226.4 L191.8,226.2 L191.3,227.0 L190.9,227.7 L190.4,228.6 L189.9,229.4 L189.4,230.2 L189.5,231.2 L189.5,232.1 L189.6,233.1 L189.9,234.0 L190.2,235.0 L190.5,236.0 L191.5,237.3 L192.5,238.6 L193.7,239.7 L195.0,240.8 L196.1,241.3 L197.2,241.7 L198.4,242.2 L199.5,242.7 L200.6,242.9 L201.7,243.2 L202.8,243.4 L203.8,243.6 L204.9,243.9 L206.0,244.1 L207.0,244.3 L208.1,244.6 L209.0,244.6 L210.0,244.7 L210.9,244.8 L211.9,244.8 L212.8,244.9 L213.7,244.9 L214.7,245.0 L215.6,245.0 L216.5,244.9 L217.3,244.8 L218.2,244.7 L219.0,244.6 L219.9,244.5 L220.7,244.4 L221.6,244.3 L222.4,244.1 L223.2,243.8 L224.0,243.5 L224.8,243.2 L225.6,242.9 L226.5,242.5 L227.3,242.2 L228.1,241.8 L228.9,241.4 L229.8,241.1 L230.6,240.7 L231.5,240.3 L232.4,239.9 L233.2,239.6 L234.1,239.2 L235.0,238.8 L235.9,238.4 L236.8,238.0 L237.8,237.7 L238.7,237.3 L239.7,237.1 L240.6,237.0 L241.6,236.9 L242.6,236.8 L243.6,236.6 L244.5,236.6 L245.5,236.5 L246.5,236.5 L247.5,236.4 L248.5,236.4 L249.5,236.2 L250.5,236.1 L251.5,235.9 L252.5,235.7 L253.5,235.6 L254.5,235.6 L255.5,235.6 L256.5,235.7 L257.5,235.7 L258.5,235.7 L259.5,235.6 L260.5,235.6 L261.5,235.5 L262.5,235.4 L263.6,235.3 L264.6,235.3 L265.6,235.3 L266.6,235.3 L267.6,235.3 L268.6,235.3 L269.6,235.3 L270.6,235.3 L271.6,235.3 L272.6,235.3 L273.6,235.3 L274.6,235.4 L275.6,235.4 L276.6,235.5 L277.6,235.5 L278.6,235.6 L279.6,235.5 L280.7,235.4 L281.7,235.3 L282.7,235.2 L283.8,235.1 L284.8,235.0 L285.8,234.9 L286.8,234.8 L287.9,234.7 L288.9,234.7 L290.0,234.5 L291.0,234.4 L292.1,234.3 L293.2,234.1 L294.2,234.0 L295.3,233.7 L296.4,233.5 L297.6,233.2 L298.7,232.9 L299.8,232.7 L301.0,232.3 L302.1,232.0 L303.3,231.7 L304.5,231.4 L305.7,231.0 L306.7,231.0 L307.8,230.9 L308.9,230.9 L309.9,230.8 L311.0,230.8 L312.0,231.0 L312.9,231.2 L313.9,231.3 L314.8,231.5 L315.8,231.7 L316.7,231.8 L317.7,231.9 L318.7,232.0 L319.7,232.0 L320.7,232.1 L321.5,232.5 L322.4,232.9 L323.2,233.3 L324.0,233.6 L324.8,234.0 L325.3,234.8 L325.8,235.6 L327.0,235.3 L328.2,235.0 L329.4,234.7 L330.7,234.3 L332.0,233.9 L333.3,233.5 L334.6,233.1 L335.9,232.7 L337.1,232.3 L338.4,232.0 L339.6,231.7 L340.9,231.4 L342.2,231.0 L343.3,231.0 L344.4,230.9 L345.5,230.8 L346.6,230.7 L347.7,230.6 L348.8,230.6 L349.9,230.5 L351.0,230.4 L352.1,230.3 L353.3,230.2 L354.4,230.1 L355.5,230.0 L356.7,229.9 L357.8,229.8 L359.0,229.7 L360.0,229.7 L361.0,229.8 L362.0,229.8 L363.0,229.9 L364.0,229.9 L365.0,229.9 L366.1,229.9 L367.2,229.9 L368.2,229.9 L369.3,229.9 L370.1,230.2 L371.0,230.4 L371.8,230.6 L372.6,230.8 L373.5,231.0 L374.6,231.0 L375.7,230.9 L376.8,230.8 L378.0,230.7 L379.1,230.6 L380.2,230.6 L381.3,230.5 L382.4,230.5 L383.5,230.4 L384.6,230.4 L385.7,230.3 L386.8,230.3 L387.9,230.3 L388.9,230.2 L390.0,230.2 L391.1,230.2 L392.2,230.1 L393.3,230.1 L394.5,230.0 L395.6,229.9 L396.4,230.1 L397.2,230.3 L398.1,230.5 L398.9,230.7 L399.7,230.9 L400.5,231.1 L401.3,231.3 L402.1,231.6 L402.8,231.8 L403.6,232.0 L404.3,232.3 L404.9,232.6 L405.6,232.9 L406.2,233.2 L406.9,233.5 L407.8,233.6 L408.6,233.7 L409.5,233.8 L410.4,233.9 L411.3,234.0 L412.0,234.2 L412.7,234.4 L413.4,234.6 L414.1,234.9 L414.8,235.1 L415.5,235.3 L416.2,235.5 L416.9,235.7 L417.6,235.9 L418.3,236.1 L418.9,236.3 L419.6,236.6 L420.2,236.8 L420.8,237.0 L421.4,237.3 L419.8,238.6 L418.0,239.2 L416.2,239.8 L414.5,240.2 L412.8,240.7 L411.1,241.1 L407.9,242.3 L404.6,243.5 L403.9,244.3 L403.3,245.0 L404.0,245.1 L404.8,245.2 L405.6,245.2 L406.4,245.3 L407.2,245.3 L408.0,245.4 L408.8,245.4 L409.6,245.5 L410.4,245.5 L411.4,245.5 L412.4,245.4 L413.4,245.4 L414.4,245.3 L415.4,245.3 L412.7,246.4 L410.1,247.5 L407.5,248.5 L404.9,249.5 L402.4,250.5 L400.0,251.3 L397.7,252.2 L395.5,252.9 L393.3,253.6 L391.3,254.2 L389.4,254.7 L387.6,255.2 L386.9,255.2 L386.1,255.2 L385.4,255.2 L384.6,255.2 L383.9,255.2 L383.1,255.2 L382.4,255.2 L381.7,255.2 L380.9,255.2 L380.2,255.2 L379.4,255.2 L378.7,255.2 L377.9,255.2 L377.2,255.2 L376.4,255.2 L375.7,255.2 L374.9,255.2 L374.2,255.2 L373.5,255.2 L372.7,255.2 L372.0,255.2 L371.2,255.2 L370.5,255.2 L369.7,255.2 L369.0,255.2 L368.2,255.2 L367.5,255.2 L366.8,255.2 L366.0,255.2 L365.3,255.2 L364.5,255.2 L363.8,255.2 L363.0,255.2 L362.3,255.2 L361.5,255.2 L360.8,255.2 L360.0,255.2 L359.3,255.2 L358.6,255.2 L357.8,255.2 L357.1,255.2 L356.3,255.2 L355.6,255.2 L354.8,255.2 L354.1,255.2 L353.3,255.2 L352.6,255.2 L351.9,255.2 L351.1,255.2 L350.4,255.2 L349.6,255.2 L348.9,255.2 L348.1,255.2 L347.4,255.2 L346.6,255.2 L345.9,255.2 L345.1,255.2 L344.4,255.2 L343.7,255.2 L342.9,255.2 L342.2,255.2 L341.4,255.2 L340.7,255.2 L339.9,255.2 L339.2,255.2 L338.4,255.2 L337.7,255.2 L336.9,255.2 L336.2,255.2 L335.5,255.2 L334.7,255.2 L334.0,255.2 L333.2,255.2 L332.5,255.2 L331.7,255.2 L331.0,255.2 L330.2,255.2 L329.5,255.2 L328.8,255.2 L328.0,255.2 L327.3,255.2 L326.5,255.2 L325.8,255.2 L325.0,255.2 L324.3,255.2 L323.5,255.2 L322.8,255.2 L322.0,255.2 L321.3,255.2 L320.6,255.2 L319.8,255.2 L319.1,255.2 L318.3,255.2 L317.6,255.2 L316.8,255.2 L316.1,255.2 L315.3,255.2 L314.6,255.2 L313.9,255.2 L313.1,255.2 L312.4,255.2 L311.6,255.2 L310.9,255.2 L310.1,255.2 L309.4,255.2 L308.6,255.2 L307.9,255.2 L307.1,255.2 L306.4,255.2 L305.7,255.2 L304.9,255.2 L304.2,255.2 L303.4,255.2 L302.7,255.2 L301.9,255.2 L301.2,255.2 L300.4,255.2 L299.7,255.2 L298.9,255.2 L298.2,255.2 L297.5,255.2 L296.7,255.2 L296.0,255.2 L295.2,255.2 L294.5,255.2 L293.7,255.2 L293.0,255.2 L292.2,255.2 L291.5,255.2 L290.8,255.2 L290.0,255.2 L289.3,255.2 L288.5,255.2 L287.8,255.2 L287.0,255.2 L286.3,255.2 L285.5,255.2 L284.8,255.2 L284.0,255.2 L283.3,255.2 L282.6,255.2 L281.8,255.2 L281.1,255.2 L280.3,255.2 L279.6,255.2 L278.8,255.2 L278.1,255.2 L277.3,255.2 L276.6,255.2 L275.9,255.2 L275.1,255.2 L274.4,255.2 L273.6,255.2 L272.9,255.2 L272.1,255.2 L271.4,255.2 L270.6,255.2 L269.9,255.2 L269.1,255.2 L268.4,255.2 L267.7,255.2 L266.9,255.2 L266.2,255.2 L265.4,255.2 L264.7,255.2 L263.9,255.2 L263.2,255.2 L262.4,255.2 L261.7,255.2 L261.0,255.2 L260.2,255.2 L259.5,255.2 L258.7,255.2 L258.0,255.2 L257.2,255.2 L256.5,255.2 L255.7,255.2 L255.0,255.2 L254.2,255.2 L253.5,255.2 L252.8,255.2 L252.0,255.2 L251.3,255.2 L250.5,255.2 L249.8,255.2 L249.0,255.2 L248.3,255.2 L247.5,255.2 L246.8,255.2 L246.0,255.2 L245.3,255.2 L244.6,255.2 L243.8,255.2 L243.1,255.2 L242.3,255.2 L241.6,255.2 L240.8,255.2 L240.1,255.2 L239.3,255.2 L238.6,255.2 L237.9,255.2 L237.1,255.2 L236.4,255.2 L235.6,255.2 L234.9,255.2 L234.1,255.2 L233.4,255.2 L232.6,255.2 L231.9,255.2 L231.1,255.2 L230.4,255.2 L229.7,255.2 L228.9,255.2 L228.2,255.2 L227.4,255.2 L226.7,255.2 L225.9,255.2 L225.2,255.2 L224.4,255.2 L223.7,255.2 L223.0,255.2 L222.2,255.2 L221.5,255.2 L220.7,255.2 L220.0,255.2 L219.2,255.2 L218.5,255.2 L217.7,255.2 L217.0,255.2 L216.2,255.2 L215.5,255.2 L214.8,255.2 L214.0,255.2 L213.3,255.2 L212.5,255.2 L211.8,255.2 L211.0,255.2 L210.3,255.2 L209.5,255.2 L208.8,255.2 L208.1,255.2 L207.3,255.2 L206.6,255.2 L205.8,255.2 L205.1,255.2 L204.3,255.2 L203.6,255.2 L202.8,255.2 L202.1,255.2 L201.3,255.2 L200.6,255.2 L199.9,255.2 L199.1,255.2 L198.4,255.2 L197.6,255.2 L196.9,255.2 L196.1,255.2 L195.4,255.2 L194.6,255.2 L193.9,255.2 L193.1,255.2 L192.4,255.2 L191.7,255.2 L190.9,255.2 L190.2,255.2 L189.4,255.2 L188.7,255.2 L187.9,255.2 L187.2,255.2 L186.4,255.2 L185.7,255.2 L185.0,255.2 L184.2,255.2 L183.5,255.2 L182.7,255.2 L182.0,255.2 L181.2,255.2 L180.5,255.2 L179.7,255.2 L179.0,255.2 L178.2,255.2 L177.5,255.2 L176.8,255.2 L176.0,255.2 L175.3,255.2 L174.5,255.2 L173.8,255.2 L173.0,255.2 L172.3,255.2 L171.5,255.2 L170.8,255.2 L170.1,255.2 L169.3,255.2 L168.6,255.2 L167.8,255.2 L167.1,255.2 L166.3,255.2 L165.6,255.2 L164.8,255.2 L164.1,255.2 L163.3,255.2 L162.6,255.2 L161.9,255.2 L161.1,255.2 L160.4,255.2 L159.6,255.2 L158.9,255.2 L158.1,255.2 L157.4,255.2 L156.6,255.2 L155.9,255.2 L155.1,255.2 L154.4,255.2 L153.7,255.2 L152.9,255.2 L152.2,255.2 L151.4,255.2 L150.7,255.2 L149.9,255.2 L149.2,255.2 L148.4,255.2 L147.7,255.2 L147.0,255.2 L146.2,255.2 L145.5,255.2 L144.7,255.2 L144.0,255.2 L143.2,255.2 L142.5,255.2 L141.7,255.2 L141.0,255.2 L140.2,255.2 L139.5,255.2 L138.8,255.2 L138.0,255.2 L137.3,255.2 L136.5,255.2 L135.8,255.2 L135.0,255.2 L134.3,255.2 L133.5,255.2 L132.8,255.2 L132.1,255.2 L131.3,255.2 L130.6,255.2 L129.8,255.2 L129.1,255.2 L128.3,255.2 L127.6,255.2 L126.8,255.2 L126.1,255.2 L125.3,255.2 L124.6,255.2 L123.9,255.2 L123.1,255.2 L122.4,255.2 L121.6,255.2 L120.9,255.2 L120.1,255.2 L119.4,255.2 L117.6,254.7 L115.7,254.2 L113.7,253.6 L111.5,252.9 L109.3,252.2 L107.0,251.3 L104.6,250.5 L102.1,249.5 L99.5,248.5 L96.9,247.5 L94.3,246.4Z" fill="#e5e8ed"/>
<path d="M175.7,244.8 L176.5,244.7 L177.3,244.6 L178.1,244.6 L178.9,244.5 L179.7,244.4 L180.6,244.3 L181.4,244.2 L182.2,244.1 L183.1,244.0 L183.9,244.0 L184.7,243.9 L185.6,243.8 L186.5,243.8 L187.3,243.7 L188.2,243.7 L189.1,243.6 L190.0,243.5 L190.8,243.5 L191.7,243.4 L192.6,243.4 L193.5,243.3 L194.4,243.3 L195.4,243.5 L196.5,243.6 L197.5,243.8 L198.6,244.0 L199.6,244.2 L200.7,244.4 L201.7,244.6 L202.8,244.7 L203.8,244.9 L204.7,245.0 L205.7,245.0 L206.6,245.0 L207.5,245.1 L208.4,245.1 L209.3,245.1 L210.3,245.2 L211.2,245.2 L212.1,245.2 L213.0,245.3 L213.9,245.2 L214.8,245.2 L215.6,245.1 L216.5,245.1 L217.4,245.0 L218.3,245.0 L219.1,244.9 L220.0,244.9 L220.9,244.8 L221.8,244.8 L222.7,244.7 L223.7,244.9 L224.7,245.2 L225.7,245.4 L226.7,245.6 L225.8,245.7 L225.0,245.9 L224.1,246.0 L223.3,246.1 L222.4,246.2 L221.6,246.3 L220.8,246.4 L219.9,246.5 L219.1,246.6 L218.3,246.7 L217.4,246.8 L216.6,246.8 L215.7,246.8 L214.8,246.8 L214.0,246.9 L213.1,246.9 L212.2,246.9 L211.4,246.9 L210.5,246.9 L209.6,247.0 L208.8,247.0 L207.9,247.0 L207.1,247.0 L206.2,247.1 L205.3,247.1 L204.4,247.1 L203.6,247.0 L202.7,247.0 L201.8,247.0 L200.9,247.0 L200.0,246.9 L199.1,246.9 L198.2,246.9 L197.3,246.9 L196.4,246.9 L195.5,246.8 L194.6,246.8 L193.7,246.8 L192.8,246.8 L191.9,246.7 L191.0,246.7 L190.1,246.7 L189.2,246.6 L188.2,246.6 L187.3,246.6 L186.4,246.5 L185.5,246.5 L184.6,246.5 L183.6,246.4 L182.7,246.4 L181.8,246.4 L180.9,246.3 L180.0,246.3 L179.0,246.3 L178.1,246.2 L177.2,246.2 L176.4,245.5Z" fill="#fff"/>
<path d="M102.6,51.3 L103.8,51.3 L105.0,51.3 L106.2,51.3 L107.4,51.3 L108.6,51.3 L109.8,51.3 L110.9,51.3 L112.1,51.3 L113.3,51.3 L114.5,51.3 L115.7,51.3 L116.9,51.3 L118.1,51.3 L119.2,51.3 L120.4,51.3 L121.6,51.3 L122.8,51.3 L124.0,51.3 L125.2,51.3 L126.4,51.3 L127.5,51.3 L128.7,51.3 L129.9,51.3 L131.1,51.3 L132.3,51.3 L133.5,51.3 L134.7,51.3 L135.8,51.3 L137.0,51.3 L137.3,50.7 L137.5,51.8 L138.4,52.0 L139.2,52.2 L140.0,52.4 L140.9,52.7 L142.0,52.7 L143.2,52.8 L144.0,52.6 L144.8,52.4 L145.7,52.9 L146.5,53.4 L147.4,54.0 L148.2,54.5 L148.8,55.4 L149.5,56.2 L150.2,57.0 L149.9,58.4 L149.6,59.8 L148.5,61.2 L147.4,62.1 L148.6,62.0 L149.8,61.8 L150.8,61.6 L151.7,61.5 L152.7,61.3 L153.4,60.1 L154.4,59.9 L155.4,59.8 L156.3,59.6 L157.5,58.8 L158.7,57.9 L159.8,57.4 L160.8,57.4 L161.8,57.4 L162.8,57.4 L163.8,57.4 L165.0,56.8 L165.8,55.8 L166.6,54.8 L167.9,53.7 L169.1,53.9 L169.5,54.2 L169.2,55.3 L168.8,56.4 L169.4,57.3 M111.0,21.6 L109.4,22.8 L107.9,24.1 L106.4,25.3 L104.9,26.6 L103.5,27.9 L102.0,29.2 L100.6,30.5 L99.1,31.8 L97.7,33.1 L96.3,34.5 L97.2,34.7 L98.1,34.9 L98.2,35.6 L98.3,36.4 L100.0,35.8 L101.7,35.2 L101.9,36.1 L102.1,37.1 L101.9,38.5 L101.7,40.0 L101.8,40.9 L101.9,41.8 M97.5,77.0 L98.6,76.9 L99.7,76.8 L100.8,76.7 L101.8,77.3 L102.8,77.8 L103.9,78.4 L105.0,78.9 L106.2,78.9 L107.5,78.9 L108.7,78.9 L109.0,78.1 L110.1,78.1 L111.2,78.1 L111.8,79.3 L112.3,80.4 L112.9,81.6 L113.8,82.1 L114.6,82.5 L115.8,81.9 L117.0,81.3 L117.6,82.5 L118.2,83.7 L118.8,84.9 L119.6,85.7 L120.5,86.6 L121.4,87.4 M125.6,105.4 L125.8,104.1 L127.0,102.8 L128.5,102.4 L128.6,101.3 L128.7,100.2 L129.6,100.1 L130.5,100.0 L131.8,99.1 M130.4,100.0 L130.2,101.6 L130.0,103.2 L131.4,103.5 M128.6,106.5 L129.6,105.5 L130.7,106.2 L131.6,107.1 M132.2,107.7 L133.1,107.3 L134.6,106.2 L135.8,104.9 L137.0,104.7 L138.2,104.6 M134.2,110.7 L135.6,110.9 L137.0,111.0 M138.0,112.6 L138.1,113.5 L138.3,114.3 L137.8,115.4 M145.5,114.7 L145.7,115.8 L144.7,116.9 M154.1,110.6 L153.0,110.9 L151.9,111.8 L152.2,113.4 L152.5,115.0 L152.4,116.5 L153.5,116.8 L154.5,117.0 L155.6,117.2 L156.7,117.6 L157.7,118.0 L158.8,118.4 L158.9,119.9 L159.1,121.3 L159.2,122.7 L158.6,123.9 L159.0,124.7 L159.4,125.5 L159.9,126.3 M143.2,126.0 L144.5,126.8 L145.7,127.6 L146.8,128.0 L147.9,128.5 L147.8,129.6 L147.7,130.7 L146.4,131.7 L145.2,132.7 L144.0,133.7 L143.5,134.9 L143.1,136.1 L142.1,134.8 L141.2,133.6 M155.7,134.8 L154.6,134.2 L153.6,133.4 L152.5,132.7 L151.5,132.0 L150.4,130.7 L149.4,129.5 L147.9,128.5 M169.8,114.8 L169.2,116.1 L168.7,117.4 L168.1,118.7 L167.5,120.0 L168.6,121.0 L167.5,121.6 M173.7,118.8 L173.3,119.9 L172.9,121.1 L172.5,122.2 L172.4,123.4 L172.4,124.6 L172.3,125.8 M178.0,119.1 L177.9,120.4 L177.7,121.7 L177.5,123.1 L177.4,124.4 M181.3,121.6 L180.4,123.2 L179.5,124.7 L178.6,124.8 L177.8,124.9 L176.5,125.1 L175.3,125.4 L174.4,125.2 L173.0,125.7 L171.6,126.2 L170.9,125.8 L170.1,125.5 L169.8,124.7 L169.5,123.9 L169.7,122.6 L169.9,121.3 L169.0,121.1 L168.1,121.0 L166.9,121.4 L165.7,121.9 L164.4,121.8 L163.2,121.7 L163.5,123.0 L163.9,124.3 L163.7,125.1 L163.4,126.0 L162.2,126.1 L161.0,126.2 L159.9,126.3 L158.7,126.4 L157.5,126.4 L156.4,126.5 L155.8,125.5 L156.0,127.0 L156.2,128.5 L156.4,129.9 L156.2,131.2 L156.0,132.4 L155.9,133.6 L155.7,134.8 L154.4,135.4 L153.0,136.0 L151.6,136.5 L151.2,137.6 L150.7,138.8 L150.3,139.9 L151.0,141.4 L151.7,143.0 L152.9,143.8 L154.1,144.7 L155.3,145.5 L156.7,145.4 L157.4,146.6 L158.0,147.9 L159.1,147.4 L160.2,146.9 L161.3,146.5 L162.5,146.0 L163.3,146.9 L164.1,147.9 L165.3,148.4 L166.6,148.9 L167.8,149.5 L168.7,149.7 L169.5,149.9 L169.7,151.2 L170.0,152.6 L170.2,153.9 L171.5,153.9 L172.8,153.9 L173.4,155.4 L174.1,156.9 L173.8,158.3 L173.5,159.7 L173.7,160.8 L173.9,161.9 L174.2,163.0 L175.2,163.3 L176.3,163.5 L177.4,163.8 L178.0,165.4 L178.6,166.9 L179.2,168.5 L180.7,169.5 L180.6,170.9 L179.5,171.7 L178.4,172.6 L177.2,174.2 L176.1,175.8 L177.3,176.3 L178.5,176.9 L179.9,178.3 L181.3,179.8 L182.7,181.3 M156.7,145.4 L157.0,146.8 L157.3,148.3 L157.6,149.8 L157.5,151.1 L157.4,152.5 L158.1,154.0 L157.7,155.0 L157.4,155.9 L156.4,157.0 M157.4,155.9 L158.2,157.3 L158.9,158.8 L159.3,160.2 L159.7,161.7 L160.7,162.8 L161.7,163.9 L161.1,165.3 L160.5,166.6 L160.6,168.0 L160.7,169.4 L160.8,170.7 L160.4,172.3 L160.1,173.9 L159.8,175.4 L160.0,177.0 L160.2,178.6 L160.4,180.2 L160.5,181.7 L160.7,183.3 L160.8,184.9 L161.0,186.5 L161.2,188.0 L161.4,189.6 L161.5,191.2 L161.7,192.7 L161.8,194.3 L162.4,195.7 L163.0,197.2 L163.6,198.6 L163.7,199.9 L163.9,201.1 L164.0,202.3 L164.2,203.6 L164.3,205.1 L164.3,206.6 L165.5,207.9 L166.7,209.1 L167.8,209.3 L168.8,209.5 L169.9,209.7 L171.0,210.0 M161.7,163.9 L162.6,163.6 L163.5,163.3 L164.4,163.0 L165.4,163.0 L166.4,162.9 L167.4,162.8 L168.3,164.3 L169.3,165.8 L170.5,167.1 L171.7,168.4 L172.9,169.6 L174.1,170.9 L175.5,171.0 L176.8,171.2 L178.2,171.3 L178.7,169.9 L179.2,168.5 M167.4,162.8 L167.8,161.6 L168.2,160.3 L168.6,159.1 L169.8,158.9 L171.0,158.8 L172.1,158.6 L173.5,159.7 M176.1,180.3 L176.1,178.8 L176.1,177.3 L176.1,175.8 M251.1,73.1 L251.4,74.6 L251.6,76.1 L251.9,77.6 L250.8,78.3 L249.7,78.9 L248.5,79.5 L247.2,80.2 L245.8,80.9 L244.5,81.6 L243.1,82.3 L241.8,83.0 L241.7,84.1 L241.7,85.2 L241.7,86.3 L241.7,87.4 L240.6,87.4 L239.4,87.3 L238.3,87.3 L237.2,87.3 L237.2,88.6 L237.1,89.9 L237.1,91.2 L236.6,92.3 L236.1,93.5 L235.7,94.7 L234.3,94.6 L232.9,94.6 L231.6,94.5 L230.2,94.5 M241.7,85.2 L243.0,86.1 L244.3,87.0 L245.6,87.9 L247.0,88.8 L245.8,88.9 L244.6,89.0 L244.8,90.5 L244.9,92.0 L245.1,93.5 L245.2,95.0 L245.3,96.5 L245.5,98.0 L245.6,99.5 L245.7,101.0 L245.9,102.5 L244.5,102.8 L243.2,103.0 L241.8,103.2 L240.4,103.5 L239.1,103.7 L237.7,103.9 L236.6,105.2 L235.3,104.7 L234.1,104.1 L232.9,103.6 L231.6,103.1 L230.4,102.5 M247.0,88.8 L248.3,90.0 L249.7,91.1 L251.0,92.2 L252.4,93.3 L253.8,94.5 L255.1,95.6 L256.5,96.4 L257.8,97.2 L258.6,97.6 L259.4,98.0 L259.4,99.2 L259.4,100.4 L259.4,101.6 L259.0,102.6 L258.5,103.6 L257.3,103.9 L256.1,104.3 L254.9,104.6 L254.0,104.7 L253.1,104.7 L251.9,105.0 L250.7,105.2 M259.4,98.0 L260.5,97.8 L261.5,97.6 L262.7,96.7 L263.9,95.8 L265.0,94.9 L266.2,94.0 L267.4,93.0 L268.6,92.1 L269.8,91.2 L268.6,89.8 L267.5,88.4 L266.4,86.9 L266.6,85.5 L266.9,84.1 L266.7,83.0 L266.6,81.8 L266.4,80.6 L267.3,79.1 L268.0,77.6 L268.8,76.1 M264.5,70.1 L264.4,71.2 L264.4,72.4 L264.3,73.6 L263.9,74.7 L263.5,75.8 L264.6,76.7 L265.6,77.6 L265.9,79.1 L266.3,80.5 M269.8,91.2 L270.7,91.5 L271.7,91.8 L272.7,92.1 L274.0,92.0 L275.4,92.6 L276.8,93.2 L278.2,93.8 L279.6,94.4 L281.0,95.0 L282.3,95.7 L283.7,96.3 L285.1,96.9 L286.5,97.5 L286.5,96.7 L287.9,96.7 L287.8,95.1 L287.8,93.6 L287.7,92.1 L287.6,90.7 L287.6,89.3 L287.5,87.9 L287.4,86.5 L287.4,85.1 L287.3,83.6 L287.2,82.2 L287.0,80.9 L286.7,79.5 L286.5,78.1 M287.8,93.6 L289.1,93.6 L290.5,93.6 L291.9,93.6 L293.2,93.6 L294.6,93.6 L296.0,93.6 L297.3,93.6 L298.7,93.6 L300.0,93.6 L301.4,93.6 L302.7,93.6 L304.1,93.6 M274.0,92.0 L274.3,93.2 L274.6,94.4 L274.8,95.6 L275.1,96.8 L274.9,97.9 L274.8,98.9 L274.6,100.0 L274.0,101.2 L273.4,102.4 L272.7,103.6 L272.6,104.9 L272.4,106.2 L273.6,107.6 L273.2,109.1 L273.6,110.2 L274.0,111.3 L274.4,112.5 L273.6,112.8 L272.9,113.2 L274.0,114.7 L275.1,116.1 L276.2,115.9 L277.3,115.8 L278.4,115.6 L279.5,115.4 L280.5,114.5 L281.6,113.5 L282.7,112.5 L283.7,111.5 L284.5,110.9 L285.4,110.2 L284.9,108.8 L283.9,108.4 L284.2,107.0 L284.4,105.7 L285.0,104.7 L285.5,103.6 L286.6,103.6 L286.6,102.1 L286.6,100.6 L286.5,99.0 L286.5,97.5 M272.4,106.2 L271.5,106.6 L270.6,107.1 L269.5,107.2 L268.5,107.2 L267.4,107.3 L266.4,107.3 L265.4,107.3 L264.3,107.3 L263.2,107.0 L262.0,106.7 L260.9,106.5 L259.8,107.4 L258.6,108.4 L258.5,109.8 L257.4,109.0 L256.6,108.4 L255.7,107.8 L254.9,107.3 L254.1,106.2 L253.1,104.7 M258.5,109.8 L258.1,111.3 L257.7,112.9 L257.6,114.3 L257.5,115.6 L257.4,116.9 L257.3,118.3 M273.6,107.6 L273.2,108.9 L272.8,110.2 L272.4,111.6 L272.0,112.9 L271.4,114.1 L270.9,115.2 L270.3,116.4 L269.0,117.0 L267.7,117.5 L266.4,118.1 L265.9,119.6 L265.4,121.1 M250.7,105.2 L249.5,106.8 L248.6,108.1 L247.7,109.5 L246.8,110.9 L245.8,111.8 L244.7,111.9 L243.5,112.0 L242.4,112.1 L242.2,111.2 L241.9,110.2 L240.7,109.7 L239.5,109.2 L238.2,108.7 L237.7,107.5 L237.1,106.4 L236.6,105.2 M253.1,104.7 L254.1,106.2 L254.5,107.0 L255.0,107.9 L255.7,108.8 L256.3,109.8 L255.5,110.3 L254.8,110.9 L253.4,110.7 L252.1,110.8 L250.8,110.8 L249.5,110.9 L248.1,110.9 L246.8,110.9 M249.5,110.9 L249.6,112.3 L249.7,113.8 L249.9,115.3 L249.5,116.8 L249.0,118.3 L249.2,119.3 L249.3,120.3 M254.8,110.9 L254.1,112.1 L254.2,113.7 L254.3,115.3 L254.6,116.4 L254.9,117.5 L255.2,118.6 M275.1,116.1 L276.0,116.4 L275.2,117.8 L274.5,119.2 L273.8,120.6 L274.8,122.1 L275.7,123.5 L275.9,124.6 L274.6,124.6 L273.4,124.7 L272.1,124.7 L270.7,124.7 L269.3,124.6 L268.3,124.6 L267.2,124.6 M275.9,124.6 L277.3,123.6 L278.7,122.7 L279.4,121.4 L280.6,120.2 L282.0,120.7 L283.4,121.3 L284.8,121.9 L286.2,121.0 L287.6,120.2 L288.6,120.3 L289.7,120.2 L290.7,120.1 L291.8,120.0 L293.0,120.7 L294.2,121.3 L295.4,122.0 L296.6,122.7 L296.9,123.7 L297.2,124.7 L296.6,126.1 L296.1,127.5 L295.5,128.9 L294.9,130.2 L294.6,131.5 L294.2,132.8 L294.3,134.0 L294.5,135.3 L294.6,136.5 L294.7,137.6 L295.3,138.9 L295.8,140.1 L296.3,141.3 L295.1,141.4 L293.8,141.6 L293.6,142.9 L293.4,144.2 L293.2,145.5 L293.4,146.7 L293.6,147.8 L293.8,149.0 L292.7,148.1 L291.6,147.3 L290.2,146.6 L288.9,146.0 L287.9,145.9 L286.9,145.8 L285.7,145.8 L284.4,145.7 L284.3,144.2 L284.1,142.7 L284.0,141.2 L283.8,139.7 L282.7,139.6 L281.7,139.6 L280.6,139.5 L279.5,139.7 L278.4,139.9 L277.4,140.0 L276.8,138.8 L276.1,137.5 L274.8,137.6 L273.4,137.6 L272.0,137.7 L270.7,137.8 M284.4,145.7 L285.6,147.1 L286.9,148.5 L286.1,149.8 L285.3,151.0 L284.6,152.3 L283.8,153.6 L284.7,155.0 L285.5,156.4 L284.4,156.6 L283.4,156.8 L282.3,157.0 L282.3,158.4 L282.2,159.8 L282.2,161.2 L282.1,162.5 L280.8,162.8 L280.7,164.3 L280.7,165.8 L280.6,167.3 L280.6,168.7 L280.6,170.2 L280.5,171.6 L280.5,173.1 L279.3,173.1 L278.0,173.2 L276.8,173.2 L275.5,173.2 M269.8,155.4 L271.0,155.4 L272.1,155.4 L273.5,155.4 L274.8,155.4 L276.1,155.4 L277.5,155.4 L278.8,155.4 L280.0,156.0 L281.2,156.5 L282.5,157.0 M280.8,167.3 L281.9,167.7 L283.0,168.1 L284.1,168.5 L285.2,168.5 L286.2,168.4 L287.3,168.4 L288.3,168.4 L289.4,166.9 L290.4,165.5 L291.5,164.7 L292.6,163.8 L293.8,163.0 L295.0,163.1 L296.2,163.2 L296.5,164.3 L296.8,165.5 L297.1,166.6 L297.5,167.9 L297.8,169.2 L298.1,170.6 M290.4,165.5 L289.9,164.4 L289.4,163.3 L288.9,162.2 L289.0,161.0 L289.1,159.7 L289.2,158.4 L289.3,157.2 L288.4,156.2 L287.4,156.3 L286.5,156.3 L285.5,156.4 M288.4,156.2 L289.6,156.3 L290.8,156.4 L292.1,154.9 L293.5,153.4 L294.5,153.1 L295.6,152.8 L296.7,153.3 L297.9,153.9 L299.0,154.5 L298.8,156.0 L298.6,157.6 L298.5,159.1 L298.3,160.6 L297.3,161.9 L296.2,163.2 M295.6,152.8 L295.4,151.5 L296.4,151.2 L297.5,150.9 L298.5,150.6 L299.6,150.2 L299.5,149.1 L299.4,148.0 L299.7,146.5 L300.1,144.9 L300.5,143.3 L299.4,143.0 L298.4,142.4 L297.4,141.8 L296.3,141.3 M299.6,150.2 L300.5,150.7 L301.3,151.2 L301.7,152.5 L302.0,153.8 L302.3,155.1 L302.5,153.8 L302.8,152.4 L303.0,151.0 L302.6,149.5 L302.2,147.9 L301.8,146.3 L301.6,144.9 L301.3,143.5 M303.0,151.0 L304.0,149.8 L305.1,148.5 L306.1,147.3 L307.1,146.0 L308.5,145.3 L309.9,144.6 M300.5,143.3 L301.3,143.5 L301.5,144.9 L301.7,146.3 M294.9,130.2 L296.1,129.9 L297.3,129.9 L298.5,129.9 L299.7,129.8 L301.0,129.8 L302.3,130.8 L303.6,131.9 L304.9,133.0 L306.2,134.0 L307.3,134.8 L308.3,135.6 M301.0,129.8 L301.0,128.9 L301.0,128.0 L301.7,126.6 L302.5,125.2 L302.0,124.0 L301.5,122.8 L301.0,121.6 M296.6,122.7 L297.7,122.5 L298.8,122.4 L299.8,122.2 L300.9,122.1 L301.8,121.0 L302.7,119.9 L301.9,120.7 L301.0,121.6 L302.3,121.1 L303.6,120.6 L304.3,121.0 L305.1,121.3 L305.9,121.9 L306.8,122.5 L307.8,122.7 L308.9,122.8 L309.9,122.4 L310.8,121.9 L312.1,122.1 M312.1,122.1 L311.9,123.6 L311.6,125.1 L311.4,126.6 L311.2,128.1 L310.9,129.6 L311.7,130.9 M312.1,122.1 L313.4,121.3 L314.6,120.5 L315.5,120.4 L316.4,120.3 L317.7,118.8 L319.0,117.2 L320.2,115.6 L320.5,115.6 L319.1,115.2 L317.7,114.8 L316.3,114.4 L314.9,114.0 L314.1,112.8 L313.4,111.7 M291.8,120.0 L291.5,119.4 L290.5,118.2 L289.4,117.0 L288.6,116.2 L287.8,115.3 L286.8,114.7 L286.3,113.6 L286.0,112.5 L285.7,111.3 L285.4,110.2 M286.8,114.7 L288.0,114.1 L289.2,113.6 L290.4,113.1 L291.7,113.1 L293.0,113.1 L294.2,113.1 L295.3,112.0 L296.3,112.4 L297.3,112.8 L297.9,111.5 L298.5,110.2 L299.1,109.0 L299.4,110.2 L299.7,111.3 L301.1,111.5 L301.6,112.7 L302.0,113.9 L300.9,114.5 L300.4,116.1 L301.4,117.0 L302.4,118.0 L302.8,119.5 M301.1,111.5 L301.9,110.2 L302.6,108.8 L303.0,107.5 L303.4,106.2 L303.8,104.9 L305.2,105.7 L306.1,105.5 L306.9,105.4 L307.9,105.4 L309.0,105.4 L309.8,105.9 L310.7,106.5 L311.5,107.5 L312.3,108.5 L312.0,109.6 L311.7,110.7 L313.1,111.0 M304.1,93.6 L304.4,94.9 L304.8,96.2 L305.1,97.5 L305.5,98.8 L305.8,100.2 L305.1,101.3 L304.4,102.5 L304.2,104.0 L304.0,105.5 M257.3,60.6 L256.3,60.9 L255.3,61.2 L254.2,61.0 L253.1,60.9 L252.2,60.4 L251.2,59.9 M242.1,62.1 L243.1,62.2 L244.1,62.2 L245.1,62.3 L244.6,63.7 L244.5,64.8 L244.5,65.9 L244.2,67.1 L243.9,68.4 L243.8,69.6 M256.6,48.1 L257.7,49.0 L258.7,49.9 L259.6,50.2 L260.6,50.5 L261.1,50.5 L262.3,50.9 L263.5,51.3 L263.2,52.4 L262.9,53.4 L262.0,53.6 L261.5,54.5 L261.0,55.4 L262.0,56.1 L261.9,57.3 L262.4,58.3 L263.0,59.3 M262.9,53.4 L264.1,53.5 L265.4,53.6 L266.5,54.5 L267.5,54.0 L268.6,53.4 L269.6,53.6 L269.4,52.6 L269.3,51.6 L270.4,51.8 L271.5,51.9 L272.4,51.9 L273.3,51.9 L274.2,51.9 L274.7,52.8 L274.2,53.7 L273.7,54.5 M262.0,56.1 L263.0,55.7 L264.0,55.4 L264.7,56.2 L265.6,55.7 L266.6,55.1 L267.7,54.7 L268.9,54.4 L269.7,54.7 L270.5,55.1 L270.6,56.5 M260.6,44.6 L261.3,44.8 L262.0,44.9 L261.5,46.2 L261.0,47.5 L260.6,48.5 L260.9,49.6 L261.1,50.5 M258.7,47.6 L259.5,47.5 L260.2,47.5 L261.0,47.5 M263.7,42.4 L264.4,42.4 L265.2,42.4 M270.3,43.9 L270.6,44.8 L270.9,45.8 L271.1,47.0 L271.2,48.2 L270.2,48.8 L269.1,49.3 L268.2,49.3 L269.4,50.8 L270.7,51.6 M271.2,48.2 L272.4,48.9 L273.6,49.5 L274.6,49.8 L275.5,50.2 L276.4,50.5 L277.6,50.7 L278.8,50.8 L280.0,51.0 L281.1,51.1 L281.8,50.0 L282.5,48.9 L282.1,47.8 L281.6,46.7 L281.7,45.3 L281.7,43.9 L281.2,43.4 L280.3,43.1 L279.3,43.1 L278.4,43.1 L277.5,43.1 L276.5,43.1 M274.2,51.9 L275.3,51.2 L276.4,50.5 M281.1,51.1 L280.6,52.2 L279.7,52.1 L278.7,52.1 L277.7,52.5 L276.7,53.0 L275.7,52.9 L274.7,52.8 M273.7,54.5 L275.1,56.1 L276.1,56.1 L277.1,56.1 L277.9,55.9 L278.8,55.6 L279.6,55.4 L280.0,54.4 L280.3,53.3 L280.6,52.2 M280.6,52.2 L281.8,52.5 L283.0,52.8 L284.2,53.1 L285.2,52.8 L286.2,52.5 L287.4,54.0 L288.6,55.4 L288.8,56.7 L289.7,56.8 L290.5,56.8 M279.6,55.4 L280.8,56.8 L281.9,58.1 L282.1,58.7 L283.0,58.8 L283.8,59.0 L284.8,59.0 L285.9,59.0 L286.9,59.0 L288.0,59.0 L288.8,59.2 L289.7,59.5 M282.1,58.7 L282.7,60.2 L282.0,61.6 L282.8,63.2 L283.9,63.2 L284.9,63.2 L285.9,63.2 L286.9,63.2 L287.5,62.7 L288.4,62.4 L289.2,62.1 M270.6,56.7 L271.7,56.4 L272.9,56.2 L274.0,56.1 L275.1,56.1 L276.2,56.8 L277.4,57.6 L278.2,59.0 L279.1,59.6 L279.9,60.2 L281.0,60.9 L282.0,61.6 M278.3,62.3 L279.0,62.0 L279.6,61.8 L279.8,62.7 L280.1,63.5 L280.6,64.8 L281.6,64.9 L282.2,64.1 L282.8,63.2 M286.9,63.2 L287.5,62.7 M281.2,43.4 L281.4,42.4 L281.6,41.3 L281.8,40.3 L282.7,40.6 L283.5,40.9 L284.4,41.2 L285.3,40.8 L286.1,40.5 L285.3,39.0 L284.9,37.9 L284.5,36.8 L285.0,35.6 M277.8,40.6 L278.5,40.4 L279.1,40.2 L280.2,40.3 L281.3,40.4 L282.4,40.5 L283.4,40.8 L284.4,41.2 M281.2,38.0 L281.9,38.0 L282.7,38.0 L283.8,38.2 L284.8,38.5 M281.7,43.9 L281.7,45.3 L281.6,46.7 L282.1,47.8 L282.5,48.9 L283.5,48.5 L284.5,48.1 L285.5,47.7 L286.5,47.3 L287.6,47.4 L288.7,47.5 L289.8,47.6 L290.7,47.1 L291.5,46.6 L292.7,46.4 L293.9,46.3 L295.0,47.6 L296.2,48.9 L297.3,49.1 L298.3,49.4 L299.4,49.7 L300.4,49.9 L301.3,50.1 L302.2,50.4 L302.5,51.4 L302.8,52.5 L302.4,53.4 L301.9,54.2 M286.1,40.5 L287.2,41.7 L288.3,42.9 L289.4,44.1 L290.5,45.3 L291.5,46.6 M267.6,41.6 L268.0,40.3 M265.9,36.5 L266.6,35.6 L267.2,34.8 L267.2,33.6 L267.2,32.5 L266.9,31.4 L266.5,30.3 L267.5,29.4 L268.5,28.5 L268.6,27.3 L269.4,26.1 L270.1,24.9 L270.8,23.7 L271.4,23.3 L271.9,22.9 L272.9,22.6 L273.8,22.3 L274.8,21.9 L275.6,22.3 L276.5,22.8 L277.2,23.3 L277.9,23.9 L278.1,25.2 L278.2,26.5 L278.9,26.5 L279.5,26.6 M274.4,22.3 L275.4,22.5 L276.4,22.7 L277.2,22.4 L278.0,22.1 L278.8,21.8 L279.5,21.5 L280.1,21.3 L280.7,21.1 L281.4,21.2 L282.1,21.3 L283.4,22.1 L282.9,22.4 M282.9,22.4 L282.8,23.5 L283.6,23.8 L284.5,24.1 L283.8,25.2 L284.5,26.0 L285.2,26.9 L284.9,28.0 L286.1,28.9 L286.3,29.9 L287.0,30.3 L287.7,30.8 L286.9,31.6 L286.1,32.4 L285.3,33.2 L284.4,34.0 M300.9,70.4 L301.8,70.3 L302.7,70.2 L303.5,70.1 L304.6,70.0 L305.7,69.9 L306.7,69.8 L307.8,69.7 L308.8,69.6 L310.1,69.8 L311.5,69.9 L312.1,69.6 L311.1,68.2 L310.9,67.2 L310.8,66.2 L309.7,64.8 L309.6,63.5 L308.7,63.1 L307.7,62.7 L306.6,62.9 M307.7,62.7 L308.6,63.1 L309.4,63.5 L310.3,63.4 L311.2,63.4 L312.2,63.4 L313.2,63.5 L313.1,62.4 L312.5,62.3 L311.4,61.3 L310.1,61.0 L309.3,61.1 L308.5,61.2 L307.3,60.6 L306.2,60.1 L305.2,60.0 L304.2,59.9 M313.2,63.5 L314.0,63.1 L314.8,62.8 L315.6,62.4 M311.4,65.7 L312.6,66.4 L313.9,67.1 L314.8,67.1 L315.8,67.1 L317.1,67.9 M311.5,69.9 L312.1,69.6 L312.6,70.6 L313.2,71.7 L314.3,72.9 L314.0,73.8 L313.7,74.7 L314.8,76.2 L315.7,76.6 L316.5,77.0 L317.4,78.3 L317.6,79.2 L317.9,80.2 L318.7,81.1 M308.8,69.6 L307.7,70.9 L307.7,72.5 L307.7,74.0 L306.8,74.6 L305.9,75.1 L305.0,75.6 L305.4,76.5 L305.8,77.5 L306.6,77.7 L307.5,78.0 L308.6,78.6 L309.7,79.2 L311.1,80.2 L312.4,81.2 L313.7,82.2 L315.0,82.3 L316.3,82.4 L317.5,82.5 L318.8,83.2 M300.9,76.7 L301.6,77.0 L302.8,76.5 L303.9,76.1 L305.0,75.6 M301.6,77.0 L302.9,77.3 L304.2,77.5 L305.6,77.8 L304.3,78.2 L303.0,78.6 L304.5,80.2 L304.1,80.5 L302.8,81.1 L302.1,82.2 L301.3,82.0 L300.5,81.7 M300.6,74.8 L301.3,74.6 L302.0,74.3 L301.5,73.1 L301.0,71.8 M300.2,76.1 L300.8,75.8 L300.9,76.7 L300.9,78.1 L300.8,78.6 L300.7,80.2 L300.5,81.7 M329.0,92.5 L329.8,93.6 L329.5,95.1 L329.1,96.7 L327.8,97.2 L326.5,97.8 L325.1,98.3 L325.0,98.4 L323.7,98.6 L322.5,98.8 L321.2,98.9 L320.0,99.5 L319.2,100.5 L318.5,101.4 L317.6,101.1 L316.5,101.0 L315.5,100.9 L314.4,100.8 L313.4,100.5 L313.1,101.4 M323.9,90.1 L324.3,91.0 L324.6,92.0 L325.7,92.1 L326.8,92.2 L327.9,92.3 L329.0,92.5 L329.3,91.2 L329.6,89.9 L330.3,89.0 M325.1,98.3 L325.7,99.5 L326.3,100.7 L326.9,101.9 M318.8,81.1 L318.8,82.1 L318.8,83.2 M317.1,67.9 L317.1,67.7 M324.0,69.6 L324.9,69.0 L325.8,68.4 L326.9,68.2 L328.1,68.1 L329.5,68.7 L330.8,69.3 L331.8,70.0 L332.7,70.7 L333.6,70.7 L334.0,72.0 L333.9,73.6 L333.8,75.1 L334.4,75.4 L334.3,76.5 L334.2,77.5 L334.9,78.6 L336.0,78.8 L336.4,79.9 L335.4,81.3 L336.2,82.1 L337.1,82.8 L337.9,83.6 L338.3,84.5 L338.6,85.4 L339.2,86.0 L338.3,86.7 L337.4,87.4 L337.3,88.7 M334.0,72.0 L335.5,72.6 L336.3,71.7 L337.3,71.4 L338.2,71.0 L339.3,70.2 L340.4,69.3 L341.3,69.5 L342.2,69.8 L342.9,69.5 L343.9,69.2 L345.0,69.0 L345.8,68.8 L346.7,68.5 L346.8,69.9 L347.6,69.9 L348.5,69.8 L349.4,70.0 L350.4,70.3 L351.1,70.0 L351.9,69.8 M335.4,81.3 L336.5,81.7 L337.7,82.1 L338.9,81.8 L340.2,81.6 L341.4,81.3 L342.6,81.1 L343.4,80.0 L344.1,78.9 L345.1,78.4 L346.0,78.0 L346.7,77.0 L347.4,76.1 L346.1,74.7 L346.8,74.1 L347.5,73.6 L347.9,72.8 L347.2,71.4 L347.8,70.6 L348.5,69.8 M342.6,81.1 L342.9,82.5 L343.2,83.9 L343.5,85.4 L343.8,86.8 L344.0,88.2 M351.0,69.9 L352.0,70.2 L353.0,70.4 L354.5,71.4 L356.0,72.3 L356.9,73.2 L357.9,74.2 L358.1,75.4 L359.5,76.4 L359.2,77.5 L358.7,78.6 L360.0,79.3 L361.2,80.0 L362.4,80.6 L362.9,80.3 L364.3,81.0 L365.6,81.7 L367.1,82.8 L368.4,83.6 L369.8,84.3 L370.8,84.3 L371.7,84.3 L372.6,84.3 L373.4,83.9 L374.7,83.9 L376.1,83.9 L377.6,84.4 L378.6,84.3 L379.4,83.5 L380.2,82.8 L380.9,82.1 L381.9,81.9 L382.9,81.7 L383.9,82.7 L384.9,83.6 L385.2,84.3 L386.4,84.6 L387.0,86.0 L387.7,87.4 L387.2,88.3 L386.6,89.1 L386.8,90.6 L387.8,91.2 L388.7,91.8 L389.8,93.4 L391.2,94.2 L392.3,94.5 L392.9,92.9 L393.4,92.8 L394.7,92.3 L395.6,92.0 L396.5,91.7 L397.4,91.3 L398.5,91.8 L399.5,92.3 L399.6,93.6 L400.6,93.9 L401.6,94.2 M351.0,69.9 L351.0,71.0 L351.1,72.1 L351.1,73.2 L351.5,73.6 L353.0,75.0 L354.4,76.4 L353.5,76.5 L352.7,76.5 L352.8,77.4 L352.9,78.3 L352.6,79.7 L352.3,81.1 L351.5,82.7 L350.6,84.3 L349.5,84.3 L348.4,84.3 L348.1,85.1 L347.8,86.0 L348.4,86.9 L349.0,87.7 L349.9,88.5 L350.3,89.8 L349.3,89.8 L348.4,89.9 L347.4,89.9 L346.7,90.9 M362.4,80.6 L362.0,81.7 L361.6,82.8 L363.0,83.6 L364.4,84.3 L365.4,84.7 L366.3,85.1 L367.8,85.6 L369.2,86.2 L370.5,86.3 L371.8,86.5 L373.1,86.6 L372.9,85.4 L372.6,84.3 M373.9,85.5 L375.2,86.2 L376.2,86.1 L377.3,86.0 L378.3,86.0 L378.2,84.9 L377.6,84.4 M373.1,86.6 L374.0,86.8 L374.9,86.9 L374.7,88.5 L374.4,90.1 L374.7,91.2 L375.0,92.3 M374.9,86.9 L376.2,87.5 L377.5,88.1 L378.8,88.7 L379.6,90.2 L379.6,91.2 L379.5,92.1 L380.1,93.4 L380.7,94.7 L380.3,95.6 M378.8,88.7 L379.8,88.9 L380.9,89.1 L381.9,89.3 L382.4,88.5 L382.8,87.4 L383.1,86.3 L384.1,85.2 L385.2,84.3 M381.9,89.3 L381.6,90.6 L381.2,91.8 L381.1,92.7 L380.9,93.6 M386.8,90.6 L387.8,91.2 L388.7,91.8 M392.3,94.5 L391.7,95.3 L391.1,96.1 L391.7,96.5 L392.9,97.5 L392.2,98.4 L391.5,99.4 L393.1,100.6 L394.1,100.3 L395.1,100.0 L396.2,100.8 L397.2,101.6 L398.3,102.4 L399.7,103.6 L399.8,104.6 L399.8,105.5 L398.8,105.6 L397.7,105.6 L396.7,105.7 L395.6,107.1 L395.9,108.0 L396.2,109.0 M388.6,101.7 L389.8,102.5 L389.9,101.4 L390.0,100.3 L389.3,99.5 L388.5,98.6 L388.3,97.6 L388.0,96.7 L389.0,96.5 L390.0,96.3 L391.1,96.1 M398.9,111.7 L400.0,110.6 L401.1,109.6 L402.0,109.2 L403.0,108.8 L402.8,107.3 L402.7,105.8 L401.2,105.2 L399.7,103.6 M402.7,105.8 L402.6,104.3 L401.6,103.2 L400.6,102.1 L399.5,100.5 L398.4,98.9 L397.5,98.4 L396.5,97.8 L396.6,96.7 L396.6,95.6 L395.5,94.8 L394.3,94.0 L393.4,92.8 M393.8,118.0 L394.8,119.2 L395.8,119.1 L396.2,118.4 M355.3,61.3 L355.0,60.0 L354.6,58.7 L354.3,57.4 L355.2,57.4 L356.1,57.3 L357.1,57.3 L356.4,55.7 L355.8,54.2 L356.9,54.3 L358.0,54.3 L359.1,54.4 L358.9,53.3 L358.8,52.2 L359.5,51.6 L360.3,51.0 M360.3,51.0 L359.1,50.1 L358.3,50.1 L357.5,50.1 L356.4,49.5 L355.3,48.9 L354.1,48.2 L353.2,48.3 L352.3,48.4 L351.4,48.5 L350.7,48.5 L350.0,48.4 L348.5,47.2 L347.1,46.0 L345.7,44.8 L344.6,44.1 L343.5,43.4 L342.7,43.7 L341.9,43.9 L341.2,44.2 L340.4,44.5 L340.1,43.7 L339.2,43.7 L338.3,43.6 L337.4,43.6 L336.8,42.8 L336.2,41.9 L335.1,41.8 L334.0,41.6 L333.2,41.9 L332.3,42.2 L331.4,42.5 L330.6,42.8 L329.6,43.0 L328.6,43.2 L327.7,43.4 L326.7,43.5 L325.8,43.7 L325.8,44.5 L325.8,45.4 L326.6,46.7 L327.5,47.9 L326.7,48.2 L325.9,48.5 L324.8,48.3 L323.7,48.1 L322.8,48.2 L322.0,48.2 L321.5,48.5 L320.9,48.9 L320.1,48.5 L319.2,48.2 L318.4,47.9 L317.6,47.5 L316.5,47.4 L315.5,47.3 L314.5,47.2 L313.7,47.7 L313.0,48.2 L312.3,48.7 L312.6,49.9 L311.8,49.5 L311.0,49.0 L310.7,49.8 L310.5,50.7 L311.1,52.1 L311.6,53.3 L312.8,54.1 L313.9,55.0 L314.6,55.3 M360.3,51.0 L361.1,50.3 L362.0,49.7 L362.8,49.0 L363.9,48.8 L364.9,48.5 L366.2,49.0 L367.4,49.4 L368.7,49.8 L369.8,49.9 L370.9,50.1 L372.0,50.2 L372.5,49.2 L371.6,48.2 L371.9,46.7 L373.0,47.0 L374.2,47.3 L375.3,47.5 L376.4,47.8 L377.4,49.0 L378.5,49.1 L379.7,49.1 L380.8,49.2 L382.0,49.2 L383.1,49.3 L384.5,50.1 L386.0,50.8 L386.9,50.9 L387.9,51.0 L388.8,51.1 L389.7,50.7 L390.6,50.3 L391.5,49.9 L392.3,49.5 L393.2,49.8 L394.0,50.1 L394.7,50.0 L395.4,49.9 M360.3,51.0 L361.9,51.9 L363.6,52.8 L364.9,53.7 L366.1,54.5 L366.9,56.0 L367.7,57.4 L368.7,57.5 L369.8,57.6 L370.9,57.6 L372.3,58.1 L373.6,58.7 L374.8,59.9 L376.0,61.0 L377.1,61.0 L378.2,61.0 L379.4,61.0 L380.5,61.0 L381.7,61.0 L382.9,61.4 L384.1,61.7 L385.4,62.0 L386.6,62.4 L387.8,62.7 L388.7,62.3 L389.5,61.8 L390.4,61.3 L391.5,61.1 L392.6,60.9 L393.7,60.7 L394.3,60.1 L394.9,59.5 L393.8,58.4 L394.5,58.2 L395.3,58.0 L396.1,57.8 L397.0,57.4 L398.0,57.0 L399.0,56.7 L399.1,55.7 L399.3,54.8 L400.3,54.9 L401.4,55.0 L402.4,55.1 L401.4,54.1 L400.3,53.0 L398.7,52.0 L397.0,50.9 L395.4,49.9 M395.4,49.9 L396.3,50.2 L397.3,50.5 L398.0,49.9 L398.6,49.3 L398.3,48.3 L397.9,47.3 L398.0,46.4 L398.1,45.4 L398.2,44.5 L399.5,44.6 L400.7,44.8 L401.9,44.9 L403.7,46.2 L405.6,47.4 L407.4,48.7 L408.9,50.1 L410.1,50.4 L411.4,50.7 L412.5,51.2 L413.6,51.8 L415.2,52.4 L416.9,53.1 L417.6,52.9 L418.3,52.6 L419.1,52.4 L419.5,53.5 L420.0,54.6 L420.4,55.7 L420.3,56.6 L420.2,57.4 L419.7,58.1 L419.1,58.8 L419.5,59.8 L419.9,60.7 L419.9,61.5 M355.3,61.3 L354.3,62.0 L353.3,62.7 L352.2,63.3 L351.2,64.0 L350.4,64.3 L349.6,64.8 L348.8,65.4 L349.0,66.5 L349.3,67.6 L350.6,68.7 L351.9,69.8 M355.3,61.3 L354.0,60.7 L352.9,60.7 L351.8,60.8 L350.7,60.8 L349.6,60.9 L348.6,60.5 L347.5,60.1 L346.7,60.4 L345.8,60.7 L344.9,60.9 L344.0,61.0 L343.3,62.0 L344.0,63.0 L344.6,64.0 L343.6,64.1 L342.6,64.1 L343.6,64.8 L344.6,65.4 L345.7,65.5 L346.7,65.7 L347.8,65.9 L348.8,66.0 M344.0,61.0 L343.3,61.7 L342.6,62.4 L341.9,63.0 L340.7,62.8 L339.6,62.5 L338.4,62.3 L337.9,61.4 L337.3,60.6 L336.4,60.0 L335.6,59.5 L334.4,59.6 L333.2,59.7 L332.0,59.8 L330.3,58.4 L329.1,57.8 L327.9,57.1 L326.6,56.5 L325.7,56.8 L324.7,57.1 L323.8,57.4 L324.1,58.9 L324.5,60.3 L324.8,61.8 L325.1,63.2 L325.9,63.2 L326.7,63.2 L326.1,62.1 L327.1,61.5 L328.0,60.9 L329.0,61.3 L330.0,61.8 L330.5,63.0 L331.7,63.3 L332.9,63.5 L334.0,65.1 L335.4,65.9 L336.7,66.8 L337.9,67.3 L339.0,67.8 L340.1,68.4 L340.4,69.3 M344.6,64.0 L345.8,63.9 L347.0,63.8 L347.9,64.9 L348.8,66.0 M342.9,69.5 L342.3,68.1 L341.7,66.8 L342.7,66.5 L343.7,66.2 L344.6,65.9 L345.6,66.1 L346.5,66.3 L347.6,66.2 L348.8,66.0 M323.8,57.4 L322.5,57.3 L321.2,57.1 L319.9,57.0 M418.7,61.5 L417.8,61.8 L416.9,62.1 L416.3,62.3 L415.7,62.4 L415.1,63.4 L414.5,64.3 L413.9,65.2 L414.7,65.2 M415.9,68.2 L417.0,68.4 L418.1,68.7 L418.9,68.3 L419.8,67.9 L420.3,67.4" fill="none" stroke="#fbfbfc" stroke-opacity="0.8" stroke-width="0.45" stroke-linejoin="round"/>
<circle cx="237.1" cy="114.8" r="10.1" fill="#000" stroke="#a8a8a8" stroke-opacity="0.75" stroke-width="0.45"/><circle cx="367.1" cy="83.1" r="4.9" fill="#2e2e2e" stroke="#a8a8a8" stroke-opacity="0.75" stroke-width="0.45"/><circle cx="376.9" cy="90.5" r="4.9" fill="#2e2e2e" stroke="#a8a8a8" stroke-opacity="0.75" stroke-width="0.45"/><circle cx="386.3" cy="95.3" r="6.6" fill="#1c1c1c" stroke="#a8a8a8" stroke-opacity="0.75" stroke-width="0.45"/><circle cx="417.6" cy="131.3" r="8.4" fill="#0a0a0a" stroke="#a8a8a8" stroke-opacity="0.75" stroke-width="0.45"/><circle cx="389.2" cy="71.3" r="8.3" fill="#0a0a0a" stroke="#a8a8a8" stroke-opacity="0.75" stroke-width="0.45"/><circle cx="361.8" cy="92.4" r="8.05" fill="#0a0a0a" stroke="#a8a8a8" stroke-opacity="0.75" stroke-width="0.45"/><circle cx="128.6" cy="103.3" r="6.6" fill="#1c1c1c" stroke="#a8a8a8" stroke-opacity="0.75" stroke-width="0.45"/><circle cx="309.0" cy="114.5" r="6.1" fill="#1c1c1c" stroke="#a8a8a8" stroke-opacity="0.75" stroke-width="0.45"/><circle cx="286.6" cy="132.7" r="6.0" fill="#1c1c1c" stroke="#a8a8a8" stroke-opacity="0.75" stroke-width="0.45"/><circle cx="298.8" cy="126.0" r="5.9" fill="#1c1c1c" stroke="#a8a8a8" stroke-opacity="0.75" stroke-width="0.45"/><circle cx="271.4" cy="119.3" r="5.3" fill="#2e2e2e" stroke="#a8a8a8" stroke-opacity="0.75" stroke-width="0.45"/><circle cx="341.3" cy="74.8" r="5.2" fill="#2e2e2e" stroke="#a8a8a8" stroke-opacity="0.75" stroke-width="0.45"/><circle cx="424.7" cy="109.7" r="5.2" fill="#2e2e2e" stroke="#a8a8a8" stroke-opacity="0.75" stroke-width="0.45"/><circle cx="161.5" cy="116.8" r="4.8" fill="#2e2e2e" stroke="#a8a8a8" stroke-opacity="0.75" stroke-width="0.45"/><circle cx="130.0" cy="106.5" r="4.1" fill="#383838" stroke="#a8a8a8" stroke-opacity="0.75" stroke-width="0.45"/><circle cx="179.7" cy="145.2" r="3.95" fill="#383838" stroke="#a8a8a8" stroke-opacity="0.75" stroke-width="0.45"/><circle cx="349.2" cy="62.6" r="3.95" fill="#383838" stroke="#a8a8a8" stroke-opacity="0.75" stroke-width="0.45"/><circle cx="150.0" cy="142.6" r="3.9" fill="#383838" stroke="#a8a8a8" stroke-opacity="0.75" stroke-width="0.45"/><circle cx="407.0" cy="122.3" r="3.8" fill="#383838" stroke="#a8a8a8" stroke-opacity="0.75" stroke-width="0.45"/><circle cx="143.2" cy="130.6" r="3.7" fill="#383838" stroke="#a8a8a8" stroke-opacity="0.75" stroke-width="0.45"/><circle cx="456.4" cy="138.4" r="3.7" fill="#383838" stroke="#a8a8a8" stroke-opacity="0.75" stroke-width="0.45"/><circle cx="279.5" cy="104.0" r="3.65" fill="#383838" stroke="#a8a8a8" stroke-opacity="0.75" stroke-width="0.45"/><circle cx="118.1" cy="59.2" r="2.9" fill="#424242" stroke="#a8a8a8" stroke-opacity="0.75" stroke-width="0.45"/><circle cx="113.8" cy="90.6" r="2.9" fill="#424242" stroke="#a8a8a8" stroke-opacity="0.75" stroke-width="0.45"/><circle cx="295.7" cy="129.6" r="3.0" fill="#424242" stroke="#a8a8a8" stroke-opacity="0.75" stroke-width="0.45"/><circle cx="433.4" cy="69.2" r="2.9" fill="#424242" stroke="#a8a8a8" stroke-opacity="0.75" stroke-width="0.45"/><circle cx="269.2" cy="61.1" r="2.85" fill="#424242" stroke="#a8a8a8" stroke-opacity="0.75" stroke-width="0.45"/><circle cx="299.2" cy="66.6" r="2.85" fill="#424242" stroke="#a8a8a8" stroke-opacity="0.75" stroke-width="0.45"/><circle cx="268.0" cy="29.2" r="2.8" fill="#424242" stroke="#a8a8a8" stroke-opacity="0.75" stroke-width="0.45"/><circle cx="295.1" cy="133.3" r="3.6" fill="#383838" stroke="#a8a8a8" stroke-opacity="0.75" stroke-width="0.45"/><circle cx="318.1" cy="158.7" r="2.8" fill="#424242" stroke="#a8a8a8" stroke-opacity="0.75" stroke-width="0.45"/><circle cx="346.1" cy="67.3" r="2.8" fill="#424242" stroke="#a8a8a8" stroke-opacity="0.75" stroke-width="0.45"/><circle cx="153.5" cy="98.4" r="2.7" fill="#424242" stroke="#a8a8a8" stroke-opacity="0.75" stroke-width="0.45"/><circle cx="164.2" cy="154.5" r="2.7" fill="#424242" stroke="#a8a8a8" stroke-opacity="0.75" stroke-width="0.45"/><circle cx="161.4" cy="186.4" r="2.7" fill="#424242" stroke="#a8a8a8" stroke-opacity="0.75" stroke-width="0.45"/><circle cx="309.2" cy="61.9" r="2.7" fill="#424242" stroke="#a8a8a8" stroke-opacity="0.75" stroke-width="0.45"/><circle cx="244.9" cy="77.6" r="2.7" fill="#424242" stroke="#a8a8a8" stroke-opacity="0.75" stroke-width="0.45"/><circle cx="302.1" cy="137.9" r="5.0" fill="#2e2e2e" stroke="#a8a8a8" stroke-opacity="0.75" stroke-width="0.45"/><circle cx="346.9" cy="81.1" r="2.7" fill="#424242" stroke="#a8a8a8" stroke-opacity="0.75" stroke-width="0.45"/><circle cx="400.6" cy="101.8" r="2.7" fill="#424242" stroke="#a8a8a8" stroke-opacity="0.75" stroke-width="0.45"/><circle cx="306.5" cy="127.2" r="4.1" fill="#383838" stroke="#a8a8a8" stroke-opacity="0.75" stroke-width="0.45"/><circle cx="302.4" cy="155.3" r="2.6" fill="#424242" stroke="#a8a8a8" stroke-opacity="0.75" stroke-width="0.45"/><circle cx="319.5" cy="103.6" r="2.4" fill="#424242" stroke="#a8a8a8" stroke-opacity="0.75" stroke-width="0.45"/><circle cx="334.5" cy="62.4" r="1.6" fill="#474747" stroke="#a8a8a8" stroke-opacity="0.75" stroke-width="0.45"/><circle cx="359.2" cy="33.6" r="1.5" fill="#474747" stroke="#a8a8a8" stroke-opacity="0.75" stroke-width="0.45"/><circle cx="263.9" cy="54.5" r="1.4" fill="#474747" stroke="#a8a8a8" stroke-opacity="0.75" stroke-width="0.45"/><circle cx="301.4" cy="149.2" r="1.4" fill="#474747" stroke="#a8a8a8" stroke-opacity="0.75" stroke-width="0.45"/><circle cx="151.5" cy="121.8" r="8.4" fill="#0a0a0a" stroke="#a8a8a8" stroke-opacity="0.75" stroke-width="0.45"/>
<path d="M52.3,221.5 L454.7,221.5 M11.6,175.4 L495.4,175.4 M1.5,128.2 L505.5,128.2 M11.6,81.0 L495.4,81.0 M52.3,34.9 L454.7,34.9 M164.1,255.2 L161.6,254.2 L158.9,252.9 L155.8,251.3 L152.6,249.5 L149.1,247.5 L145.6,245.3 L142.1,242.9 L138.8,240.4 L135.7,237.9 L132.8,235.3 L130.0,232.7 L127.2,229.9 L124.5,227.2 L121.9,224.4 L119.3,221.5 L116.8,218.6 L114.4,215.6 L112.1,212.7 L109.8,209.7 L107.7,206.6 L105.7,203.6 L103.8,200.5 L102.0,197.4 L100.3,194.3 L98.7,191.2 L97.2,188.0 L95.8,184.9 L94.5,181.7 L93.3,178.6 L92.2,175.4 L91.3,172.3 L90.4,169.1 L89.7,166.0 L89.1,162.8 L88.5,159.7 L87.9,156.5 L87.4,153.4 L87.0,150.2 L86.6,147.1 L86.3,143.9 L86.0,140.8 L85.8,137.6 L85.7,134.5 L85.6,131.3 L85.5,128.2 L85.6,125.1 L85.7,121.9 L85.8,118.8 L86.0,115.6 L86.3,112.5 L86.6,109.3 L87.0,106.2 L87.4,103.0 L87.9,99.9 L88.5,96.7 L89.1,93.6 L89.7,90.4 L90.4,87.3 L91.3,84.1 L92.2,81.0 L93.3,77.8 L94.5,74.7 L95.8,71.5 L97.2,68.4 L98.7,65.2 L100.3,62.1 L102.0,59.0 L103.8,55.9 L105.7,52.8 L107.7,49.8 L109.8,46.7 L112.1,43.7 L114.4,40.8 L116.8,37.8 L119.3,34.9 L121.9,32.0 L124.5,29.2 L127.2,26.5 L130.0,23.7 L132.8,21.1 L135.7,18.5 L138.8,16.0 L142.1,13.5 L145.6,11.1 L149.1,8.9 L152.6,6.9 L155.8,5.1 L158.9,3.5 L161.6,2.2 L164.1,1.2 M208.8,255.2 L207.6,254.2 L206.2,252.9 L204.7,251.3 L203.0,249.5 L201.3,247.5 L199.5,245.3 L197.8,242.9 L196.1,240.4 L194.6,237.9 L193.1,235.3 L191.7,232.7 L190.4,229.9 L189.0,227.2 L187.7,224.4 L186.4,221.5 L185.2,218.6 L184.0,215.6 L182.8,212.7 L181.7,209.7 L180.6,206.6 L179.6,203.6 L178.7,200.5 L177.8,197.4 L176.9,194.3 L176.1,191.2 L175.3,188.0 L174.6,184.9 L174.0,181.7 L173.4,178.6 L172.9,175.4 L172.4,172.3 L172.0,169.1 L171.6,166.0 L171.3,162.8 L171.0,159.7 L170.7,156.5 L170.5,153.4 L170.2,150.2 L170.0,147.1 L169.9,143.9 L169.8,140.8 L169.7,137.6 L169.6,134.5 L169.5,131.3 L169.5,128.2 L169.5,125.1 L169.6,121.9 L169.7,118.8 L169.8,115.6 L169.9,112.5 L170.0,109.3 L170.2,106.2 L170.5,103.0 L170.7,99.9 L171.0,96.7 L171.3,93.6 L171.6,90.4 L172.0,87.3 L172.4,84.1 L172.9,81.0 L173.4,77.8 L174.0,74.7 L174.6,71.5 L175.3,68.4 L176.1,65.2 L176.9,62.1 L177.8,59.0 L178.7,55.9 L179.6,52.8 L180.6,49.8 L181.7,46.7 L182.8,43.7 L184.0,40.8 L185.2,37.8 L186.4,34.9 L187.7,32.0 L189.0,29.2 L190.4,26.5 L191.7,23.7 L193.1,21.1 L194.6,18.5 L196.1,16.0 L197.8,13.5 L199.5,11.1 L201.3,8.9 L203.0,6.9 L204.7,5.1 L206.2,3.5 L207.6,2.2 L208.8,1.2 M253.5,255.2 L253.5,254.2 L253.5,252.9 L253.5,251.3 L253.5,249.5 L253.5,247.5 L253.5,245.3 L253.5,242.9 L253.5,240.4 L253.5,237.9 L253.5,235.3 L253.5,232.7 L253.5,229.9 L253.5,227.2 L253.5,224.4 L253.5,221.5 L253.5,218.6 L253.5,215.6 L253.5,212.7 L253.5,209.7 L253.5,206.6 L253.5,203.6 L253.5,200.5 L253.5,197.4 L253.5,194.3 L253.5,191.2 L253.5,188.0 L253.5,184.9 L253.5,181.7 L253.5,178.6 L253.5,175.4 L253.5,172.3 L253.5,169.1 L253.5,166.0 L253.5,162.8 L253.5,159.7 L253.5,156.5 L253.5,153.4 L253.5,150.2 L253.5,147.1 L253.5,143.9 L253.5,140.8 L253.5,137.6 L253.5,134.5 L253.5,131.3 L253.5,128.2 L253.5,125.1 L253.5,121.9 L253.5,118.8 L253.5,115.6 L253.5,112.5 L253.5,109.3 L253.5,106.2 L253.5,103.0 L253.5,99.9 L253.5,96.7 L253.5,93.6 L253.5,90.4 L253.5,87.3 L253.5,84.1 L253.5,81.0 L253.5,77.8 L253.5,74.7 L253.5,71.5 L253.5,68.4 L253.5,65.2 L253.5,62.1 L253.5,59.0 L253.5,55.9 L253.5,52.8 L253.5,49.8 L253.5,46.7 L253.5,43.7 L253.5,40.8 L253.5,37.8 L253.5,34.9 L253.5,32.0 L253.5,29.2 L253.5,26.5 L253.5,23.7 L253.5,21.1 L253.5,18.5 L253.5,16.0 L253.5,13.5 L253.5,11.1 L253.5,8.9 L253.5,6.9 L253.5,5.1 L253.5,3.5 L253.5,2.2 L253.5,1.2 M298.2,255.2 L299.4,254.2 L300.8,252.9 L302.3,251.3 L304.0,249.5 L305.7,247.5 L307.5,245.3 L309.2,242.9 L310.9,240.4 L312.4,237.9 L313.9,235.3 L315.3,232.7 L316.6,229.9 L318.0,227.2 L319.3,224.4 L320.6,221.5 L321.8,218.6 L323.0,215.6 L324.2,212.7 L325.3,209.7 L326.4,206.6 L327.4,203.6 L328.3,200.5 L329.2,197.4 L330.1,194.3 L330.9,191.2 L331.7,188.0 L332.4,184.9 L333.0,181.7 L333.6,178.6 L334.1,175.4 L334.6,172.3 L335.0,169.1 L335.4,166.0 L335.7,162.8 L336.0,159.7 L336.3,156.5 L336.5,153.4 L336.8,150.2 L337.0,147.1 L337.1,143.9 L337.2,140.8 L337.3,137.6 L337.4,134.5 L337.5,131.3 L337.5,128.2 L337.5,125.1 L337.4,121.9 L337.3,118.8 L337.2,115.6 L337.1,112.5 L337.0,109.3 L336.8,106.2 L336.5,103.0 L336.3,99.9 L336.0,96.7 L335.7,93.6 L335.4,90.4 L335.0,87.3 L334.6,84.1 L334.1,81.0 L333.6,77.8 L333.0,74.7 L332.4,71.5 L331.7,68.4 L330.9,65.2 L330.1,62.1 L329.2,59.0 L328.3,55.9 L327.4,52.8 L326.4,49.8 L325.3,46.7 L324.2,43.7 L323.0,40.8 L321.8,37.8 L320.6,34.9 L319.3,32.0 L318.0,29.2 L316.6,26.5 L315.3,23.7 L313.9,21.1 L312.4,18.5 L310.9,16.0 L309.2,13.5 L307.5,11.1 L305.7,8.9 L304.0,6.9 L302.3,5.1 L300.8,3.5 L299.4,2.2 L298.2,1.2 M342.9,255.2 L345.4,254.2 L348.1,252.9 L351.2,251.3 L354.4,249.5 L357.9,247.5 L361.4,245.3 L364.9,242.9 L368.2,240.4 L371.3,237.9 L374.2,235.3 L377.0,232.7 L379.8,229.9 L382.5,227.2 L385.1,224.4 L387.7,221.5 L390.2,218.6 L392.6,215.6 L394.9,212.7 L397.2,209.7 L399.3,206.6 L401.3,203.6 L403.2,200.5 L405.0,197.4 L406.7,194.3 L408.3,191.2 L409.8,188.0 L411.2,184.9 L412.5,181.7 L413.7,178.6 L414.8,175.4 L415.7,172.3 L416.6,169.1 L417.3,166.0 L417.9,162.8 L418.5,159.7 L419.1,156.5 L419.6,153.4 L420.0,150.2 L420.4,147.1 L420.7,143.9 L421.0,140.8 L421.2,137.6 L421.3,134.5 L421.4,131.3 L421.5,128.2 L421.4,125.1 L421.3,121.9 L421.2,118.8 L421.0,115.6 L420.7,112.5 L420.4,109.3 L420.0,106.2 L419.6,103.0 L419.1,99.9 L418.5,96.7 L417.9,93.6 L417.3,90.4 L416.6,87.3 L415.7,84.1 L414.8,81.0 L413.7,77.8 L412.5,74.7 L411.2,71.5 L409.8,68.4 L408.3,65.2 L406.7,62.1 L405.0,59.0 L403.2,55.9 L401.3,52.8 L399.3,49.8 L397.2,46.7 L394.9,43.7 L392.6,40.8 L390.2,37.8 L387.7,34.9 L385.1,32.0 L382.5,29.2 L379.8,26.5 L377.0,23.7 L374.2,21.1 L371.3,18.5 L368.2,16.0 L364.9,13.5 L361.4,11.1 L357.9,8.9 L354.4,6.9 L351.2,5.1 L348.1,3.5 L345.4,2.2 L342.9,1.2" fill="none" stroke="#fff" stroke-opacity="0.16" stroke-width="0.5"/>
</g>
<path d="M387.6,1.2 L389.4,1.7 L391.3,2.2 L393.3,2.8 L395.5,3.5 L397.7,4.2 L400.0,5.1 L402.4,5.9 L404.9,6.9 L407.5,7.9 L410.1,8.9 L412.7,10.0 L415.4,11.1 L418.0,12.3 L420.6,13.5 L423.1,14.7 L425.6,16.0 L427.9,17.2 L430.2,18.5 L432.4,19.8 L434.6,21.1 L436.7,22.4 L438.8,23.7 L440.9,25.1 L442.9,26.5 L444.9,27.8 L446.9,29.2 L448.9,30.6 L450.9,32.0 L452.8,33.5 L454.7,34.9 L456.6,36.4 L458.5,37.8 L460.3,39.3 L462.1,40.8 L463.9,42.2 L465.7,43.7 L467.4,45.2 L469.0,46.7 L470.6,48.2 L472.2,49.8 L473.7,51.3 L475.2,52.8 L476.6,54.4 L478.0,55.9 L479.3,57.4 L480.7,59.0 L482.0,60.6 L483.3,62.1 L484.5,63.7 L485.7,65.2 L486.9,66.8 L488.0,68.4 L489.1,69.9 L490.1,71.5 L491.1,73.1 L492.0,74.7 L492.9,76.2 L493.8,77.8 L494.6,79.4 L495.4,81.0 L496.2,82.5 L496.9,84.1 L497.5,85.7 L498.1,87.3 L498.7,88.8 L499.2,90.4 L499.7,92.0 L500.2,93.6 L500.6,95.1 L501.0,96.7 L501.4,98.3 L501.8,99.9 L502.2,101.4 L502.6,103.0 L503.0,104.6 L503.3,106.2 L503.6,107.7 L503.9,109.3 L504.1,110.9 L504.3,112.5 L504.5,114.0 L504.7,115.6 L504.9,117.2 L505.0,118.8 L505.1,120.3 L505.3,121.9 L505.3,123.5 L505.4,125.1 L505.5,126.6 L505.5,128.2 L505.5,129.8 L505.4,131.3 L505.3,132.9 L505.3,134.5 L505.1,136.1 L505.0,137.6 L504.9,139.2 L504.7,140.8 L504.5,142.4 L504.3,143.9 L504.1,145.5 L503.9,147.1 L503.6,148.7 L503.3,150.2 L503.0,151.8 L502.6,153.4 L502.2,155.0 L501.8,156.5 L501.4,158.1 L501.0,159.7 L500.6,161.3 L500.2,162.8 L499.7,164.4 L499.2,166.0 L498.7,167.6 L498.1,169.1 L497.5,170.7 L496.9,172.3 L496.2,173.9 L495.4,175.4 L494.6,177.0 L493.8,178.6 L492.9,180.2 L492.0,181.7 L491.1,183.3 L490.1,184.9 L489.1,186.5 L488.0,188.0 L486.9,189.6 L485.7,191.2 L484.5,192.7 L483.3,194.3 L482.0,195.8 L480.7,197.4 L479.3,199.0 L478.0,200.5 L476.6,202.0 L475.2,203.6 L473.7,205.1 L472.2,206.6 L470.6,208.2 L469.0,209.7 L467.4,211.2 L465.7,212.7 L463.9,214.2 L462.1,215.6 L460.3,217.1 L458.5,218.6 L456.6,220.0 L454.7,221.5 L452.8,222.9 L450.9,224.4 L448.9,225.8 L446.9,227.2 L444.9,228.6 L442.9,229.9 L440.9,231.3 L438.8,232.7 L436.7,234.0 L434.6,235.3 L432.4,236.6 L430.2,237.9 L427.9,239.2 L425.6,240.4 L423.1,241.7 L420.6,242.9 L418.0,244.1 L415.4,245.3 L412.7,246.4 L410.1,247.5 L407.5,248.5 L404.9,249.5 L402.4,250.5 L400.0,251.3 L397.7,252.2 L395.5,252.9 L393.3,253.6 L391.3,254.2 L389.4,254.7 L387.6,255.2 L119.4,255.2 L117.6,254.7 L115.7,254.2 L113.7,253.6 L111.5,252.9 L109.3,252.2 L107.0,251.3 L104.6,250.5 L102.1,249.5 L99.5,248.5 L96.9,247.5 L94.3,246.4 L91.6,245.3 L89.0,244.1 L86.4,242.9 L83.9,241.7 L81.4,240.4 L79.1,239.2 L76.8,237.9 L74.6,236.6 L72.4,235.3 L70.3,234.0 L68.2,232.7 L66.1,231.3 L64.1,229.9 L62.1,228.6 L60.1,227.2 L58.1,225.8 L56.1,224.4 L54.2,222.9 L52.3,221.5 L50.4,220.0 L48.5,218.6 L46.7,217.1 L44.9,215.6 L43.1,214.2 L41.3,212.7 L39.6,211.2 L38.0,209.7 L36.4,208.2 L34.8,206.6 L33.3,205.1 L31.8,203.6 L30.4,202.0 L29.0,200.5 L27.7,199.0 L26.3,197.4 L25.0,195.8 L23.7,194.3 L22.5,192.7 L21.3,191.2 L20.1,189.6 L19.0,188.0 L17.9,186.5 L16.9,184.9 L15.9,183.3 L15.0,181.7 L14.1,180.2 L13.2,178.6 L12.4,177.0 L11.6,175.4 L10.8,173.9 L10.1,172.3 L9.5,170.7 L8.9,169.1 L8.3,167.6 L7.8,166.0 L7.3,164.4 L6.8,162.8 L6.4,161.3 L6.0,159.7 L5.6,158.1 L5.2,156.5 L4.8,155.0 L4.4,153.4 L4.0,151.8 L3.7,150.2 L3.4,148.7 L3.1,147.1 L2.9,145.5 L2.7,143.9 L2.5,142.4 L2.3,140.8 L2.1,139.2 L2.0,137.6 L1.9,136.1 L1.7,134.5 L1.7,132.9 L1.6,131.3 L1.5,129.8 L1.5,128.2 L1.5,126.6 L1.6,125.1 L1.7,123.5 L1.7,121.9 L1.9,120.3 L2.0,118.8 L2.1,117.2 L2.3,115.6 L2.5,114.0 L2.7,112.5 L2.9,110.9 L3.1,109.3 L3.4,107.7 L3.7,106.2 L4.0,104.6 L4.4,103.0 L4.8,101.4 L5.2,99.9 L5.6,98.3 L6.0,96.7 L6.4,95.1 L6.8,93.6 L7.3,92.0 L7.8,90.4 L8.3,88.8 L8.9,87.3 L9.5,85.7 L10.1,84.1 L10.8,82.5 L11.6,81.0 L12.4,79.4 L13.2,77.8 L14.1,76.2 L15.0,74.7 L15.9,73.1 L16.9,71.5 L17.9,69.9 L19.0,68.4 L20.1,66.8 L21.3,65.2 L22.5,63.7 L23.7,62.1 L25.0,60.6 L26.3,59.0 L27.7,57.4 L29.0,55.9 L30.4,54.4 L31.8,52.8 L33.3,51.3 L34.8,49.8 L36.4,48.2 L38.0,46.7 L39.6,45.2 L41.3,43.7 L43.1,42.2 L44.9,40.8 L46.7,39.3 L48.5,37.8 L50.4,36.4 L52.3,34.9 L54.2,33.5 L56.1,32.0 L58.1,30.6 L60.1,29.2 L62.1,27.8 L64.1,26.5 L66.1,25.1 L68.2,23.7 L70.3,22.4 L72.4,21.1 L74.6,19.8 L76.8,18.5 L79.1,17.2 L81.4,16.0 L83.9,14.7 L86.4,13.5 L89.0,12.3 L91.6,11.1 L94.3,10.0 L96.9,8.9 L99.5,7.9 L102.1,6.9 L104.6,5.9 L107.0,5.1 L109.3,4.2 L111.5,3.5 L113.7,2.8 L115.7,2.2 L117.6,1.7 L119.4,1.2Z" fill="none" stroke="#222" stroke-width="1.1"/>
<text x="45.6" y="72.9" font-size="8.8" font-weight="bold" fill="#111" stroke="#111" stroke-width="0.25" textLength="31.5" lengthAdjust="spacingAndGlyphs">Deaths</text><rect x="29.9" y="76.2" width="14.3" height="7.2" fill="#e5e8ed"/><text x="49.4" y="82.5" font-size="8" font-weight="bold" fill="#383838" textLength="44.6" lengthAdjust="spacingAndGlyphs">0 or nodata</text><circle cx="37.4" cy="91.4" r="1.3" fill="#4a4a4a"/><text x="49.6" y="93.8" font-size="8.2" font-weight="bold" fill="#383838" textLength="16.8" lengthAdjust="spacingAndGlyphs">1 - 9</text><circle cx="37.1" cy="102.9" r="2.3" fill="#444"/><text x="49.6" y="105.3" font-size="8.2" font-weight="bold" fill="#383838" textLength="26.2" lengthAdjust="spacingAndGlyphs">10 - 29</text><circle cx="37.1" cy="114.5" r="3.5" fill="#3a3a3a"/><text x="49.6" y="117.1" font-size="8.2" font-weight="bold" fill="#383838" textLength="26.2" lengthAdjust="spacingAndGlyphs">30 - 99</text><circle cx="37.1" cy="127.3" r="5.4" fill="#303030"/><text x="49.6" y="130.9" font-size="8.2" font-weight="bold" fill="#383838" textLength="35.6" lengthAdjust="spacingAndGlyphs">100 - 299</text><circle cx="37.8" cy="143.9" r="6.6" fill="#262626"/><text x="49.6" y="148.2" font-size="8.2" font-weight="bold" fill="#383838" textLength="36" lengthAdjust="spacingAndGlyphs">300 - 499</text><circle cx="39.0" cy="164.8" r="8.5" fill="#111"/><text x="49.6" y="170.0" font-size="8.2" font-weight="bold" fill="#383838" textLength="36" lengthAdjust="spacingAndGlyphs">500 - 999</text><circle cx="40.1" cy="192.0" r="10.4" fill="#000"/><text x="49.3" y="198.4" font-size="8.2" font-weight="bold" fill="#383838" textLength="26.6" lengthAdjust="spacingAndGlyphs">> 1000</text>
<g clip-path="url(#clipEurope)"><line x1="551.5" y1="2.3" x2="551.5" y2="109.3" class="grid"/><line x1="581.7" y1="2.3" x2="581.7" y2="109.3" class="grid"/><line x1="611.8" y1="2.3" x2="611.8" y2="109.3" class="grid"/><line x1="642.0" y1="2.3" x2="642.0" y2="109.3" class="grid"/><line x1="672.2" y1="2.3" x2="672.2" y2="109.3" class="grid"/><line x1="536.4" y1="82.6" x2="672.2" y2="82.6" class="grid"/><line x1="536.4" y1="41.6" x2="672.2" y2="41.6" class="grid"/><path d="M536.4,42.4 L538.7,42.7 L541.0,43.0 L543.3,43.3 L545.6,43.7 L547.9,44.1 L550.2,44.6 L552.5,45.1 L554.8,45.6 L557.1,46.2 L559.4,46.7 L561.7,47.3 L564.0,47.9 L566.3,48.5 L568.6,49.1 L570.9,49.7 L573.2,50.3 L575.5,50.8 L577.8,51.2 L580.1,51.6 L582.4,51.9 L584.7,52.2 L587.0,52.3 L589.3,52.4 L591.6,52.5 L593.9,52.6 L596.2,52.6 L598.5,52.8 L600.8,52.9 L603.1,53.0 L605.5,53.0 L607.8,52.9 L610.1,52.6 L612.4,52.1 L614.7,51.5 L617.0,50.6 L619.3,49.6 L621.6,48.5 L623.9,47.3 L626.2,46.1 L628.5,44.9 L630.8,43.6 L633.1,42.4 L635.4,41.1 L637.7,39.9 L640.0,38.6 L642.3,37.4 L644.6,36.1 L646.9,34.8 L649.2,33.6 L651.5,32.3 L653.8,31.1 L656.1,29.8 L658.4,28.6 L660.7,27.4 L663.0,26.2 L665.3,25.0 L667.6,23.8 L669.9,22.7 L672.2,21.5 L672.2,81.4 L669.9,81.2 L667.6,81.0 L665.3,80.8 L663.0,80.7 L660.7,80.5 L658.4,80.3 L656.1,80.1 L653.8,79.8 L651.5,79.7 L649.2,79.5 L646.9,79.3 L644.6,79.1 L642.3,78.9 L640.0,78.8 L637.7,78.6 L635.4,78.5 L633.1,78.4 L630.8,78.3 L628.5,78.2 L626.2,78.1 L623.9,78.0 L621.6,77.9 L619.3,77.8 L617.0,77.7 L614.7,77.6 L612.4,77.5 L610.1,77.4 L607.8,77.3 L605.5,77.2 L603.1,77.1 L600.8,77.1 L598.5,77.0 L596.2,77.1 L593.9,77.1 L591.6,77.3 L589.3,77.4 L587.0,77.6 L584.7,77.8 L582.4,78.0 L580.1,78.2 L577.8,78.5 L575.5,78.7 L573.2,79.0 L570.9,79.4 L568.6,79.8 L566.3,80.2 L564.0,80.7 L561.7,81.3 L559.4,81.9 L557.1,82.5 L554.8,83.2 L552.5,83.9 L550.2,84.6 L547.9,85.4 L545.6,86.1 L543.3,86.8 L541.0,87.5 L538.7,88.1 L536.4,88.8Z" fill="#ad6767" fill-opacity="0.25"/><line x1="536.4" y1="71.8" x2="672.2" y2="60.6" stroke="#bd3b2f" stroke-width="1" stroke-dasharray="2.4,1.3" stroke-opacity="0.85"/><polyline points="536.4,82.6 551.5,82.6 566.6,49.8 581.7,82.6 596.8,78.5 611.8,29.3 626.9,58.0 642.0,33.4 657.1,82.6 672.2,82.6" fill="none" stroke="#bd3b2f" stroke-width="1.6" stroke-linejoin="round"/><circle cx="536.4" cy="82.6" r="1.7" fill="#bd3b2f"/><circle cx="551.5" cy="82.6" r="1.7" fill="#bd3b2f"/><circle cx="566.6" cy="49.8" r="1.7" fill="#bd3b2f"/><circle cx="581.7" cy="82.6" r="1.7" fill="#bd3b2f"/><circle cx="596.8" cy="78.5" r="1.7" fill="#bd3b2f"/><circle cx="611.8" cy="29.3" r="1.7" fill="#bd3b2f"/><circle cx="626.9" cy="58.0" r="1.7" fill="#bd3b2f"/><circle cx="642.0" cy="33.4" r="1.7" fill="#bd3b2f"/><circle cx="657.1" cy="82.6" r="1.7" fill="#bd3b2f"/><circle cx="672.2" cy="82.6" r="1.7" fill="#bd3b2f"/></g><rect x="536.4" y="2.3" width="135.8" height="107.0" fill="none" class="spine"/><line x1="551.5" y1="109.3" x2="551.5" y2="112.1" class="tick"/><text x="551.8" y="121.8" class="tl" text-anchor="middle" textLength="23.4" lengthAdjust="spacingAndGlyphs">2016</text><line x1="581.7" y1="109.3" x2="581.7" y2="112.1" class="tick"/><text x="582.0" y="121.8" class="tl" text-anchor="middle" textLength="23.4" lengthAdjust="spacingAndGlyphs">2018</text><line x1="611.8" y1="109.3" x2="611.8" y2="112.1" class="tick"/><text x="612.1" y="121.8" class="tl" text-anchor="middle" textLength="23.4" lengthAdjust="spacingAndGlyphs">2020</text><line x1="642.0" y1="109.3" x2="642.0" y2="112.1" class="tick"/><text x="642.3" y="121.8" class="tl" text-anchor="middle" textLength="23.4" lengthAdjust="spacingAndGlyphs">2022</text><line x1="672.2" y1="109.3" x2="672.2" y2="112.1" class="tick"/><text x="672.5" y="121.8" class="tl" text-anchor="middle" textLength="23.4" lengthAdjust="spacingAndGlyphs">2024</text><line x1="533.6" y1="82.6" x2="536.4" y2="82.6" class="tick"/><text x="531.4" y="86.5" class="tl" text-anchor="end" textLength="5.8" lengthAdjust="spacingAndGlyphs">0</text><line x1="533.6" y1="41.6" x2="536.4" y2="41.6" class="tick"/><text x="531.4" y="45.5" class="tl" text-anchor="end" textLength="11.7" lengthAdjust="spacingAndGlyphs">10</text><text x="604.3" y="14.1" text-anchor="middle" font-size="11.2" font-weight="bold" fill="#b83c30" stroke="#b83c30" stroke-width="0.3" textLength="42" lengthAdjust="spacingAndGlyphs">Europe</text><g clip-path="url(#clipAsia)"><line x1="551.5" y1="131.1" x2="551.5" y2="238.2" class="grid"/><line x1="581.7" y1="131.1" x2="581.7" y2="238.2" class="grid"/><line x1="611.8" y1="131.1" x2="611.8" y2="238.2" class="grid"/><line x1="642.0" y1="131.1" x2="642.0" y2="238.2" class="grid"/><line x1="672.2" y1="131.1" x2="672.2" y2="238.2" class="grid"/><line x1="536.4" y1="221.0" x2="672.2" y2="221.0" class="grid"/><line x1="536.4" y1="199.1" x2="672.2" y2="199.1" class="grid"/><line x1="536.4" y1="177.1" x2="672.2" y2="177.1" class="grid"/><line x1="536.4" y1="155.1" x2="672.2" y2="155.1" class="grid"/><line x1="536.4" y1="133.2" x2="672.2" y2="133.2" class="grid"/><path d="M536.4,185.1 L538.7,185.5 L541.0,185.8 L543.3,186.1 L545.6,186.5 L547.9,186.8 L550.2,187.0 L552.5,187.3 L554.8,187.6 L557.1,187.9 L559.4,188.1 L561.7,188.4 L564.0,188.7 L566.3,189.0 L568.6,189.3 L570.9,189.6 L573.2,189.9 L575.5,190.0 L577.8,190.1 L580.1,190.0 L582.4,189.8 L584.7,189.4 L587.0,188.9 L589.3,188.2 L591.6,187.5 L593.9,186.7 L596.2,185.8 L598.5,184.9 L600.8,184.1 L603.1,183.2 L605.5,182.3 L607.8,181.4 L610.1,180.6 L612.4,179.7 L614.7,178.9 L617.0,178.0 L619.3,177.2 L621.6,176.3 L623.9,175.5 L626.2,174.6 L628.5,173.7 L630.8,172.8 L633.1,171.9 L635.4,170.9 L637.7,170.0 L640.0,169.0 L642.3,168.0 L644.6,167.1 L646.9,166.1 L649.2,165.1 L651.5,164.2 L653.8,163.2 L656.1,162.3 L658.4,161.4 L660.7,160.6 L663.0,159.8 L665.3,159.0 L667.6,158.4 L669.9,157.7 L672.2,157.2 L672.2,212.7 L669.9,212.3 L667.6,211.8 L665.3,211.4 L663.0,211.0 L660.7,210.5 L658.4,210.1 L656.1,209.7 L653.8,209.2 L651.5,208.8 L649.2,208.3 L646.9,207.9 L644.6,207.4 L642.3,207.0 L640.0,206.6 L637.7,206.2 L635.4,205.8 L633.1,205.5 L630.8,205.2 L628.5,204.9 L626.2,204.7 L623.9,204.6 L621.6,204.5 L619.3,204.4 L617.0,204.4 L614.7,204.3 L612.4,204.3 L610.1,204.3 L607.8,204.3 L605.5,204.3 L603.1,204.3 L600.8,204.4 L598.5,204.6 L596.2,204.8 L593.9,205.2 L591.6,205.6 L589.3,206.2 L587.0,206.8 L584.7,207.5 L582.4,208.2 L580.1,209.0 L577.8,209.8 L575.5,210.6 L573.2,211.5 L570.9,212.4 L568.6,213.3 L566.3,214.3 L564.0,215.2 L561.7,216.2 L559.4,217.3 L557.1,218.3 L554.8,219.3 L552.5,220.3 L550.2,221.3 L547.9,222.2 L545.6,223.2 L543.3,224.0 L541.0,224.9 L538.7,225.6 L536.4,226.4Z" fill="#ad6767" fill-opacity="0.25"/><line x1="536.4" y1="203.2" x2="672.2" y2="184.9" stroke="#bd3b2f" stroke-width="1" stroke-dasharray="2.4,1.3" stroke-opacity="0.85"/><polyline points="536.4,197.3 551.5,197.3 566.6,180.6 581.7,210.5 596.8,200.4 611.8,194.2 626.9,206.5 642.0,208.3 657.1,204.3 672.2,141.1" fill="none" stroke="#bd3b2f" stroke-width="1.6" stroke-linejoin="round"/><circle cx="536.4" cy="197.3" r="1.7" fill="#bd3b2f"/><circle cx="551.5" cy="197.3" r="1.7" fill="#bd3b2f"/><circle cx="566.6" cy="180.6" r="1.7" fill="#bd3b2f"/><circle cx="581.7" cy="210.5" r="1.7" fill="#bd3b2f"/><circle cx="596.8" cy="200.4" r="1.7" fill="#bd3b2f"/><circle cx="611.8" cy="194.2" r="1.7" fill="#bd3b2f"/><circle cx="626.9" cy="206.5" r="1.7" fill="#bd3b2f"/><circle cx="642.0" cy="208.3" r="1.7" fill="#bd3b2f"/><circle cx="657.1" cy="204.3" r="1.7" fill="#bd3b2f"/><circle cx="672.2" cy="141.1" r="1.7" fill="#bd3b2f"/></g><rect x="536.4" y="131.1" width="135.8" height="107.1" fill="none" class="spine"/><line x1="551.5" y1="238.2" x2="551.5" y2="241.0" class="tick"/><text x="551.8" y="250.7" class="tl" text-anchor="middle" textLength="23.4" lengthAdjust="spacingAndGlyphs">2016</text><line x1="581.7" y1="238.2" x2="581.7" y2="241.0" class="tick"/><text x="582.0" y="250.7" class="tl" text-anchor="middle" textLength="23.4" lengthAdjust="spacingAndGlyphs">2018</text><line x1="611.8" y1="238.2" x2="611.8" y2="241.0" class="tick"/><text x="612.1" y="250.7" class="tl" text-anchor="middle" textLength="23.4" lengthAdjust="spacingAndGlyphs">2020</text><line x1="642.0" y1="238.2" x2="642.0" y2="241.0" class="tick"/><text x="642.3" y="250.7" class="tl" text-anchor="middle" textLength="23.4" lengthAdjust="spacingAndGlyphs">2022</text><line x1="672.2" y1="238.2" x2="672.2" y2="241.0" class="tick"/><text x="672.5" y="250.7" class="tl" text-anchor="middle" textLength="23.4" lengthAdjust="spacingAndGlyphs">2024</text><line x1="533.6" y1="221.0" x2="536.4" y2="221.0" class="tick"/><text x="531.4" y="224.9" class="tl" text-anchor="end" textLength="5.8" lengthAdjust="spacingAndGlyphs">0</text><line x1="533.6" y1="199.1" x2="536.4" y2="199.1" class="tick"/><text x="531.4" y="203.0" class="tl" text-anchor="end" textLength="17.5" lengthAdjust="spacingAndGlyphs">250</text><line x1="533.6" y1="177.1" x2="536.4" y2="177.1" class="tick"/><text x="531.4" y="181.0" class="tl" text-anchor="end" textLength="17.5" lengthAdjust="spacingAndGlyphs">500</text><line x1="533.6" y1="155.1" x2="536.4" y2="155.1" class="tick"/><text x="531.4" y="159.0" class="tl" text-anchor="end" textLength="17.5" lengthAdjust="spacingAndGlyphs">750</text><line x1="533.6" y1="133.2" x2="536.4" y2="133.2" class="tick"/><text x="531.4" y="137.1" class="tl" text-anchor="end" textLength="23.4" lengthAdjust="spacingAndGlyphs">1000</text><text x="604" y="143.2" text-anchor="middle" font-size="11.2" font-weight="bold" fill="#b83c30" stroke="#b83c30" stroke-width="0.3" textLength="26" lengthAdjust="spacingAndGlyphs">Asia</text><g clip-path="url(#clipAmericas)"><line x1="54.3" y1="260.1" x2="54.3" y2="366.9" class="grid"/><line x1="84.4" y1="260.1" x2="84.4" y2="366.9" class="grid"/><line x1="114.5" y1="260.1" x2="114.5" y2="366.9" class="grid"/><line x1="144.6" y1="260.1" x2="144.6" y2="366.9" class="grid"/><line x1="174.7" y1="260.1" x2="174.7" y2="366.9" class="grid"/><line x1="39.3" y1="343.5" x2="174.7" y2="343.5" class="grid"/><line x1="39.3" y1="311.6" x2="174.7" y2="311.6" class="grid"/><line x1="39.3" y1="279.7" x2="174.7" y2="279.7" class="grid"/><path d="M39.3,279.4 L41.6,280.0 L43.9,280.7 L46.2,281.4 L48.5,282.2 L50.8,282.9 L53.1,283.7 L55.4,284.5 L57.7,285.4 L60.0,286.2 L62.2,287.1 L64.5,288.0 L66.8,288.9 L69.1,289.8 L71.4,290.8 L73.7,291.7 L76.0,292.7 L78.3,293.7 L80.6,294.6 L82.9,295.6 L85.2,296.6 L87.5,297.6 L89.8,298.6 L92.1,299.5 L94.4,300.5 L96.7,301.4 L99.0,302.3 L101.3,303.2 L103.6,304.1 L105.9,305.0 L108.1,305.8 L110.4,306.6 L112.7,307.5 L115.0,308.3 L117.3,309.1 L119.6,309.8 L121.9,310.5 L124.2,311.2 L126.5,311.8 L128.8,312.3 L131.1,312.6 L133.4,312.9 L135.7,313.1 L138.0,313.2 L140.3,313.2 L142.6,313.2 L144.9,313.0 L147.2,312.8 L149.5,312.6 L151.8,312.2 L154.0,311.9 L156.3,311.5 L158.6,311.1 L160.9,310.7 L163.2,310.3 L165.5,310.0 L167.8,309.6 L170.1,309.3 L172.4,309.0 L174.7,308.7 L174.7,359.0 L172.4,357.4 L170.1,356.0 L167.8,354.6 L165.5,353.3 L163.2,352.1 L160.9,351.0 L158.6,349.9 L156.3,348.8 L154.0,347.8 L151.8,346.7 L149.5,345.7 L147.2,344.7 L144.9,343.6 L142.6,342.5 L140.3,341.4 L138.0,340.3 L135.7,339.3 L133.4,338.3 L131.1,337.5 L128.8,336.7 L126.5,336.1 L124.2,335.7 L121.9,335.3 L119.6,335.1 L117.3,335.0 L115.0,334.9 L112.7,334.9 L110.4,334.9 L108.1,335.0 L105.9,335.2 L103.6,335.4 L101.3,335.6 L99.0,335.9 L96.7,336.2 L94.4,336.6 L92.1,337.0 L89.8,337.5 L87.5,337.9 L85.2,338.4 L82.9,338.9 L80.6,339.4 L78.3,339.9 L76.0,340.4 L73.7,341.0 L71.4,341.5 L69.1,342.1 L66.8,342.7 L64.5,343.3 L62.2,344.0 L60.0,344.6 L57.7,345.3 L55.4,345.9 L53.1,346.6 L50.8,347.2 L48.5,347.9 L46.2,348.5 L43.9,349.1 L41.6,349.8 L39.3,350.4Z" fill="#7998ad" fill-opacity="0.25"/><line x1="39.3" y1="306.9" x2="174.7" y2="330.8" stroke="#3b6b94" stroke-width="1" stroke-dasharray="2.4,1.3" stroke-opacity="0.85"/><polyline points="39.3,271.7 54.3,341.9 69.4,282.9 84.4,337.9 99.5,332.3 114.5,331.5 129.6,340.3 144.6,312.4 159.7,306.8 174.7,330.7" fill="none" stroke="#3b6b94" stroke-width="1.6" stroke-linejoin="round"/><circle cx="39.3" cy="271.7" r="1.7" fill="#3b6b94"/><circle cx="54.3" cy="341.9" r="1.7" fill="#3b6b94"/><circle cx="69.4" cy="282.9" r="1.7" fill="#3b6b94"/><circle cx="84.4" cy="337.9" r="1.7" fill="#3b6b94"/><circle cx="99.5" cy="332.3" r="1.7" fill="#3b6b94"/><circle cx="114.5" cy="331.5" r="1.7" fill="#3b6b94"/><circle cx="129.6" cy="340.3" r="1.7" fill="#3b6b94"/><circle cx="144.6" cy="312.4" r="1.7" fill="#3b6b94"/><circle cx="159.7" cy="306.8" r="1.7" fill="#3b6b94"/><circle cx="174.7" cy="330.7" r="1.7" fill="#3b6b94"/></g><rect x="39.3" y="260.1" width="135.4" height="106.8" fill="none" class="spine"/><line x1="54.3" y1="366.9" x2="54.3" y2="369.7" class="tick"/><text x="54.6" y="379.4" class="tl" text-anchor="middle" textLength="23.4" lengthAdjust="spacingAndGlyphs">2016</text><line x1="84.4" y1="366.9" x2="84.4" y2="369.7" class="tick"/><text x="84.7" y="379.4" class="tl" text-anchor="middle" textLength="23.4" lengthAdjust="spacingAndGlyphs">2018</text><line x1="114.5" y1="366.9" x2="114.5" y2="369.7" class="tick"/><text x="114.8" y="379.4" class="tl" text-anchor="middle" textLength="23.4" lengthAdjust="spacingAndGlyphs">2020</text><line x1="144.6" y1="366.9" x2="144.6" y2="369.7" class="tick"/><text x="144.9" y="379.4" class="tl" text-anchor="middle" textLength="23.4" lengthAdjust="spacingAndGlyphs">2022</text><line x1="174.7" y1="366.9" x2="174.7" y2="369.7" class="tick"/><text x="175.0" y="379.4" class="tl" text-anchor="middle" textLength="23.4" lengthAdjust="spacingAndGlyphs">2024</text><line x1="36.5" y1="343.5" x2="39.3" y2="343.5" class="tick"/><text x="34.3" y="347.4" class="tl" text-anchor="end" textLength="5.8" lengthAdjust="spacingAndGlyphs">0</text><line x1="36.5" y1="311.6" x2="39.3" y2="311.6" class="tick"/><text x="34.3" y="315.5" class="tl" text-anchor="end" textLength="17.5" lengthAdjust="spacingAndGlyphs">200</text><line x1="36.5" y1="279.7" x2="39.3" y2="279.7" class="tick"/><text x="34.3" y="283.6" class="tl" text-anchor="end" textLength="17.5" lengthAdjust="spacingAndGlyphs">400</text><text x="107" y="271.5" text-anchor="middle" font-size="11.2" font-weight="bold" fill="#2e5b86" stroke="#2e5b86" stroke-width="0.3" textLength="55.7" lengthAdjust="spacingAndGlyphs">Americas</text><g clip-path="url(#clipAfrica)"><line x1="219.8" y1="260.1" x2="219.8" y2="366.9" class="grid"/><line x1="250.0" y1="260.1" x2="250.0" y2="366.9" class="grid"/><line x1="280.1" y1="260.1" x2="280.1" y2="366.9" class="grid"/><line x1="310.3" y1="260.1" x2="310.3" y2="366.9" class="grid"/><line x1="340.5" y1="260.1" x2="340.5" y2="366.9" class="grid"/><line x1="204.7" y1="342.1" x2="340.5" y2="342.1" class="grid"/><line x1="204.7" y1="316.9" x2="340.5" y2="316.9" class="grid"/><line x1="204.7" y1="291.6" x2="340.5" y2="291.6" class="grid"/><line x1="204.7" y1="266.4" x2="340.5" y2="266.4" class="grid"/><path d="M204.7,314.2 L207.0,314.3 L209.3,314.4 L211.6,314.5 L213.9,314.7 L216.2,314.8 L218.5,314.9 L220.8,315.0 L223.1,315.1 L225.4,315.2 L227.7,315.3 L230.0,315.4 L232.3,315.5 L234.6,315.6 L236.9,315.6 L239.2,315.7 L241.5,315.7 L243.8,315.6 L246.1,315.4 L248.4,315.2 L250.7,314.8 L253.0,314.4 L255.3,313.8 L257.6,313.2 L259.9,312.5 L262.2,311.8 L264.5,311.0 L266.8,310.2 L269.1,309.3 L271.4,308.5 L273.8,307.6 L276.1,306.8 L278.4,305.9 L280.7,305.1 L283.0,304.2 L285.3,303.3 L287.6,302.5 L289.9,301.6 L292.2,300.7 L294.5,299.9 L296.8,299.0 L299.1,298.1 L301.4,297.3 L303.7,296.4 L306.0,295.5 L308.3,294.7 L310.6,293.8 L312.9,292.9 L315.2,292.1 L317.5,291.2 L319.8,290.4 L322.1,289.6 L324.4,288.7 L326.7,287.9 L329.0,287.0 L331.3,286.2 L333.6,285.3 L335.9,284.4 L338.2,283.5 L340.5,282.7 L340.5,339.7 L338.2,339.5 L335.9,339.3 L333.6,339.1 L331.3,339.0 L329.0,338.8 L326.7,338.7 L324.4,338.5 L322.1,338.3 L319.8,338.2 L317.5,338.0 L315.2,337.8 L312.9,337.6 L310.6,337.3 L308.3,337.1 L306.0,336.8 L303.7,336.5 L301.4,336.2 L299.1,335.9 L296.8,335.7 L294.5,335.5 L292.2,335.3 L289.9,335.1 L287.6,335.0 L285.3,335.0 L283.0,334.9 L280.7,334.9 L278.4,334.9 L276.1,335.0 L273.8,335.0 L271.4,335.2 L269.1,335.3 L266.8,335.6 L264.5,335.9 L262.2,336.2 L259.9,336.6 L257.6,337.1 L255.3,337.6 L253.0,338.1 L250.7,338.7 L248.4,339.4 L246.1,340.0 L243.8,340.8 L241.5,341.5 L239.2,342.3 L236.9,343.1 L234.6,344.0 L232.3,344.9 L230.0,345.8 L227.7,346.7 L225.4,347.7 L223.1,348.7 L220.8,349.6 L218.5,350.6 L216.2,351.5 L213.9,352.4 L211.6,353.3 L209.3,354.2 L207.0,355.0 L204.7,355.7Z" fill="#ad6767" fill-opacity="0.25"/><line x1="204.7" y1="336.3" x2="340.5" y2="306.9" stroke="#bd3b2f" stroke-width="1" stroke-dasharray="2.4,1.3" stroke-opacity="0.85"/><polyline points="204.7,338.9 219.8,333.9 234.9,319.4 250.0,325.7 265.1,290.4 280.1,339.6 295.2,342.1 310.3,337.7 325.4,318.1 340.5,270.2" fill="none" stroke="#bd3b2f" stroke-width="1.6" stroke-linejoin="round"/><circle cx="204.7" cy="338.9" r="1.7" fill="#bd3b2f"/><circle cx="219.8" cy="333.9" r="1.7" fill="#bd3b2f"/><circle cx="234.9" cy="319.4" r="1.7" fill="#bd3b2f"/><circle cx="250.0" cy="325.7" r="1.7" fill="#bd3b2f"/><circle cx="265.1" cy="290.4" r="1.7" fill="#bd3b2f"/><circle cx="280.1" cy="339.6" r="1.7" fill="#bd3b2f"/><circle cx="295.2" cy="342.1" r="1.7" fill="#bd3b2f"/><circle cx="310.3" cy="337.7" r="1.7" fill="#bd3b2f"/><circle cx="325.4" cy="318.1" r="1.7" fill="#bd3b2f"/><circle cx="340.5" cy="270.2" r="1.7" fill="#bd3b2f"/></g><rect x="204.7" y="260.1" width="135.8" height="106.8" fill="none" class="spine"/><line x1="219.8" y1="366.9" x2="219.8" y2="369.7" class="tick"/><text x="220.1" y="379.4" class="tl" text-anchor="middle" textLength="23.4" lengthAdjust="spacingAndGlyphs">2016</text><line x1="250.0" y1="366.9" x2="250.0" y2="369.7" class="tick"/><text x="250.3" y="379.4" class="tl" text-anchor="middle" textLength="23.4" lengthAdjust="spacingAndGlyphs">2018</text><line x1="280.1" y1="366.9" x2="280.1" y2="369.7" class="tick"/><text x="280.4" y="379.4" class="tl" text-anchor="middle" textLength="23.4" lengthAdjust="spacingAndGlyphs">2020</text><line x1="310.3" y1="366.9" x2="310.3" y2="369.7" class="tick"/><text x="310.6" y="379.4" class="tl" text-anchor="middle" textLength="23.4" lengthAdjust="spacingAndGlyphs">2022</text><line x1="340.5" y1="366.9" x2="340.5" y2="369.7" class="tick"/><text x="340.8" y="379.4" class="tl" text-anchor="middle" textLength="23.4" lengthAdjust="spacingAndGlyphs">2024</text><line x1="201.9" y1="342.1" x2="204.7" y2="342.1" class="tick"/><text x="199.7" y="346.0" class="tl" text-anchor="end" textLength="5.8" lengthAdjust="spacingAndGlyphs">0</text><line x1="201.9" y1="316.9" x2="204.7" y2="316.9" class="tick"/><text x="199.7" y="320.8" class="tl" text-anchor="end" textLength="17.5" lengthAdjust="spacingAndGlyphs">200</text><line x1="201.9" y1="291.6" x2="204.7" y2="291.6" class="tick"/><text x="199.7" y="295.5" class="tl" text-anchor="end" textLength="17.5" lengthAdjust="spacingAndGlyphs">400</text><line x1="201.9" y1="266.4" x2="204.7" y2="266.4" class="tick"/><text x="199.7" y="270.3" class="tl" text-anchor="end" textLength="17.5" lengthAdjust="spacingAndGlyphs">600</text><text x="272.3" y="271.5" text-anchor="middle" font-size="11.2" font-weight="bold" fill="#b83c30" stroke="#b83c30" stroke-width="0.3" textLength="35.2" lengthAdjust="spacingAndGlyphs">Africa</text><g clip-path="url(#clipOceania)"><line x1="385.6" y1="260.1" x2="385.6" y2="366.9" class="grid"/><line x1="415.8" y1="260.1" x2="415.8" y2="366.9" class="grid"/><line x1="445.9" y1="260.1" x2="445.9" y2="366.9" class="grid"/><line x1="476.1" y1="260.1" x2="476.1" y2="366.9" class="grid"/><line x1="506.3" y1="260.1" x2="506.3" y2="366.9" class="grid"/><line x1="370.5" y1="366.4" x2="506.3" y2="366.4" class="grid"/><line x1="370.5" y1="343.4" x2="506.3" y2="343.4" class="grid"/><line x1="370.5" y1="320.4" x2="506.3" y2="320.4" class="grid"/><line x1="370.5" y1="297.4" x2="506.3" y2="297.4" class="grid"/><line x1="370.5" y1="274.4" x2="506.3" y2="274.4" class="grid"/><path d="M370.5,326.1 L372.8,326.3 L375.1,326.4 L377.4,326.5 L379.7,326.7 L382.0,326.8 L384.3,327.0 L386.6,327.1 L388.9,327.2 L391.2,327.3 L393.5,327.3 L395.8,327.3 L398.1,327.2 L400.4,327.1 L402.7,326.9 L405.0,326.6 L407.3,326.2 L409.6,325.8 L411.9,325.3 L414.2,324.7 L416.5,324.1 L418.8,323.5 L421.1,322.8 L423.4,322.0 L425.7,321.2 L428.0,320.4 L430.3,319.5 L432.6,318.5 L434.9,317.5 L437.2,316.5 L439.6,315.4 L441.9,314.2 L444.2,313.1 L446.5,311.8 L448.8,310.6 L451.1,309.3 L453.4,308.0 L455.7,306.7 L458.0,305.4 L460.3,304.1 L462.6,302.7 L464.9,301.4 L467.2,300.1 L469.5,298.8 L471.8,297.5 L474.1,296.2 L476.4,295.0 L478.7,293.7 L481.0,292.4 L483.3,291.2 L485.6,289.9 L487.9,288.6 L490.2,287.4 L492.5,286.1 L494.8,284.8 L497.1,283.6 L499.4,282.3 L501.7,281.0 L504.0,279.6 L506.3,278.3 L506.3,343.4 L504.0,343.4 L501.7,343.4 L499.4,343.4 L497.1,343.4 L494.8,343.4 L492.5,343.4 L490.2,343.4 L487.9,343.4 L485.6,343.4 L483.3,343.4 L481.0,343.4 L478.7,343.4 L476.4,343.4 L474.1,343.4 L471.8,343.4 L469.5,343.4 L467.2,343.4 L464.9,343.4 L462.6,343.4 L460.3,343.4 L458.0,343.4 L455.7,343.4 L453.4,343.4 L451.1,343.4 L448.8,343.4 L446.5,343.4 L444.2,343.4 L441.9,343.4 L439.6,343.5 L437.2,343.6 L434.9,343.7 L432.6,343.9 L430.3,344.2 L428.0,344.5 L425.7,344.9 L423.4,345.4 L421.1,345.9 L418.8,346.5 L416.5,347.1 L414.2,347.7 L411.9,348.3 L409.6,349.0 L407.3,349.6 L405.0,350.2 L402.7,350.9 L400.4,351.5 L398.1,352.2 L395.8,352.8 L393.5,353.5 L391.2,354.2 L388.9,354.9 L386.6,355.5 L384.3,356.2 L382.0,356.8 L379.7,357.5 L377.4,358.1 L375.1,358.8 L372.8,359.4 L370.5,360.0Z" fill="#ad6767" fill-opacity="0.25"/><line x1="370.5" y1="346.3" x2="506.3" y2="312.0" stroke="#bd3b2f" stroke-width="1" stroke-dasharray="2.4,1.3" stroke-opacity="0.85"/><polyline points="370.5,343.4 385.6,343.4 400.7,343.4 415.8,343.4 430.9,320.4 445.9,290.5 461.0,343.4 476.1,343.4 491.2,343.4 506.3,276.7" fill="none" stroke="#bd3b2f" stroke-width="1.6" stroke-linejoin="round"/><circle cx="370.5" cy="343.4" r="1.7" fill="#bd3b2f"/><circle cx="385.6" cy="343.4" r="1.7" fill="#bd3b2f"/><circle cx="400.7" cy="343.4" r="1.7" fill="#bd3b2f"/><circle cx="415.8" cy="343.4" r="1.7" fill="#bd3b2f"/><circle cx="430.9" cy="320.4" r="1.7" fill="#bd3b2f"/><circle cx="445.9" cy="290.5" r="1.7" fill="#bd3b2f"/><circle cx="461.0" cy="343.4" r="1.7" fill="#bd3b2f"/><circle cx="476.1" cy="343.4" r="1.7" fill="#bd3b2f"/><circle cx="491.2" cy="343.4" r="1.7" fill="#bd3b2f"/><circle cx="506.3" cy="276.7" r="1.7" fill="#bd3b2f"/></g><rect x="370.5" y="260.1" width="135.8" height="106.8" fill="none" class="spine"/><line x1="385.6" y1="366.9" x2="385.6" y2="369.7" class="tick"/><text x="385.9" y="379.4" class="tl" text-anchor="middle" textLength="23.4" lengthAdjust="spacingAndGlyphs">2016</text><line x1="415.8" y1="366.9" x2="415.8" y2="369.7" class="tick"/><text x="416.1" y="379.4" class="tl" text-anchor="middle" textLength="23.4" lengthAdjust="spacingAndGlyphs">2018</text><line x1="445.9" y1="366.9" x2="445.9" y2="369.7" class="tick"/><text x="446.2" y="379.4" class="tl" text-anchor="middle" textLength="23.4" lengthAdjust="spacingAndGlyphs">2020</text><line x1="476.1" y1="366.9" x2="476.1" y2="369.7" class="tick"/><text x="476.4" y="379.4" class="tl" text-anchor="middle" textLength="23.4" lengthAdjust="spacingAndGlyphs">2022</text><line x1="506.3" y1="366.9" x2="506.3" y2="369.7" class="tick"/><text x="506.6" y="379.4" class="tl" text-anchor="middle" textLength="23.4" lengthAdjust="spacingAndGlyphs">2024</text><line x1="367.7" y1="366.4" x2="370.5" y2="366.4" class="tick"/><text x="365.5" y="370.3" class="tl" text-anchor="end" textLength="15.3" lengthAdjust="spacingAndGlyphs">-10</text><line x1="367.7" y1="343.4" x2="370.5" y2="343.4" class="tick"/><text x="365.5" y="347.3" class="tl" text-anchor="end" textLength="5.8" lengthAdjust="spacingAndGlyphs">0</text><line x1="367.7" y1="320.4" x2="370.5" y2="320.4" class="tick"/><text x="365.5" y="324.3" class="tl" text-anchor="end" textLength="11.7" lengthAdjust="spacingAndGlyphs">10</text><line x1="367.7" y1="297.4" x2="370.5" y2="297.4" class="tick"/><text x="365.5" y="301.3" class="tl" text-anchor="end" textLength="11.7" lengthAdjust="spacingAndGlyphs">20</text><line x1="367.7" y1="274.4" x2="370.5" y2="274.4" class="tick"/><text x="365.5" y="278.3" class="tl" text-anchor="end" textLength="11.7" lengthAdjust="spacingAndGlyphs">30</text><text x="438.4" y="271.5" text-anchor="middle" font-size="11.2" font-weight="bold" fill="#b83c30" stroke="#b83c30" stroke-width="0.3" textLength="48.5" lengthAdjust="spacingAndGlyphs">Oceania</text><g clip-path="url(#clipGlobal)"><line x1="551.7" y1="260.1" x2="551.7" y2="366.9" class="grid"/><line x1="581.8" y1="260.1" x2="581.8" y2="366.9" class="grid"/><line x1="611.9" y1="260.1" x2="611.9" y2="366.9" class="grid"/><line x1="642.1" y1="260.1" x2="642.1" y2="366.9" class="grid"/><line x1="672.2" y1="260.1" x2="672.2" y2="366.9" class="grid"/><line x1="536.6" y1="349.3" x2="672.2" y2="349.3" class="grid"/><line x1="536.6" y1="324.6" x2="672.2" y2="324.6" class="grid"/><line x1="536.6" y1="299.9" x2="672.2" y2="299.9" class="grid"/><line x1="536.6" y1="275.2" x2="672.2" y2="275.2" class="grid"/><path d="M536.6,303.7 L538.9,304.4 L541.2,305.0 L543.5,305.6 L545.8,306.2 L548.1,306.6 L550.4,307.1 L552.7,307.5 L555.0,307.8 L557.3,308.2 L559.6,308.5 L561.9,308.8 L564.2,309.0 L566.5,309.3 L568.8,309.5 L571.1,309.7 L573.4,309.9 L575.7,310.0 L578.0,310.1 L580.3,310.1 L582.6,310.1 L584.9,310.0 L587.2,309.8 L589.5,309.6 L591.8,309.3 L594.1,309.0 L596.4,308.6 L598.7,308.2 L601.0,307.7 L603.3,307.2 L605.5,306.7 L607.8,306.1 L610.1,305.6 L612.4,305.0 L614.7,304.3 L617.0,303.7 L619.3,303.0 L621.6,302.3 L623.9,301.7 L626.2,301.0 L628.5,300.3 L630.8,299.7 L633.1,299.1 L635.4,298.4 L637.7,297.8 L640.0,297.1 L642.3,296.5 L644.6,295.9 L646.9,295.3 L649.2,294.6 L651.5,294.0 L653.8,293.3 L656.1,292.7 L658.4,292.0 L660.7,291.3 L663.0,290.6 L665.3,289.9 L667.6,289.2 L669.9,288.4 L672.2,287.6 L672.2,342.3 L669.9,341.7 L667.6,341.1 L665.3,340.5 L663.0,339.8 L660.7,339.2 L658.4,338.6 L656.1,338.0 L653.8,337.4 L651.5,336.8 L649.2,336.3 L646.9,335.7 L644.6,335.2 L642.3,334.6 L640.0,334.1 L637.7,333.7 L635.4,333.2 L633.1,332.8 L630.8,332.4 L628.5,332.0 L626.2,331.7 L623.9,331.4 L621.6,331.2 L619.3,331.0 L617.0,330.9 L614.7,330.9 L612.4,331.0 L610.1,331.2 L607.8,331.4 L605.5,331.8 L603.3,332.2 L601.0,332.8 L598.7,333.3 L596.4,334.0 L594.1,334.7 L591.8,335.4 L589.5,336.2 L587.2,337.0 L584.9,337.8 L582.6,338.7 L580.3,339.5 L578.0,340.3 L575.7,341.1 L573.4,341.9 L571.1,342.8 L568.8,343.7 L566.5,344.6 L564.2,345.6 L561.9,346.6 L559.6,347.7 L557.3,348.8 L555.0,349.9 L552.7,351.0 L550.4,352.2 L548.1,353.3 L545.8,354.5 L543.5,355.7 L541.2,356.9 L538.9,358.0 L536.6,359.2Z" fill="#ad6767" fill-opacity="0.25"/><line x1="536.6" y1="325.6" x2="672.2" y2="310.3" stroke="#bd3b2f" stroke-width="1" stroke-dasharray="2.4,1.3" stroke-opacity="0.85"/><polyline points="536.6,312.5 551.7,332.3 566.7,298.5 581.8,335.2 596.9,313.4 611.9,327.8 627.0,339.9 642.1,330.2 657.1,319.2 672.2,270.8" fill="none" stroke="#bd3b2f" stroke-width="2.4" stroke-linejoin="round"/><circle cx="536.6" cy="312.5" r="1.7" fill="#bd3b2f"/><circle cx="551.7" cy="332.3" r="1.7" fill="#bd3b2f"/><circle cx="566.7" cy="298.5" r="1.7" fill="#bd3b2f"/><circle cx="581.8" cy="335.2" r="1.7" fill="#bd3b2f"/><circle cx="596.9" cy="313.4" r="1.7" fill="#bd3b2f"/><circle cx="611.9" cy="327.8" r="1.7" fill="#bd3b2f"/><circle cx="627.0" cy="339.9" r="1.7" fill="#bd3b2f"/><circle cx="642.1" cy="330.2" r="1.7" fill="#bd3b2f"/><circle cx="657.1" cy="319.2" r="1.7" fill="#bd3b2f"/><circle cx="672.2" cy="270.8" r="1.7" fill="#bd3b2f"/></g><rect x="536.6" y="260.1" width="135.6" height="106.8" fill="none" class="spine"/><line x1="551.7" y1="366.9" x2="551.7" y2="369.7" class="tick"/><text x="552.0" y="379.4" class="tl" text-anchor="middle" textLength="23.4" lengthAdjust="spacingAndGlyphs">2016</text><line x1="581.8" y1="366.9" x2="581.8" y2="369.7" class="tick"/><text x="582.1" y="379.4" class="tl" text-anchor="middle" textLength="23.4" lengthAdjust="spacingAndGlyphs">2018</text><line x1="611.9" y1="366.9" x2="611.9" y2="369.7" class="tick"/><text x="612.2" y="379.4" class="tl" text-anchor="middle" textLength="23.4" lengthAdjust="spacingAndGlyphs">2020</text><line x1="642.1" y1="366.9" x2="642.1" y2="369.7" class="tick"/><text x="642.4" y="379.4" class="tl" text-anchor="middle" textLength="23.4" lengthAdjust="spacingAndGlyphs">2022</text><line x1="672.2" y1="366.9" x2="672.2" y2="369.7" class="tick"/><text x="672.5" y="379.4" class="tl" text-anchor="middle" textLength="23.4" lengthAdjust="spacingAndGlyphs">2024</text><line x1="533.8" y1="349.3" x2="536.6" y2="349.3" class="tick"/><text x="531.6" y="353.2" class="tl" text-anchor="end" textLength="5.8" lengthAdjust="spacingAndGlyphs">0</text><line x1="533.8" y1="324.6" x2="536.6" y2="324.6" class="tick"/><text x="531.6" y="328.5" class="tl" text-anchor="end" textLength="17.5" lengthAdjust="spacingAndGlyphs">500</text><line x1="533.8" y1="299.9" x2="536.6" y2="299.9" class="tick"/><text x="531.6" y="303.8" class="tl" text-anchor="end" textLength="23.4" lengthAdjust="spacingAndGlyphs">1000</text><line x1="533.8" y1="275.2" x2="536.6" y2="275.2" class="tick"/><text x="531.6" y="279.1" class="tl" text-anchor="end" textLength="23.4" lengthAdjust="spacingAndGlyphs">1500</text><text x="604.1" y="271.5" text-anchor="middle" font-size="11.2" font-weight="bold" fill="#b83c30" stroke="#b83c30" stroke-width="0.3" textLength="38.6" lengthAdjust="spacingAndGlyphs">Global</text>
<text x="515.9" y="56.9" transform="rotate(-90 515.9 56.9)" text-anchor="middle" font-size="14" fill="#111" textLength="43.5" lengthAdjust="spacingAndGlyphs">Deaths</text><text x="12.7" y="314.5" transform="rotate(-90 12.7 314.5)" text-anchor="middle" font-size="14" fill="#111" textLength="43.5" lengthAdjust="spacingAndGlyphs">Deaths</text>
</svg>
</body></html>
